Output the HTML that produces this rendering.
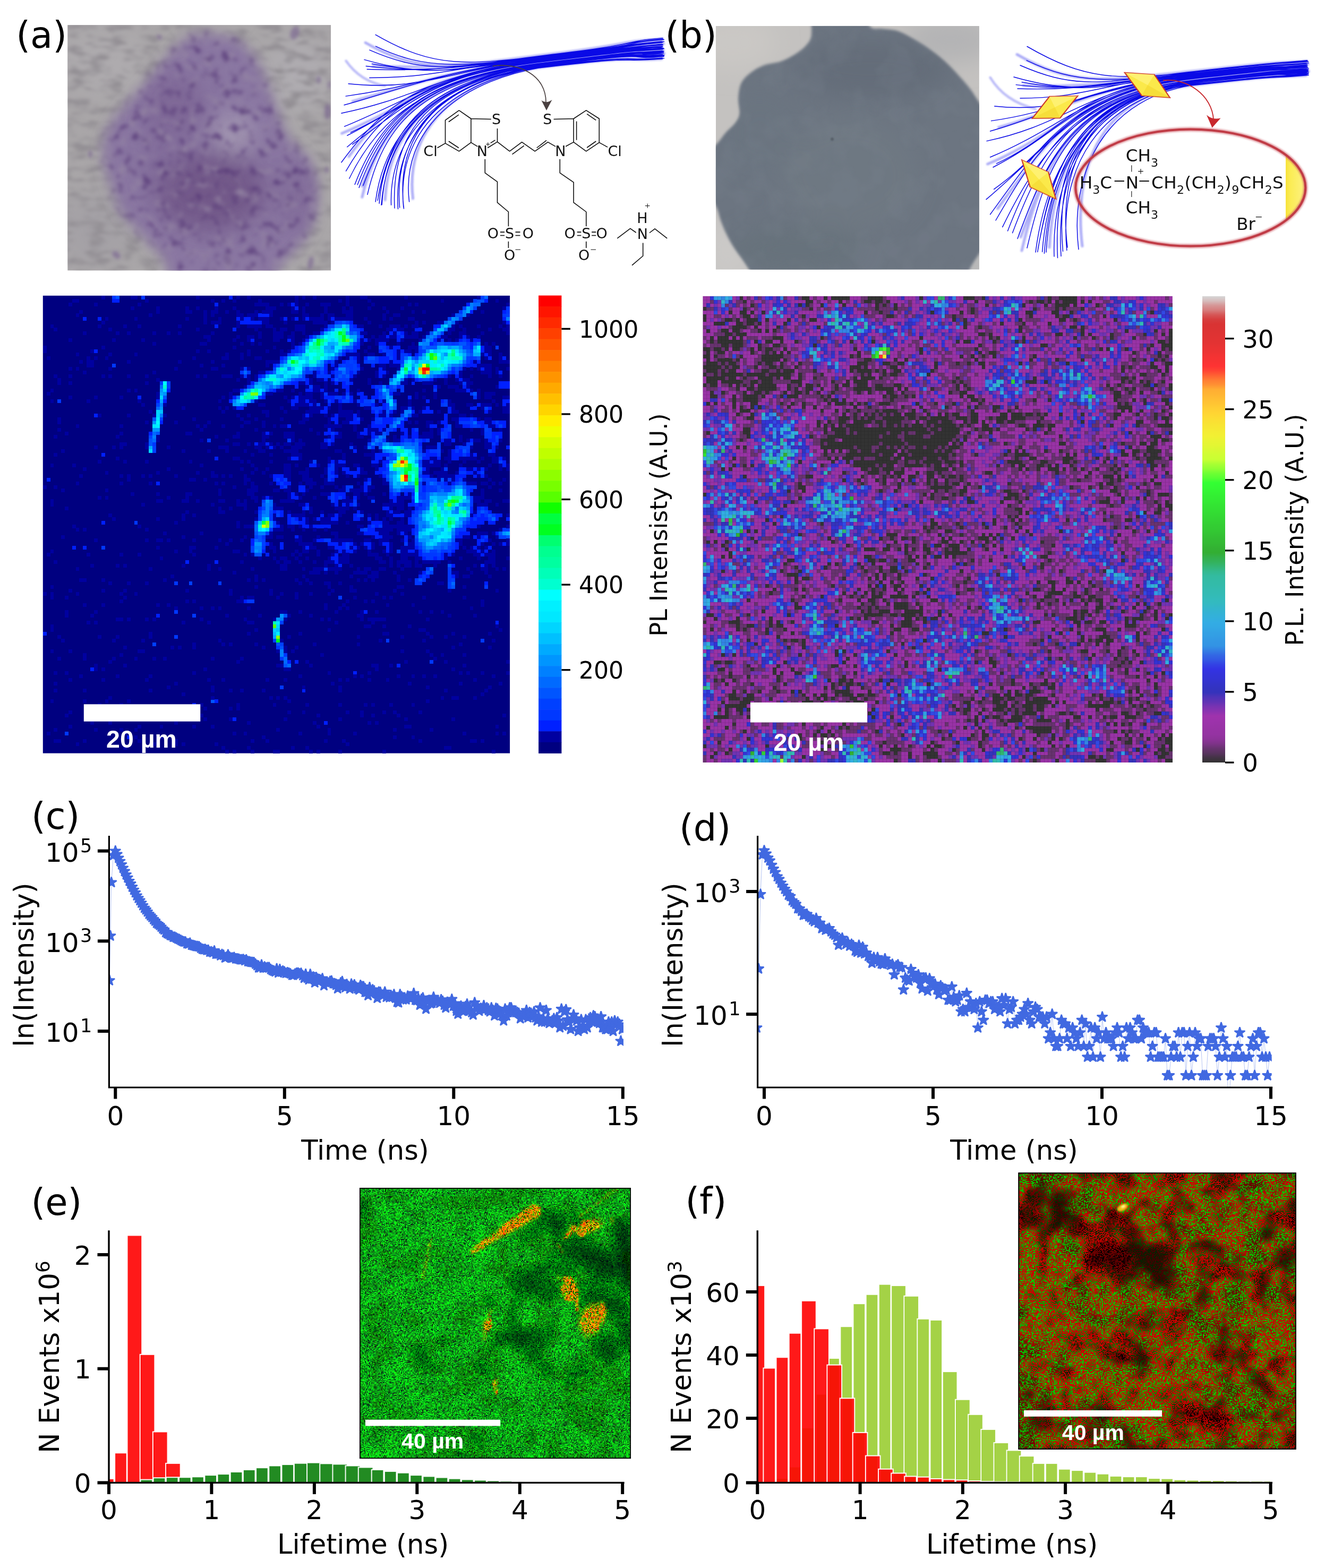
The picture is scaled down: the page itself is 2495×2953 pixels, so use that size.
<!DOCTYPE html>
<html lang="en"><head><meta charset="utf-8"><title>Figure</title>
<style>
html,body{margin:0;padding:0;background:#fff;}
body{width:2495px;height:2953px;overflow:hidden;}
svg{display:block;font-family:'DejaVu Sans','Liberation Sans',sans-serif;}
</style></head><body>
<svg width="2495" height="2953" viewBox="0 0 2495 2953" role="img" aria-label="Six-panel scientific figure">
<rect width="2495" height="2953" fill="#fff"/>
<g id="top">
<defs><filter id="b07" x="-30%" y="-30%" width="160%" height="160%"><feGaussianBlur stdDeviation="0.7"/></filter><filter id="b1" x="-30%" y="-30%" width="160%" height="160%"><feGaussianBlur stdDeviation="1.2"/></filter><filter id="b3" x="-30%" y="-30%" width="160%" height="160%"><feGaussianBlur stdDeviation="3"/></filter><filter id="b5" x="-30%" y="-30%" width="160%" height="160%"><feGaussianBlur stdDeviation="2.6"/></filter><filter id="b9" x="-30%" y="-30%" width="160%" height="160%"><feGaussianBlur stdDeviation="8"/></filter><filter id="b12" x="-30%" y="-30%" width="160%" height="160%"><feGaussianBlur stdDeviation="11"/></filter><filter id="b20" x="-30%" y="-30%" width="160%" height="160%"><feGaussianBlur stdDeviation="22"/></filter><filter id="fb" x="-10%" y="-10%" width="120%" height="120%"><feGaussianBlur stdDeviation="1.8"/></filter><filter id="spk" x="0" y="0" width="100%" height="100%" color-interpolation-filters="sRGB"><feTurbulence type="fractalNoise" baseFrequency="0.06" numOctaves="2" seed="7"/><feColorMatrix type="matrix" values="0 0 0 0 0.33  0 0 0 0 0.21  0 0 0 0 0.46  -3.6 0 0 0 1.68"/><feGaussianBlur stdDeviation="3.2"/></filter><filter id="spl" x="0" y="0" width="100%" height="100%" color-interpolation-filters="sRGB"><feTurbulence type="fractalNoise" baseFrequency="0.045" numOctaves="2" seed="23"/><feColorMatrix type="matrix" values="0 0 0 0 0.58  0 0 0 0 0.52  0 0 0 0 0.64  0 3.5 0 0 -1.9"/><feGaussianBlur stdDeviation="3"/></filter><filter id="bgn" x="0" y="0" width="100%" height="100%" color-interpolation-filters="sRGB"><feTurbulence type="fractalNoise" baseFrequency="0.03 0.07" numOctaves="2" seed="3"/><feColorMatrix type="matrix" values="0 0 0 0 0.575  0 0 0 0 0.56  0 0 0 0 0.58  3 0 0 0 -1.3"/><feGaussianBlur stdDeviation="2.5"/></filter><filter id="mot" x="0" y="0" width="100%" height="100%" color-interpolation-filters="sRGB"><feTurbulence type="fractalNoise" baseFrequency="0.018" numOctaves="3" seed="12"/><feColorMatrix type="matrix" values="0 0 0 0 0.52  0 0 0 0 0.56  0 0 0 0 0.60  4 0 0 0 -1.7"/></filter><linearGradient id="yg" x1="0" y1="0" x2="1" y2="0"><stop offset="0" stop-color="#f7e23a"/><stop offset="0.15" stop-color="#fbec55"/><stop offset="1" stop-color="#fff7a8"/></linearGradient></defs>
<text x="30.3" y="90.3" font-size="68.75">(a)</text>
<text x="1252.5" y="89.5" font-size="68.75">(b)</text>
<clipPath id="pac"><rect x="127.2" y="47.1" width="495.8" height="462.5"/></clipPath><g clip-path="url(#pac)"><rect x="127.2" y="47.1" width="495.8" height="462.5" fill="#a9a6a8"/><g filter="url(#b20)"><ellipse cx="200" cy="120" rx="90" ry="60" fill="#aeabae"/><ellipse cx="560" cy="140" rx="60" ry="70" fill="#afacb0"/><ellipse cx="180" cy="430" rx="70" ry="70" fill="#a4a1a6"/></g><rect x="127.2" y="47.1" width="495.8" height="462.5" filter="url(#bgn)"/><path d="M365.7 66C385 61.7 418.7 64.1 438 71.8C457.3 79.5 470.3 97.3 481.4 112.3C492.5 127.2 497.8 145.5 504.5 161.4C511.2 177.3 515.1 191.3 521.9 207.7C528.6 224.1 535.3 244.8 545 259.7C554.6 274.7 571 283.3 579.7 297.3C588.3 311.3 594.6 326.2 597 343.6C599.4 360.9 597.5 384.5 594.1 401.4C590.8 418.2 583.5 432.7 576.8 444.7C570 456.8 562.3 464 553.7 473.7C545 483.3 534.4 490.5 524.7 502.6C515.1 514.6 526.7 538.7 495.8 545.9C465 553.2 371 555.6 339.7 545.9C308.4 536.3 317.6 502.6 307.9 488.1C298.3 473.7 290.6 468.8 281.9 459.2C273.2 449.6 264.6 439.9 255.9 430.3C247.2 420.6 237.1 413.4 229.9 401.4C222.6 389.3 217.8 372.5 212.5 358C207.2 343.6 200.9 329.1 198.1 314.6C195.2 300.2 192.8 285.7 195.2 271.3C197.6 256.8 203.4 242.4 212.5 227.9C221.7 213.5 237.6 199 250.1 184.6C262.6 170.1 275.6 155.6 287.7 141.2C299.7 126.7 309.4 110.3 322.4 97.8C335.4 85.3 346.5 70.4 365.7 66Z" fill="#8a77a2" filter="url(#b12)"/><mask id="pam"><path d="M365.7 66C385 61.7 418.7 64.1 438 71.8C457.3 79.5 470.3 97.3 481.4 112.3C492.5 127.2 497.8 145.5 504.5 161.4C511.2 177.3 515.1 191.3 521.9 207.7C528.6 224.1 535.3 244.8 545 259.7C554.6 274.7 571 283.3 579.7 297.3C588.3 311.3 594.6 326.2 597 343.6C599.4 360.9 597.5 384.5 594.1 401.4C590.8 418.2 583.5 432.7 576.8 444.7C570 456.8 562.3 464 553.7 473.7C545 483.3 534.4 490.5 524.7 502.6C515.1 514.6 526.7 538.7 495.8 545.9C465 553.2 371 555.6 339.7 545.9C308.4 536.3 317.6 502.6 307.9 488.1C298.3 473.7 290.6 468.8 281.9 459.2C273.2 449.6 264.6 439.9 255.9 430.3C247.2 420.6 237.1 413.4 229.9 401.4C222.6 389.3 217.8 372.5 212.5 358C207.2 343.6 200.9 329.1 198.1 314.6C195.2 300.2 192.8 285.7 195.2 271.3C197.6 256.8 203.4 242.4 212.5 227.9C221.7 213.5 237.6 199 250.1 184.6C262.6 170.1 275.6 155.6 287.7 141.2C299.7 126.7 309.4 110.3 322.4 97.8C335.4 85.3 346.5 70.4 365.7 66Z" fill="#fff" filter="url(#b12)"/></mask><g mask="url(#pam)"><g filter="url(#b20)"><ellipse cx="395" cy="360" rx="105" ry="75" fill="#6e5485" opacity="0.85"/><ellipse cx="330" cy="200" rx="60" ry="60" fill="#7a6293" opacity="0.7"/><ellipse cx="560" cy="370" rx="35" ry="70" fill="#7b6494" opacity="0.55"/><ellipse cx="440" cy="250" rx="36" ry="38" fill="#a89eb6" opacity="0.9"/><ellipse cx="300" cy="300" rx="40" ry="70" fill="#7d6696" opacity="0.5"/></g><rect x="127.2" y="47.1" width="495.8" height="462.5" filter="url(#spl)" opacity="0.8"/><rect x="127.2" y="47.1" width="495.8" height="462.5" filter="url(#spk)" opacity="0.75"/></g><g filter="url(#b3)" fill="#77618f" opacity="0.6"><ellipse cx="555" cy="62" rx="8" ry="13" transform="rotate(20 555 62)"/><ellipse cx="617" cy="210" rx="6" ry="15" transform="rotate(0 617 210)"/><ellipse cx="219" cy="480" rx="9" ry="6" transform="rotate(40 219 480)"/><ellipse cx="428" cy="488" rx="7" ry="11" transform="rotate(-20 428 488)"/><ellipse cx="585" cy="495" rx="5" ry="13" transform="rotate(10 585 495)"/><ellipse cx="440" cy="75" rx="5" ry="4" transform="rotate(0 440 75)"/><ellipse cx="300" cy="70" rx="6" ry="4" transform="rotate(30 300 70)"/><ellipse cx="365" cy="75" rx="5" ry="7" transform="rotate(0 365 75)"/><ellipse cx="170" cy="290" rx="4" ry="7" transform="rotate(0 170 290)"/><ellipse cx="600" cy="150" rx="4" ry="7" transform="rotate(0 600 150)"/><ellipse cx="620" cy="160" rx="3" ry="8" transform="rotate(0 620 160)"/><ellipse cx="615" cy="320" rx="4" ry="6" transform="rotate(0 615 320)"/></g></g>
<clipPath id="pbc"><rect x="1347.9" y="48.9" width="496.0" height="458.6"/></clipPath><g clip-path="url(#pbc)"><rect x="1347.9" y="48.9" width="496.0" height="458.6" fill="#c4c2c0"/><g filter="url(#b20)"><ellipse cx="1790" cy="75" rx="90" ry="45" fill="#b4b4b5"/><ellipse cx="1380" cy="80" rx="80" ry="50" fill="#cac8c5"/><ellipse cx="1370" cy="470" rx="50" ry="60" fill="#cbc9c7"/><ellipse cx="1840" cy="500" rx="25" ry="30" fill="#b0b1b3"/></g><path d="M1527.1 35.7C1527.3 41.1 1529.3 59.5 1527.9 67.9C1526.4 76.2 1523.1 80.1 1518.2 85.7C1513.3 91.4 1506.6 96.7 1498.6 101.8C1490.5 106.8 1480.1 112.5 1470 116.1C1459.9 119.6 1447.4 119.6 1437.9 123.2C1428.3 126.8 1419.9 131.8 1412.9 137.5C1405.8 143.2 1399.4 149.1 1395.7 157.1C1392 165.2 1391.1 176.2 1390.7 185.7C1390.3 195.2 1394.2 206.5 1393.2 214.3C1392.3 222 1389.3 226.2 1385 232.1C1380.7 238.1 1372.5 244 1367.1 250C1361.8 256 1357.7 262.5 1352.9 267.9C1348 273.2 1340.4 279.8 1337.9 282.1L1337.9 371.4C1339.9 375 1347.1 385.4 1350.4 392.9C1353.6 400.3 1354.5 408 1357.5 416.1C1360.5 424.1 1364 432.7 1368.2 441.1C1372.4 449.4 1377.1 457.7 1382.5 466.1C1387.9 474.4 1394.1 481.8 1400.4 491.1C1406.6 500.3 1416.7 516.4 1420 521.4L1818.2 521.4C1819.7 518.6 1824.5 509.2 1827.1 504.3C1829.8 499.4 1829.5 499.4 1834.3 492.1C1839 484.9 1852.1 466 1855.7 460.7L1855.7 210.7C1853.3 207.1 1846.2 196.4 1841.4 189.3C1836.7 182.1 1833.1 175.6 1827.1 167.9C1821.2 160.1 1814 151.8 1805.7 142.9C1797.4 133.9 1787.3 123.2 1777.1 114.3C1767 105.4 1755.1 96.4 1745 89.3C1734.9 82.1 1725.4 76.5 1716.4 71.4C1707.5 66.4 1700.4 61.7 1691.4 58.9C1682.5 56.1 1671.2 55.7 1662.9 54.6C1654.5 53.6 1647.1 56 1641.4 52.9C1635.8 49.7 1631 38.6 1628.9 35.7Z" fill="#6c7581" filter="url(#b5)"/><mask id="pbm"><path d="M1527.1 35.7C1527.3 41.1 1529.3 59.5 1527.9 67.9C1526.4 76.2 1523.1 80.1 1518.2 85.7C1513.3 91.4 1506.6 96.7 1498.6 101.8C1490.5 106.8 1480.1 112.5 1470 116.1C1459.9 119.6 1447.4 119.6 1437.9 123.2C1428.3 126.8 1419.9 131.8 1412.9 137.5C1405.8 143.2 1399.4 149.1 1395.7 157.1C1392 165.2 1391.1 176.2 1390.7 185.7C1390.3 195.2 1394.2 206.5 1393.2 214.3C1392.3 222 1389.3 226.2 1385 232.1C1380.7 238.1 1372.5 244 1367.1 250C1361.8 256 1357.7 262.5 1352.9 267.9C1348 273.2 1340.4 279.8 1337.9 282.1L1337.9 371.4C1339.9 375 1347.1 385.4 1350.4 392.9C1353.6 400.3 1354.5 408 1357.5 416.1C1360.5 424.1 1364 432.7 1368.2 441.1C1372.4 449.4 1377.1 457.7 1382.5 466.1C1387.9 474.4 1394.1 481.8 1400.4 491.1C1406.6 500.3 1416.7 516.4 1420 521.4L1818.2 521.4C1819.7 518.6 1824.5 509.2 1827.1 504.3C1829.8 499.4 1829.5 499.4 1834.3 492.1C1839 484.9 1852.1 466 1855.7 460.7L1855.7 210.7C1853.3 207.1 1846.2 196.4 1841.4 189.3C1836.7 182.1 1833.1 175.6 1827.1 167.9C1821.2 160.1 1814 151.8 1805.7 142.9C1797.4 133.9 1787.3 123.2 1777.1 114.3C1767 105.4 1755.1 96.4 1745 89.3C1734.9 82.1 1725.4 76.5 1716.4 71.4C1707.5 66.4 1700.4 61.7 1691.4 58.9C1682.5 56.1 1671.2 55.7 1662.9 54.6C1654.5 53.6 1647.1 56 1641.4 52.9C1635.8 49.7 1631 38.6 1628.9 35.7Z" fill="#fff" filter="url(#b5)"/></mask><g mask="url(#pbm)"><g filter="url(#b20)"><ellipse cx="1640" cy="130" rx="150" ry="55" fill="#626c78" opacity="0.8"/><ellipse cx="1600" cy="330" rx="130" ry="110" fill="#717a84" opacity="0.6"/><ellipse cx="1500" cy="470" rx="130" ry="45" fill="#66727a" opacity="0.8"/><ellipse cx="1430" cy="250" rx="70" ry="80" fill="#6a7481" opacity="0.6"/></g><rect x="1347.9" y="48.9" width="496.0" height="458.6" filter="url(#mot)" opacity="0.13"/></g><circle cx="1567" cy="262" r="3" fill="#4f5660" opacity="0.7" filter="url(#b1)"/></g>
<g fill="none" stroke-linecap="round"><path d="M688.1 80.4C793.8 141.5 850.7 124.6 1026.1 103.5S1157.1 79.3 1247.1 73.4M702.2 124.5C826.9 128.9 868.9 125.5 1037.4 105.3S1156.9 83.8 1246.9 78.5M643.6 251.2C785.8 192 825 136.4 1030.8 111.7S1155.6 96.4 1245.6 88M681.9 371.3C718.5 212.9 824 144.4 1026.8 120S1160.7 106.5 1250.7 100.7M725.1 376.6C732.5 236 830.7 145.5 1026.6 122S1158 108.5 1248 103.4M777.6 373.9C762.9 253.9 846.4 147.4 1028.7 125.5S1155.9 116 1245.9 110.9M664.1 190.8C795.9 153.8 847 131.9 1038.8 108.9S1159.5 90 1249.5 82.5M656.9 294.8C750.7 165.7 828.7 138.8 1045.3 112.8S1159.1 99 1249.1 94.2M682 350.4C735.2 204.3 821.8 143.3 1047.4 116.2S1155.3 104.1 1245.3 97.1" stroke="#6a6af0" stroke-opacity="0.55" stroke-width="5" filter="url(#fb)"/><path d="M651.5 114.6Q678.7 153.5 725.2 161.6" stroke="#7a7af2" stroke-opacity="0.5" stroke-width="4.5" filter="url(#fb)"/><path d="M707.1 65.4C818.3 129.6 878.4 122.8 1035.3 103.9S1158.6 81.5 1248.6 73.6M695.8 94.2C812.2 145.1 862.5 123.7 1046.1 101.6S1157.9 79.6 1247.9 71.7M686 112.4C814.8 149.3 849.6 128.2 1031.1 106.4S1156.1 86 1246.1 78.5M691.2 130.5C809.3 134.6 865.2 127.3 1040 106.3S1158 87.8 1248 79.3M695.8 146.4C816.2 146.4 857.2 127.2 1026.7 106.9S1160.6 84.2 1250.6 78.4M656.1 157.7C796.8 172.5 844.4 131.5 1034.8 108.7S1156.3 91.5 1246.3 83.6M651.1 181.1C786.9 162.7 846.6 130 1033.8 107.6S1156.3 91.5 1246.3 83.2M648.1 197.8C777.5 161.5 830.1 133.6 1042.2 108.2S1158.2 90.8 1248.2 84.9M642.9 213.3C795.4 181.7 831.7 134.3 1030.4 110.4S1158 95.7 1248 87.4M648.6 238.2C788.7 179.9 838.1 134.5 1029.2 111.6S1157.4 97 1247.4 88.6M653.8 255.2C786.6 187.6 822 137 1022.4 113S1156.4 92.3 1246.4 87.2M653.8 276.8C772.3 177.4 838.4 137.2 1035.8 113.5S1158.9 97.2 1248.9 90.4M642.9 305.8C737.2 176 815.7 139.8 1039 113S1155.4 94.4 1245.4 89.3M651.5 322.1C724.9 195.1 812.3 141.3 1034.4 114.7S1157.9 100 1247.9 92.9M657.7 336.2C722.2 203.8 827.6 142 1037.7 116.8S1159.2 104 1249.2 96.2M668.1 347.5C725.8 197.2 824.5 142.2 1031.4 117.4S1156.7 102 1246.7 95.6M676 353.4C732.8 197.5 822.3 144.4 1044.4 117.7S1155 105.9 1245 99.2M691.9 366.3C726.1 218.2 812.8 146.7 1030.9 120.5S1157 110.7 1247 103.5M707.1 379.9C726.6 229.7 837.7 143.3 1038.9 119.2S1160.4 112.7 1250.4 104.6M719.1 385.6C727.3 229.3 841.9 143.3 1039 119.6S1159.7 108.6 1249.7 100.1M736.6 386.1C731.6 244.8 842.5 143.7 1048.9 118.9S1160 114.2 1250 106.6M749.5 393.5C739.3 247.5 839.3 147.1 1031.8 124S1160.6 116.2 1250.6 109.9M760.4 392.9C742.9 250.1 831.1 149.6 1022 126.7S1157 118.5 1247 110.6M770.6 379.9C754.3 247.1 862.2 145.2 1046.6 123.1S1157.2 115.9 1247.2 109.2M707.4 87.2C803.9 133.5 870.8 125.5 1043 104.8S1155.1 87 1245.1 78.2M712.3 369.7C739.8 217.6 830.2 146.9 1018.4 124.4S1157.4 107.5 1247.4 102.6M689.2 124.5C806.7 139.5 868.5 124.4 1054.8 102.1S1160.3 82 1250.3 74.6M711.2 377.5C736.5 223.6 821.2 143.5 1055.5 115.4S1159.2 108.8 1249.2 100.2M718 386.1C728.2 252.6 814.2 145.5 1033.4 119.2S1156.8 108.3 1246.8 100.3M700.4 120.3C841 144.9 866.9 127.5 1048.6 105.7S1156.9 88.5 1246.9 80M673.2 348C728.8 200.3 819.9 144.2 1019.7 120.2S1160 105.4 1250 96.9M752.6 390.9C741.1 266 812.8 152.2 1018.5 127.5S1157.5 117.7 1247.5 110.8M714.1 383.1C726.3 221.6 853.8 141.7 1044.2 118.8S1155.6 106.9 1245.6 100.9M663.7 271.9C769.7 197 815 138.7 1031 112.8S1160.4 99.2 1250.4 91.5M683.8 349.4C739.9 198.9 817.2 144.6 1047.9 116.9S1159.1 103.2 1249.1 98.3M743 392C735 228.3 831.1 146.4 1046.5 120.5S1160.2 114.1 1250.2 106.3M660.3 249.4C783.5 192.8 809.5 137.6 1013.6 113.1S1158.1 92.4 1248.1 83.7M759.8 390.2C746.2 248.3 846 144.9 1058.9 119.4S1160.6 111.4 1250.6 103.8" stroke="#0a0ae6" stroke-width="1.45"/></g>
<path d="M864.4 207.8L886.9 223.5L886.9 268.4L864.4 284.8L838.5 269.8L838.5 226.3L864.4 207.8M844.8 229.5L863.8 216.2M844.8 266L863.8 278.5M886.9 223.5L924.8 224.4M936.5 242L936.5 267.1M936.5 267.1L918.2 278.5M932.4 263.8L923.7 269.3M886.9 268.4L899.2 275.8M838.5 269.8L823.5 278.5M936.5 267.1L959.6 284.8L982.7 267.6L1007.2 284.8L1031.7 267.6L1046.1 275.8M964.5 290.7L986.8 274.4M1010.7 278.5L1029 264.4M913.3 299.7L913.3 325.6L936.5 342.4L936.5 381.4L957.4 399L957.4 426.3M1054.3 299.7L1054.3 325.6L1080.1 343.3L1080.1 381.4L1103.8 399L1103.8 426.3M1080.1 223.5L1103.8 207.8L1128.3 223.5L1128.3 268.4L1103.8 284.8L1080.1 267.6L1080.1 223.5M1085.6 228.4L1085.6 263.8M1105.2 214.6L1122.3 226.3M1122.3 266L1105.2 278M1042.6 224.4L1080.1 223.5M1080.1 267.6L1065.2 275.8M1128.3 268.4L1144.1 277.1M957.4 454.8L957.4 467.1M1103.8 454.8L1103.8 467.1M941.9 437.1L950.1 437.1M941.9 443.4L950.1 443.4M970.5 437.1L979.5 437.1M970.5 443.4L979.5 443.4M1086.7 437.1L1094.3 437.1M1086.7 443.4L1094.3 443.4M1114.1 437.1L1122.3 437.1M1114.1 443.4L1122.3 443.4M1197.7 438L1186.8 430.3L1162.3 448.8M1223 438.5L1233.1 430.9L1256.2 448.8M1210.7 457.6L1210.7 482L1190.1 499.7" fill="none" stroke="#0a0a0a" stroke-width="1.55" stroke-linejoin="round"/><path d="M915.2 271.7L922.3 271.7M918.8 268.2L918.8 275.2M1214.8 387.6L1223.5 387.6M1219.2 383.5L1219.2 391.7M970.5 470.1L980 470.1M1112.5 470.1L1122 470.1" fill="none" stroke="#0a0a0a" stroke-width="1.0"/><text x="934.6" y="234.4" font-size="27" text-anchor="middle" fill="#111">S</text><text x="1030.9" y="234.4" font-size="27" text-anchor="middle" fill="#111">S</text><text x="907.9" y="294.3" font-size="27" text-anchor="middle" fill="#111">N</text><text x="1055.4" y="294.3" font-size="27" text-anchor="middle" fill="#111">N</text><text x="810.5" y="294.3" font-size="27" text-anchor="middle" fill="#111">Cl</text><text x="1157.7" y="294.3" font-size="27" text-anchor="middle" fill="#111">Cl</text><text x="928.3" y="449.4" font-size="27" text-anchor="middle" fill="#111">O</text><text x="959.6" y="449.4" font-size="27" text-anchor="middle" fill="#111">S</text><text x="994.4" y="449.4" font-size="27" text-anchor="middle" fill="#111">O</text><text x="959.6" y="489.7" font-size="27" text-anchor="middle" fill="#111">O</text><text x="1073.1" y="449.4" font-size="27" text-anchor="middle" fill="#111">O</text><text x="1103.8" y="449.4" font-size="27" text-anchor="middle" fill="#111">S</text><text x="1133.2" y="449.4" font-size="27" text-anchor="middle" fill="#111">O</text><text x="1099.7" y="489.7" font-size="27" text-anchor="middle" fill="#111">O</text><text x="1209.9" y="450.2" font-size="27" text-anchor="middle" fill="#111">N</text><text x="1209.4" y="419.5" font-size="27" text-anchor="middle" fill="#111">H</text><path d="M927.5 124.5C975 117 1030 140 1028 196" fill="none" stroke="#4a4040" stroke-width="1.7"/><path d="M1029 208L1019.5 189Q1028.5 196 1039.5 188Z" fill="#4a4040"/>
<g fill="none" stroke-linecap="round"><path d="M1915 102.5C2017.9 161.9 2072.4 153.3 2243.1 134.6S2370.6 121.2 2460.6 115.3M1927 161C2048.9 165.3 2089.6 155.1 2254.4 137S2370.4 124.3 2460.4 119M1859.6 309C2005.3 248.3 2036.9 167.4 2247.8 144.2S2369.1 134 2459.1 125.6M1924 472C1962.7 304.5 2029.4 177.3 2243.8 153.7S2374.2 140.4 2464.2 134.6M1976 466C1983.6 320.1 2040.2 178.4 2243.6 156S2371.5 141.5 2461.5 136.4M2038 463.6C2022.7 338.7 2056 181 2245.7 160.2S2369.4 147.1 2459.4 142M1880.6 240C2013.9 202.5 2061.8 162.5 2255.8 141.2S2373 128.6 2463 121.1M1878.6 392.8C1978.3 255.5 2031.9 171.2 2262.3 145.9S2372.6 135.3 2462.6 130.4M1922 446.5C1977.5 294 2028.9 175.8 2264.4 149.9S2368.8 138.5 2458.8 131.5" stroke="#6a6af0" stroke-opacity="0.55" stroke-width="5" filter="url(#fb)"/><path d="M1864.6 146Q1892 191 1950 205" stroke="#7a7af2" stroke-opacity="0.5" stroke-width="4.5" filter="url(#fb)"/><path d="M1934 87.5C2042.3 150 2099.5 152.2 2252.3 135.4S2372.1 122.8 2462.1 114.9M1921 123C2034.7 172.7 2083.7 152.7 2263.1 133S2371.4 121.5 2461.4 113.6M1909 145C2035.5 181.3 2069.8 157.7 2248.1 138.1S2369.6 126.3 2459.6 118.7M1916 167C2031.6 171 2085.9 157 2257 138.2S2371.5 127.7 2461.5 119.1M1921 185C2038.8 185 2077.9 156.7 2243.7 138.5S2374.1 124.5 2464.1 118.6M1872.7 200C2014.1 214.9 2060.5 161.9 2251.8 140.8S2369.8 130.4 2459.8 122.6M1866.5 227.6C2003.9 209 2061.5 160.4 2250.8 139.5S2369.8 131 2459.8 122.7M1864.6 247C1995.4 210.2 2044.6 164.1 2259.2 140.5S2371.7 129.6 2461.7 123.7M1858 265.6C2013.3 233.4 2045 165 2247.4 142.7S2371.5 134 2461.5 125.7M1864.6 296C2008.1 236.3 2050.5 165.6 2246.2 144S2370.9 134.9 2460.9 126.4M1870 315C2006.6 245.4 2033.2 168.1 2239.4 145.4S2369.9 129.9 2459.9 124.8M1857 375.6C1987.4 266.2 2035.4 170.4 2252.8 146.5S2372.4 133.6 2462.4 126.9M1864.6 403.8C1964.9 265.7 2018.4 172.2 2256 146S2368.9 130.9 2458.9 125.8M1875 415C1952.7 280.4 2016 173.7 2251.4 147.8S2371.4 136 2461.4 128.8M1887.7 427.6C1955.4 288.9 2034.5 174.6 2254.7 150.4S2372.7 138.7 2462.7 130.9M1897.5 435C1958.1 277.2 2031.2 174.8 2248.4 150.9S2370.2 136.8 2460.2 130.4M1916 449.5C1975.2 286.9 2029.7 177.1 2261.4 151.6S2368.5 139.7 2458.5 133M1934 467C1970.2 310.3 2017.2 179.9 2247.9 154.5S2370.5 144 2460.5 136.9M1950 475C1970.5 316.9 2044.2 176.5 2255.9 153.2S2373.9 146.1 2463.9 138M1970 475C1978.5 313.4 2052.2 176.1 2256 153.7S2373.2 141.8 2463.2 133.3M1985 483C1979.8 334.1 2048.3 177 2265.9 153.1S2373.5 147 2463.5 139.5M1998 482.4C1987.3 329.2 2046.8 180.8 2248.8 158.6S2374.1 147.8 2464.1 141.5M2010 466C1992.1 320.1 2043.9 182.6 2239 161.2S2370.5 149.6 2460.5 141.7M2031 469.6C2014.2 332.6 2073.3 178.8 2263.6 157.9S2370.7 146.8 2460.7 140.2M1933.2 113.9C2027.3 159 2092.1 155 2260 136.6S2368.6 127.4 2458.6 118.7M1954.8 467.6C1984.1 305.7 2035 180.3 2235.4 158.3S2370.9 140 2460.9 135.1M1913.3 159.6C2028.6 174.3 2089 153.9 2271.8 133.7S2373.8 123.3 2463.8 115.9M1953.8 474.5C1980.4 312.5 2025.8 176.3 2272.5 149.1S2372.7 143 2462.7 134.5M1966.4 477.2C1977.1 338 2021.8 178.2 2250.4 153.1S2370.3 142 2460.3 134.1M1924.2 154.7C2062 178.7 2087.4 157.4 2265.6 137.8S2370.4 128.2 2460.4 119.7M1906.5 438.7C1965 283.3 2026.5 176.7 2236.7 153.6S2373.5 139.7 2463.5 131.3M2001.5 473.2C1989.6 343.3 2021.5 185.5 2235.5 161.9S2371 148.8 2461 141.9M1962.6 474.2C1975.2 306.7 2063.7 174.6 2261.2 152.9S2369.1 140.2 2459.1 134.1M1871.6 356.4C1985.9 275.7 2015.2 171.1 2248 145.5S2373.9 136.3 2463.9 128.6M1918.8 441.5C1977.6 284 2023.6 177.3 2264.9 150.7S2372.6 137.2 2462.6 132.3M1991.5 485.6C1983 313.4 2036.9 179.8 2263.5 154.9S2373.7 146.3 2463.7 138.5M1876.4 308.1C2003.2 249.8 2020.4 168.2 2230.6 145.1S2371.6 130.5 2461.6 121.8M2008.8 471.4C1994.9 325.4 2056.9 177.8 2275.9 153.7S2374.1 143.3 2464.1 135.8" stroke="#0a0ae6" stroke-width="1.45"/></g>
<path d="M2118 136.9L2173.6 140.5L2202.8 183.7L2149.8 180Z" fill="#fbe94a" stroke="#cc3a2e" stroke-width="2.2" stroke-linejoin="miter"/><path d="M2118 136.9L2161.1 160.3L2173.6 140.5Z" fill="#fff27a" opacity="0.8"/><path d="M2202.8 183.7L2161.1 160.3L2149.8 180Z" fill="#f3d933" opacity="0.7"/>
<path d="M1976.1 181.9L2029.2 180.8L1996.3 222.1L1944 222.8Z" fill="#fbe94a" stroke="#cc3a2e" stroke-width="2.2" stroke-linejoin="miter"/><path d="M1976.1 181.9L1986.4 201.9L2029.2 180.8Z" fill="#fff27a" opacity="0.8"/><path d="M1996.3 222.1L1986.4 201.9L1944 222.8Z" fill="#f3d933" opacity="0.7"/>
<path d="M1924.2 301.4L1974.3 324.5L1988.2 374.6L1939.6 351.9Z" fill="#fbe94a" stroke="#cc3a2e" stroke-width="2.2" stroke-linejoin="miter"/><path d="M1924.2 301.4L1956.6 338.1L1974.3 324.5Z" fill="#fff27a" opacity="0.8"/><path d="M1988.2 374.6L1956.6 338.1L1939.6 351.9Z" fill="#f3d933" opacity="0.7"/>
<clipPath id="elc"><ellipse cx="2241.8" cy="353.5" rx="217" ry="110.6"/></clipPath><g clip-path="url(#elc)"><rect x="2421" y="240" width="60" height="230" fill="url(#yg)"/></g><ellipse cx="2241.8" cy="353.5" rx="216.5" ry="110.1" fill="none" stroke="#c9505a" stroke-opacity="0.6" stroke-width="8" filter="url(#fb)"/><ellipse cx="2241.8" cy="353.5" rx="216.5" ry="110.1" fill="none" stroke="#c03a45" stroke-width="4" filter="url(#b07)"/><text x="2032.8" y="355.2" font-size="32.5" fill="#111">H<tspan font-size="22" dy="9.5">3</tspan><tspan dy="-9.5">C</tspan></text><text x="2119.8" y="355.2" font-size="32.5" fill="#111">N</text><text x="2168.1" y="355.2" font-size="32.5" fill="#111" textLength="248.6" lengthAdjust="spacing">CH<tspan font-size="22" dy="9.5">2</tspan><tspan dy="-9.5">(CH</tspan><tspan font-size="22" dy="9.5">2</tspan><tspan dy="-9.5">)</tspan><tspan font-size="22" dy="9.5">9</tspan><tspan dy="-9.5">CH</tspan><tspan font-size="22" dy="9.5">2</tspan><tspan dy="-9.5">S</tspan></text><text x="2119.8" y="304" font-size="32.5" fill="#111">CH<tspan font-size="22" dy="9.5">3</tspan></text><text x="2119.8" y="402" font-size="32.5" fill="#111">CH<tspan font-size="22" dy="9.5">3</tspan></text><text x="2328.2" y="433.1" font-size="32.5" fill="#111">Br</text><path d="M2098.6 340.9L2116.9 340.9M2145.4 340.9L2163.7 340.9" stroke="#111" stroke-width="2" fill="none"/><path d="M2130.8 311.3L2130.8 323.4M2130.8 359.9L2130.8 370.9M2143.2 322.6L2152.7 322.6M2148 317.9L2148 327.4M2364.8 408.6L2375.8 408.6" stroke="#111" stroke-width="1.1" fill="none"/><path d="M2190 151.5C2233.9 146 2283.3 178.9 2285.1 226.5" fill="none" stroke="#c8282d" stroke-width="1.8"/><path d="M2282.5 240.4L2272 216.4Q2283.5 226.4 2298.5 222.4Z" fill="#c8282d"/>
</g>
<g id="heat">
<rect x="80.8" y="556.8" width="879.3" height="861.8" fill="#000080"/>
<g transform="translate(80.8 556.8) scale(6.86953 6.73281) translate(0 0.5)" fill="none" stroke-width="1.04" shape-rendering="crispEdges"><path stroke="#ff0000" d="M104 20h2M99 50h1"/><path stroke="#ff2a00" d="M104 21h1M98 46h1M99 51h1"/><path stroke="#ffaa00" d="M103 20h1"/><path stroke="#ffc000" d="M105 21h1M99 46h1"/><path stroke="#ffee00" d="M98 47h1"/><path stroke="#eeff00" d="M104 19h1M98 50h1M98 51h1"/><path stroke="#d5ff00" d="M60 64h1"/><path stroke="#c0ff00" d="M103 21h1"/><path stroke="#aaff00" d="M97 46h1"/><path stroke="#90ff00" d="M98 45h1M96 47h2M61 64h1M64 95h1"/><path stroke="#78ff00" d="M57 27h2M99 47h1M61 63h1"/><path stroke="#58ff00" d="M83 12h1M107 17h1M111 58h1M63 92h1"/><path stroke="#10ff00" d="M82 12h1M106 16h1M105 19h1M102 52h1M112 57h1"/><path stroke="#00ff40" d="M99 20h1M99 45h1M99 48h1M102 51h1M111 57h1M113 57h1M60 63h1M111 63h1"/><path stroke="#00ff20" d="M81 10h1M82 11h1M75 12h1M75 13h1M106 17h1M68 18h1M100 47h1M100 48h1M99 49h1M64 96h1"/><path stroke="#00ff70" d="M82 10h1M76 12h1M107 16h1M112 16h1M100 50h1M110 58h1M108 61h1"/><path stroke="#00ff90" d="M82 9h1M74 13h1M75 14h1M112 15h1M69 18h1M103 19h1M96 48h1M102 48h1M102 50h1M100 51h1M102 53h1M112 56h2M112 58h1M107 59h1M115 60h1M108 62h1M111 62h1M111 64h1"/><path stroke="#00ffa0" d="M81 11h1M81 12h1M76 13h1M74 14h1M106 20h2M99 21h1M104 22h1M58 26h1M55 28h1M57 28h1M97 43h2M98 48h1M101 48h1M102 49h1M102 54h1M114 56h1M111 59h1M107 60h2M108 63h1M112 63h1"/><path stroke="#00ffb8" d="M83 11h1M77 12h1M84 12h1M82 13h2M73 14h1M73 15h1M75 15h1M76 16h1M105 16h1M111 16h1M75 17h1M112 17h2M99 19h1M109 19h1M108 20h1M56 27h1M56 28h1M101 47h1M98 49h1M100 49h1M107 58h1M114 60h1M107 61h1M109 62h1M112 62h1M63 91h1"/><path stroke="#00ffd0" d="M80 10h1M80 11h1M81 13h1M74 15h1M76 15h1M72 16h1M75 16h1M74 17h1M108 17h1M111 17h1M114 17h1M67 18h1M73 18h2M107 18h1M68 19h2M100 19h1M65 20h1M62 23h2M33 25h1M57 26h1M97 42h1M97 48h1M101 49h1M114 57h1M106 59h1M110 59h1M115 61h1M107 63h1M109 63h1M59 64h1M111 65h1"/><path stroke="#00ffff" d="M77 11h1M73 13h1M111 15h1M73 16h2M108 16h1M113 16h1M73 17h1M76 17h1M70 18h2M110 18h1M108 19h1M69 20h2M100 20h1M69 21h1M98 21h1M33 24h1M59 26h1M54 28h1M31 35h1M98 44h2M97 45h1M100 46h1M95 47h1M97 50h1M101 50h1M101 51h1M99 52h1M111 56h1M109 61h1M107 62h1M108 64h1M112 64h1M60 65h1M106 65h1"/><path stroke="#00f0ff" d="M81 9h1M79 10h1M79 11h1M74 12h1M80 12h1M77 13h1M76 14h1M72 15h1M105 17h1M100 18h1M106 18h1M111 18h1M70 19h1M106 19h2M110 19h1M109 20h1M68 21h1M97 22h1M103 22h1M61 23h1M55 27h1M59 27h1M31 36h1M96 42h1M99 43h1M100 45h2M102 47h1M102 55h1M102 57h1M110 57h1M113 58h1M108 59h1M106 60h1M111 61h1M110 62h1M113 62h1M110 63h1M110 65h1M108 67h2M64 94h1"/><path stroke="#00e8ff" d="M80 9h1M78 11h1M78 12h1M80 14h2M119 14h1M80 15h1M106 15h1M109 15h2M113 15h1M77 16h1M79 16h1M68 17h2M110 17h1M108 18h2M112 18h2M66 20h1M102 20h1M65 21h1M67 21h1M102 21h1M62 22h2M66 22h1M98 22h1M64 23h1M63 24h1M58 28h1M54 29h2M31 34h1M30 36h1M94 42h1M100 43h1M101 44h1M96 46h1M101 46h1M95 48h1M97 51h1M114 54h1M114 55h1M102 56h1M115 56h1M109 60h1M111 60h1M105 61h2M110 61h1M112 61h3M105 62h1M106 63h1M107 64h1M109 64h2M59 65h1M105 65h1M105 66h1M109 66h2M110 67h2M108 68h1M64 91h1"/><path stroke="#00d5ff" d="M82 8h1M110 8h1M83 9h1M78 10h1M79 12h1M108 15h1M119 15h1M71 16h1M78 16h1M114 16h1M71 17h1M77 17h1M72 18h1M103 18h3M67 19h1M73 19h2M102 19h1M98 20h1M110 20h1M64 21h1M66 21h1M70 21h1M67 22h1M65 23h1M97 23h1M64 24h1M33 26h1M32 28h1M95 29h1M95 30h1M31 32h1M31 33h1M93 42h1M95 42h1M29 43h1M100 44h1M97 49h1M98 52h1M113 54h1M113 55h1M107 57h1M106 58h1M114 59h1M110 60h1M61 62h1M106 62h1M61 65h1M107 65h1M104 66h1M111 66h1M107 68h1M106 69h1M64 92h1M63 93h1"/><path stroke="#00c0ff" d="M108 9h2M76 11h1M80 13h1M72 14h1M109 14h2M77 15h1M107 15h1M118 15h1M109 16h1M70 17h1M72 17h1M104 17h1M109 17h1M75 18h1M99 18h1M101 18h1M114 18h1M66 19h1M71 19h1M64 20h1M68 20h1M107 21h2M105 22h1M66 23h1M96 23h1M96 24h1M58 25h2M60 26h1M93 26h1M53 29h1M56 29h1M32 32h1M98 42h1M96 43h1M97 44h1M102 45h1M96 50h1M96 51h1M96 52h1M101 52h1M106 56h2M115 57h1M108 58h2M109 59h1M112 59h1M115 59h1M105 60h1M116 60h1M104 61h1M59 63h1M113 63h1M106 64h1M108 65h1M103 66h1M106 66h3M103 67h1M107 67h1M106 68h1M110 68h1M105 69h1M107 69h1M64 93h1M63 94h1"/><path stroke="#00aaff" d="M116 3h1M116 4h1M83 8h1M109 8h1M77 10h1M107 10h1M84 11h2M85 12h1M78 13h2M77 14h2M108 14h1M112 14h2M78 15h2M114 15h1M115 16h1M118 16h2M67 17h1M78 17h1M100 17h1M72 19h1M101 19h1M111 19h1M101 21h1M106 21h1M61 22h1M64 22h1M68 22h2M102 22h1M60 23h1M59 24h1M95 24h1M60 25h1M56 26h1M32 27h1M94 28h1M32 29h1M53 30h1M29 42h1M101 43h1M97 52h1M100 52h1M96 53h2M111 55h2M108 56h3M106 57h1M108 57h2M116 57h1M116 61h1M60 62h1M104 62h1M105 63h1M114 63h1M113 64h1M104 65h1M109 65h1M127 66h1M104 67h2M105 68h1M109 68h1M63 95h1"/><path stroke="#0095ff" d="M112 6h1M111 7h1M79 9h1M83 10h1M75 11h1M73 12h1M105 12h1M84 13h1M103 13h1M82 14h1M111 14h1M118 14h1M81 15h1M105 15h1M80 16h1M104 16h1M110 16h1M103 17h1M115 17h1M76 18h1M102 18h1M65 19h1M75 19h1M97 21h1M100 21h1M65 22h1M67 23h1M60 24h1M62 24h1M65 24h1M61 25h1M63 25h1M32 26h1M33 27h1M54 27h1M94 27h1M94 29h1M52 30h1M32 31h1M30 35h1M97 35h1M30 37h2M94 41h1M95 43h1M102 44h1M102 46h1M96 49h1M95 50h1M98 53h1M113 53h2M107 55h1M61 57h1M114 58h1M116 59h1M104 60h1M112 60h1M114 62h1M105 64h1M112 65h1M126 66h1M103 68h2M111 68h1M58 69h2M105 70h2M58 71h1M65 89h1M64 90h1"/><path stroke="#0080ff" d="M117 2h1M117 3h1M115 4h1M115 5h1M113 6h1M127 6h1M80 8h2M111 8h1M108 10h1M106 11h1M72 13h1M104 13h2M79 14h1M114 14h1M115 15h1M70 16h1M79 17h1M76 19h1M112 19h2M67 20h1M71 20h1M81 20h2M101 20h1M111 20h1M109 21h1M70 22h1M106 22h1M58 24h1M61 24h1M97 24h1M93 25h1M94 26h1M95 28h1M52 29h1M32 30h1M54 30h1M95 31h1M99 32h2M32 33h1M99 33h1M96 36h1M30 39h1M92 39h1M91 40h1M90 41h1M93 41h1M99 42h3M94 43h1M95 46h1M95 49h1M95 51h1M97 54h1M112 54h1M115 54h1M106 55h1M108 55h3M115 55h1M116 56h1M61 58h1M116 58h1M61 59h1M61 60h1M113 60h1M60 61h2M103 61h1M115 62h1M62 63h1M103 63h2M62 64h1M103 64h1M114 64h1M103 65h1M59 66h2M112 66h1M106 67h1M104 69h1M108 69h1M58 70h2M59 71h1M65 90h1M65 99h1M65 100h1"/><path stroke="#006aff" d="M121 0h1M118 2h2M110 7h1M112 7h1M110 9h1M85 10h1M105 11h1M107 11h1M106 12h1M119 13h1M83 14h2M104 14h1M69 16h1M116 16h1M99 17h1M66 18h1M115 18h1M114 19h1M73 20h1M55 21h1M63 21h1M82 21h1M110 21h1M99 22h1M59 23h1M95 23h1M98 23h1M32 25h1M62 25h1M64 25h1M55 26h1M61 26h1M93 27h1M53 28h1M96 30h1M31 31h1M97 34h2M96 35h1M118 35h1M30 38h1M93 39h1M30 40h1M92 40h1M95 41h1M99 41h2M102 41h1M89 42h1M102 42h1M93 43h1M102 43h1M103 45h1M103 48h1M103 51h1M95 52h1M106 52h1M99 53h3M96 54h1M109 54h1M62 57h1M103 57h1M62 58h1M115 58h1M105 59h1M113 59h1M60 60h1M103 62h1M123 62h1M58 64h1M104 64h1M58 65h1M112 67h1M58 68h1M109 69h2M104 70h1M107 70h2M110 70h1M105 71h1M106 76h1M112 80h1M66 101h1M66 102h1M67 103h1"/><path stroke="#0055ff" d="M20 0h1M119 1h2M113 5h2M82 7h1M78 9h1M84 10h1M106 10h1M74 11h1M86 11h1M104 12h1M108 13h2M114 13h2M71 14h1M105 14h3M71 15h1M116 15h1M81 16h1M117 16h1M89 17h2M101 17h1M119 17h1M98 19h1M74 20h1M76 20h1M113 20h1M71 21h1M81 22h1M83 22h1M96 22h1M107 22h1M68 23h1M80 23h1M57 25h1M96 25h1M92 26h1M118 27h1M33 28h1M83 28h1M93 28h1M57 29h1M90 29h1M96 31h1M94 32h1M30 34h1M95 36h1M31 38h1M93 38h1M29 40h1M102 40h1M29 41h1M91 41h1M98 41h1M101 41h1M92 42h1M115 43h1M96 44h1M103 44h1M94 45h1M94 47h1M103 49h1M94 50h1M109 51h1M107 52h1M114 52h1M95 53h1M108 53h1M112 53h1M115 53h1M108 54h1M105 55h1M105 56h1M104 57h2M60 58h1M105 58h1M62 59h1M103 60h1M120 60h1M122 61h1M102 62h1M116 62h1M58 63h1M102 63h1M115 63h1M58 66h1M125 66h1M59 67h1M102 67h1M127 67h1M59 68h1M112 68h1M103 69h1M111 69h1M109 70h1M104 71h1M108 71h1M58 72h2M111 75h1M105 77h1M103 79h1M112 81h1M66 89h1M64 97h1M65 98h1M66 103h1M46 113h1"/><path stroke="#0040ff" d="M120 0h1M118 1h1M115 3h1M118 3h1M127 5h1M111 6h1M81 7h1M83 7h1M107 9h1M86 10h1M109 10h1M85 13h1M110 13h2M113 13h1M118 13h1M92 14h1M103 14h1M115 14h2M82 15h1M93 15h1M104 15h1M117 15h1M68 16h1M94 16h1M103 16h1M66 17h1M80 17h1M95 17h1M102 17h1M116 17h1M118 17h1M65 18h1M77 18h1M84 18h1M89 18h2M64 19h1M82 19h1M85 19h1M63 20h1M72 20h1M75 20h1M83 20h1M85 20h1M76 21h1M81 21h1M83 21h1M113 21h1M71 22h1M82 22h1M101 22h1M108 22h1M69 23h1M71 23h1M104 23h2M34 24h1M66 24h1M34 25h1M95 25h1M60 27h1M59 28h1M92 28h1M82 29h2M88 29h2M31 30h1M94 30h1M110 30h1M94 31h1M100 31h1M121 31h1M91 32h1M94 33h1M98 33h1M100 33h1M32 34h1M92 34h1M96 34h1M117 35h1M111 36h1M118 36h1M125 36h1M94 37h1M111 37h1M121 37h1M109 38h1M29 39h1M91 39h1M109 39h1M124 39h1M90 40h1M99 40h1M92 41h1M96 41h2M30 42h1M115 42h2M30 43h1M103 43h1M108 43h1M95 44h1M95 45h2M74 46h1M125 46h1M103 47h1M94 49h1M103 50h1M94 51h1M105 51h1M103 52h1M105 52h1M109 52h1M113 52h1M103 53h1M107 53h1M109 53h1M95 54h1M98 54h1M101 54h1M103 54h1M110 54h2M96 55h1M116 55h1M103 56h1M60 57h1M85 58h1M104 58h1M60 59h1M104 59h1M62 60h1M102 60h1M121 60h1M59 61h1M64 61h1M101 61h2M59 62h1M101 62h1M122 62h1M88 65h1M113 65h1M61 66h1M102 66h1M58 67h1M125 67h2M60 68h1M102 68h1M60 69h1M57 70h1M103 70h1M111 70h1M57 71h1M97 71h1M106 71h2M111 71h1M108 72h1M106 77h1M112 79h1M40 80h1M111 80h1M111 81h1M65 91h1M63 96h1M30 97h1M65 97h1"/><path stroke="#0038ff" d="M19 0h1M27 0h1M127 3h1M114 4h1M127 4h1M126 5h1M114 6h1M80 7h1M78 8h2M84 8h1M84 9h3M76 10h1M97 10h1M98 11h1M86 12h1M109 12h1M115 12h1M107 13h1M112 13h1M116 13h1M70 14h1M93 14h1M124 14h1M70 15h1M84 15h1M94 15h2M103 15h1M67 16h1M95 16h1M98 16h2M84 17h1M91 17h1M98 17h1M117 17h1M79 18h1M83 18h1M85 18h1M88 18h1M91 18h1M98 18h1M116 18h1M19 19h1M81 19h1M83 19h2M115 19h1M55 20h1M84 20h1M86 20h1M112 20h1M114 20h1M54 21h1M56 21h1M62 21h1M72 21h2M80 21h1M85 21h1M111 21h1M55 22h1M60 22h1M75 22h4M80 22h1M109 22h1M70 23h1M81 23h3M103 23h1M32 24h1M67 24h1M83 24h1M115 24h1M56 25h1M65 25h1M73 25h1M91 25h2M98 25h1M62 26h1M95 26h2M98 26h1M107 26h1M77 27h1M83 27h1M92 27h1M117 27h1M80 28h2M118 28h1M4 29h1M78 29h1M86 29h1M96 29h1M110 29h1M55 30h1M75 30h1M87 30h3M109 30h1M90 31h3M86 34h1M91 34h1M117 34h1M91 35h2M114 35h3M124 35h1M117 36h1M119 36h1M121 36h1M95 37h1M102 37h1M110 37h1M122 37h1M79 38h1M94 38h1M110 38h1M121 38h2M110 39h1M121 39h2M45 40h1M67 40h1M78 40h1M93 40h1M100 40h1M103 40h1M105 40h1M124 40h1M30 41h1M89 41h1M108 41h1M116 41h2M123 41h1M84 42h1M90 42h1M103 42h1M108 42h1M114 42h1M106 43h2M113 43h1M116 43h1M122 43h1M104 44h1M108 44h1M115 44h1M103 46h1M79 47h1M78 48h2M94 48h1M110 48h1M78 49h1M93 49h1M114 49h2M120 49h1M78 50h2M64 51h1M66 51h1M78 51h1M104 51h1M106 51h2M111 51h1M114 51h1M65 52h1M89 52h1M108 52h1M115 52h1M66 53h1M83 53h2M105 53h2M110 53h2M116 53h3M83 54h1M99 54h2M105 54h3M116 54h1M79 55h1M103 55h2M79 56h1M81 56h1M101 56h1M104 56h1M117 56h1M79 57h1M85 57h1M90 57h1M117 57h1M102 58h1M117 58h1M72 59h1M103 59h1M120 59h1M59 60h1M64 60h1M119 60h1M62 61h1M86 61h2M119 61h1M121 61h1M123 61h1M62 62h1M68 62h1M118 62h1M25 63h1M63 63h1M68 63h2M101 63h1M116 63h1M63 64h1M90 64h1M92 64h1M102 64h1M115 64h1M62 65h1M87 65h1M102 65h1M114 65h2M126 65h2M113 66h1M60 67h1M121 67h1M77 68h2M120 68h1M83 69h1M99 69h1M102 69h1M112 69h1M16 70h1M60 70h1M83 70h1M112 70h1M109 71h2M104 72h4M105 73h2M108 73h1M77 76h1M105 76h1M111 76h1M111 77h1M104 78h1M111 78h1M102 79h1M104 79h1M111 79h1M36 80h1M48 80h1M102 80h2M121 81h1M81 84h1M56 85h2M36 88h1M41 89h1M36 95h1M94 96h1M120 96h1M64 98h1M66 100h1M65 101h1M106 102h1M65 109h1M6 122h1"/><path stroke="#0020ff" d="M51 0h1M19 1h2M121 1h1M47 2h1M68 2h1M116 2h1M69 3h1M117 4h1M126 4h1M59 5h3M11 6h1M15 6h1M53 6h1M55 6h2M66 6h1M69 6h1M72 6h1M79 6h1M126 6h1M54 7h6M84 7h1M127 7h1M47 8h1M85 8h1M107 8h2M52 9h1M77 9h1M87 9h1M96 9h1M102 9h2M95 10h1M98 10h1M73 11h1M87 11h1M94 11h1M97 11h1M108 11h1M115 11h1M57 12h1M67 12h1M72 12h1M88 12h1M97 12h1M107 12h1M114 12h1M116 12h1M118 12h2M71 13h1M86 13h1M92 13h2M106 13h1M117 13h1M69 14h1M85 14h2M94 14h1M96 14h2M117 14h1M120 14h1M14 15h1M68 15h2M83 15h1M85 15h1M92 15h1M96 15h1M98 15h1M120 15h1M82 16h1M96 16h1M100 16h1M102 16h1M121 16h1M65 17h1M85 17h1M88 17h1M92 17h3M96 17h1M122 17h1M126 17h1M78 18h1M82 18h1M92 18h3M96 18h2M117 18h1M119 18h1M63 19h1M77 19h1M79 19h1M86 19h1M90 19h1M116 19h3M77 20h1M80 20h1M92 20h1M120 20h1M61 21h1M75 21h1M77 21h1M79 21h1M84 21h1M92 21h2M112 21h1M125 21h1M59 22h1M84 22h1M92 22h1M100 22h1M110 22h1M113 22h1M72 23h1M77 23h1M79 23h1M102 23h1M106 23h1M114 23h1M57 24h1M68 24h2M72 24h1M80 24h1M82 24h1M84 24h1M101 24h1M125 24h3M69 25h1M82 25h2M90 25h1M94 25h1M97 25h1M107 25h1M115 25h1M125 25h3M34 26h1M54 26h1M63 26h1M72 26h2M76 26h1M80 26h1M83 26h1M91 26h1M116 26h1M86 27h2M91 27h1M95 27h1M26 28h1M52 28h1M60 28h1M69 28h1M77 28h3M82 28h1M84 28h1M87 28h2M90 28h2M100 28h1M31 29h1M33 29h1M51 29h1M68 29h2M72 29h1M79 29h1M81 29h1M84 29h1M87 29h1M92 29h1M105 29h1M109 29h1M126 29h2M68 30h1M73 30h1M78 30h1M90 30h1M93 30h1M119 30h1M126 30h1M53 31h2M77 31h1M93 31h1M105 31h1M111 31h1M117 31h2M122 31h1M76 32h2M90 32h1M92 32h1M95 32h1M101 32h1M104 32h3M111 32h1M121 32h1M14 33h1M72 33h1M80 33h1M85 33h1M91 33h1M110 33h1M79 34h2M85 34h1M93 34h3M99 34h1M110 34h1M114 34h3M118 34h1M32 35h1M80 35h1M84 35h3M90 35h1M93 35h3M98 35h1M109 35h2M119 35h2M123 35h1M125 35h2M67 36h1M90 36h4M97 36h2M106 36h2M110 36h1M115 36h2M120 36h1M124 36h1M126 36h1M78 37h1M88 37h1M92 37h1M96 37h1M98 37h2M101 37h1M109 37h1M29 38h1M61 38h1M77 38h2M80 38h1M87 38h2M90 38h1M99 38h1M101 38h2M111 38h1M123 38h3M79 39h1M90 39h1M98 39h2M101 39h2M111 39h1M123 39h1M125 39h1M77 40h1M79 40h1M98 40h1M101 40h1M104 40h1M109 40h1M112 40h1M117 40h1M122 40h2M58 41h1M61 41h1M78 41h1M103 41h1M124 41h1M62 42h1M113 42h1M123 42h1M127 42h1M85 43h1M105 43h1M112 43h1M114 43h1M123 43h1M16 44h1M91 44h4M105 44h3M112 44h3M116 44h1M118 44h1M47 45h1M68 45h2M91 45h2M104 45h2M108 45h1M112 45h2M125 45h1M79 46h1M81 46h2M90 46h2M93 46h2M106 46h1M126 46h1M73 47h2M78 47h1M93 47h1M126 47h1M82 48h2M86 48h1M92 48h2M104 48h1M114 48h2M118 48h1M120 48h1M79 49h1M83 49h4M91 49h2M116 49h2M119 49h1M63 50h3M80 50h1M85 50h1M93 50h1M104 50h2M113 50h3M118 50h1M120 50h1M1 51h1M63 51h1M65 51h1M79 51h1M89 51h1M113 51h1M31 52h1M64 52h1M66 52h2M88 52h1M110 52h1M112 52h1M65 53h1M70 53h2M88 53h1M104 53h1M70 54h2M88 54h1M104 54h1M117 54h1M68 55h1M80 55h3M95 55h1M97 55h1M99 55h1M101 55h1M61 56h1M68 56h2M78 56h1M80 56h1M82 56h1M85 56h1M95 56h2M80 57h1M96 57h1M101 57h1M72 58h1M80 58h1M82 58h1M84 58h1M100 58h2M103 58h1M59 59h1M71 59h1M93 59h2M102 59h1M117 59h1M119 59h1M121 59h1M63 60h1M65 60h1M86 60h1M95 60h1M101 60h1M117 60h1M122 60h1M65 61h1M67 61h1M76 61h1M80 61h1M85 61h1M96 61h3M118 61h1M120 61h1M124 61h2M67 62h1M69 62h1M71 62h1M75 62h1M79 62h2M85 62h2M89 62h1M100 62h1M117 62h1M119 62h3M124 62h1M127 62h1M16 63h1M67 63h1M70 63h2M90 63h3M100 63h1M117 63h4M122 63h2M64 64h1M71 64h2M74 64h5M89 64h1M91 64h1M116 64h3M89 65h2M101 65h1M88 66h4M98 66h1M101 66h1M114 66h3M124 66h1M69 67h1M91 67h2M99 67h1M113 67h2M118 67h1M120 67h1M57 68h1M75 68h2M99 68h1M119 68h1M121 68h1M57 69h1M61 69h1M65 69h1M78 69h3M82 69h1M84 69h1M88 69h2M93 69h2M113 69h1M119 69h1M126 69h1M8 70h1M11 70h1M65 70h1M72 70h1M80 70h3M85 70h1M89 70h1M94 70h1M102 70h1M113 70h1M118 70h1M122 70h1M60 71h1M81 71h1M83 71h2M94 71h1M100 71h2M103 71h1M112 71h1M119 71h1M121 71h1M61 72h1M80 72h1M103 72h1M109 72h1M111 72h1M120 72h1M79 73h2M104 73h1M107 73h1M109 73h1M39 74h1M47 74h1M80 74h1M81 75h1M112 75h1M120 75h1M104 77h1M103 78h1M105 78h1M112 78h1M121 80h1M55 85h1M88 88h1M31 89h1M124 91h1M0 94h1M67 102h1M69 102h1M97 103h1M13 104h1M85 105h1M71 110h1M47 113h1M41 114h1M52 118h1M77 119h1M23 123h1"/><path stroke="#0000a0" d="M16 0h1M24 0h2M42 0h1M53 0h1M56 0h1M69 0h1M71 0h1M74 0h1M83 0h1M87 0h2M99 0h1M119 0h1M8 1h2M28 1h1M46 1h1M49 1h1M52 1h1M59 1h1M69 1h1M81 1h1M83 1h1M89 1h1M109 1h1M124 1h1M7 2h1M14 2h1M26 2h1M58 2h4M65 2h1M67 2h1M69 2h1M72 2h1M76 2h3M83 2h1M90 2h1M100 2h1M102 2h1M127 2h1M24 3h1M31 3h1M39 3h1M42 3h1M47 3h1M52 3h1M61 3h3M68 3h1M71 3h1M77 3h1M82 3h1M84 3h1M89 3h1M93 3h1M98 3h1M126 3h1M10 4h1M31 4h1M39 4h2M44 4h1M46 4h2M50 4h1M53 4h1M58 4h1M60 4h3M68 4h2M71 4h1M77 4h1M82 4h3M94 4h1M101 4h1M104 4h1M120 4h1M9 5h1M29 5h1M44 5h1M46 5h1M53 5h2M56 5h3M62 5h1M71 5h2M76 5h1M78 5h2M83 5h2M93 5h1M96 5h2M112 5h1M116 5h1M17 6h1M25 6h1M39 6h1M44 6h1M48 6h1M54 6h1M57 6h1M59 6h3M65 6h1M68 6h1M71 6h1M73 6h4M78 6h1M80 6h5M88 6h1M93 6h1M95 6h1M100 6h2M16 7h1M44 7h1M46 7h3M53 7h1M60 7h2M66 7h1M74 7h4M79 7h1M89 7h1M102 7h1M104 7h1M108 7h2M113 7h1M126 7h1M2 8h1M15 8h1M22 8h1M26 8h1M37 8h1M53 8h1M56 8h4M61 8h2M69 8h3M77 8h1M86 8h2M92 8h1M95 8h3M99 8h1M101 8h2M112 8h1M114 8h1M119 8h1M125 8h1M127 8h1M3 9h1M18 9h1M42 9h1M58 9h1M63 9h1M65 9h2M69 9h3M76 9h1M94 9h2M97 9h2M111 9h2M115 9h1M122 9h1M126 9h2M11 10h1M20 10h1M23 10h1M30 10h1M34 10h1M37 10h1M46 10h1M59 10h1M63 10h3M68 10h1M71 10h1M74 10h2M87 10h2M93 10h1M96 10h1M99 10h1M101 10h2M105 10h1M111 10h1M114 10h2M120 10h1M127 10h1M44 11h2M53 11h1M56 11h2M59 11h1M63 11h3M67 11h2M72 11h1M90 11h1M92 11h2M95 11h2M99 11h4M104 11h1M109 11h2M114 11h1M116 11h1M119 11h1M7 12h1M19 12h1M27 12h1M45 12h1M52 12h1M56 12h1M63 12h2M68 12h1M71 12h1M87 12h1M89 12h1M91 12h4M98 12h1M103 12h1M108 12h1M111 12h1M113 12h1M117 12h1M30 13h1M43 13h2M54 13h1M57 13h1M59 13h1M68 13h1M70 13h1M87 13h1M91 13h1M97 13h1M101 13h1M121 13h1M123 13h1M0 14h1M16 14h1M52 14h1M63 14h1M68 14h1M89 14h1M95 14h1M100 14h3M121 14h2M0 15h1M13 15h1M42 15h1M45 15h1M56 15h1M61 15h1M65 15h1M67 15h1M88 15h1M97 15h1M99 15h2M102 15h1M121 15h2M9 16h1M18 16h1M25 16h1M50 16h1M54 16h1M56 16h1M65 16h2M83 16h4M89 16h2M93 16h1M97 16h1M120 16h1M122 16h1M125 16h1M1 17h1M12 17h1M14 17h1M17 17h1M41 17h1M49 17h2M54 17h1M58 17h2M81 17h1M83 17h1M86 17h1M97 17h1M121 17h1M125 17h1M10 18h1M12 18h2M23 18h1M37 18h1M46 18h1M61 18h4M80 18h1M86 18h1M95 18h1M118 18h1M125 18h3M12 19h2M43 19h1M49 19h1M61 19h1M80 19h1M92 19h2M95 19h3M119 19h4M7 20h1M9 20h1M18 20h1M36 20h1M46 20h2M54 20h1M56 20h1M79 20h1M87 20h1M93 20h1M97 20h1M115 20h1M117 20h1M119 20h1M121 20h2M124 20h1M127 20h1M11 21h1M30 21h1M59 21h2M74 21h1M78 21h1M86 21h1M91 21h1M94 21h1M114 21h1M120 21h3M124 21h1M3 22h1M7 22h1M16 22h1M18 22h1M23 22h1M28 22h1M42 22h1M44 22h1M49 22h3M54 22h1M56 22h1M58 22h1M72 22h1M74 22h1M79 22h1M85 22h1M91 22h1M93 22h1M111 22h1M114 22h1M117 22h1M122 22h1M125 22h1M4 23h1M31 23h1M53 23h1M56 23h1M58 23h1M73 23h1M75 23h2M84 23h1M89 23h1M99 23h1M101 23h1M107 23h1M110 23h1M113 23h1M115 23h2M4 24h1M7 24h1M28 24h1M56 24h1M70 24h2M73 24h1M77 24h1M79 24h1M89 24h1M92 24h1M98 24h2M104 24h3M110 24h1M114 24h1M116 24h2M55 25h1M72 25h1M74 25h2M77 25h1M108 25h1M111 25h3M116 25h1M124 25h1M2 26h1M23 26h1M25 26h1M52 26h2M64 26h2M68 26h1M74 26h2M77 26h1M86 26h1M104 26h1M113 26h3M117 26h1M119 26h1M1 27h1M31 27h1M51 27h1M61 27h2M70 27h1M72 27h2M76 27h1M78 27h3M82 27h1M84 27h1M96 27h2M102 27h1M107 27h1M119 27h1M121 27h3M7 28h1M14 28h1M21 28h1M31 28h1M49 28h1M51 28h1M66 28h1M68 28h1M70 28h4M76 28h1M102 28h1M104 28h1M107 28h1M119 28h1M121 28h2M126 28h2M2 29h1M12 29h1M26 29h1M48 29h1M58 29h1M67 29h1M70 29h2M73 29h2M77 29h1M80 29h1M85 29h1M93 29h1M100 29h1M111 29h1M123 29h1M27 30h1M33 30h1M59 30h2M69 30h4M74 30h1M81 30h1M86 30h1M91 30h1M100 30h1M111 30h2M116 30h2M120 30h3M124 30h1M127 30h1M38 31h1M48 31h1M50 31h1M52 31h1M65 31h1M68 31h2M73 31h4M78 31h1M81 31h1M88 31h2M98 31h2M101 31h1M104 31h1M112 31h1M120 31h1M126 31h2M29 32h1M49 32h1M60 32h2M66 32h1M72 32h4M81 32h4M86 32h1M93 32h1M96 32h1M98 32h1M103 32h1M108 32h1M112 32h2M122 32h1M126 32h2M15 33h1M23 33h1M30 33h1M33 33h1M53 33h1M56 33h1M61 33h1M71 33h1M73 33h1M77 33h1M79 33h1M81 33h4M86 33h1M92 33h2M95 33h1M101 33h2M114 33h2M117 33h1M4 34h1M41 34h1M54 34h1M58 34h1M65 34h1M71 34h2M78 34h1M83 34h2M87 34h1M90 34h1M112 34h2M119 34h1M121 34h2M4 35h1M28 35h1M36 35h1M45 35h1M55 35h2M60 35h1M70 35h2M78 35h1M82 35h2M100 35h1M102 35h1M105 35h2M108 35h1M113 35h1M121 35h2M9 36h1M21 36h1M42 36h1M44 36h1M49 36h1M54 36h1M60 36h1M63 36h1M65 36h2M77 36h5M85 36h1M89 36h1M105 36h1M113 36h2M122 36h2M4 37h1M43 37h1M58 37h1M73 37h1M79 37h1M85 37h1M89 37h3M93 37h1M106 37h1M108 37h1M117 37h1M120 37h1M125 37h1M6 38h1M21 38h1M39 38h2M53 38h1M60 38h1M62 38h1M66 38h3M75 38h1M81 38h1M86 38h1M89 38h1M91 38h2M98 38h1M104 38h3M108 38h1M120 38h1M3 39h1M20 39h1M31 39h1M47 39h1M52 39h2M60 39h2M66 39h3M78 39h1M80 39h2M86 39h2M96 39h1M100 39h1M103 39h4M114 39h1M31 40h1M43 40h1M50 40h1M60 40h1M68 40h1M70 40h1M89 40h1M94 40h1M96 40h2M110 40h2M114 40h1M116 40h1M118 40h2M121 40h1M125 40h1M21 41h2M28 41h1M52 41h2M56 41h1M59 41h2M62 41h1M64 41h1M66 41h2M69 41h3M76 41h2M79 41h1M84 41h1M110 41h2M115 41h1M121 41h2M14 42h1M19 42h1M21 42h1M28 42h1M34 42h1M48 42h3M58 42h2M61 42h1M63 42h1M65 42h1M68 42h3M76 42h2M85 42h1M88 42h1M105 42h3M117 42h1M121 42h2M124 42h1M5 43h1M38 43h1M45 43h1M50 43h1M55 43h1M59 43h2M66 43h4M80 43h2M90 43h1M92 43h1M104 43h1M109 43h1M111 43h1M3 44h1M57 44h1M62 44h1M68 44h3M82 44h1M88 44h3M111 44h1M117 44h1M122 44h2M20 45h1M52 45h2M67 45h1M70 45h1M78 45h1M82 45h1M90 45h1M93 45h1M106 45h2M110 45h2M114 45h5M120 45h1M123 45h2M126 45h1M15 46h1M22 46h1M28 46h1M40 46h1M54 46h1M56 46h1M62 46h1M73 46h1M78 46h1M80 46h1M92 46h1M104 46h2M107 46h2M111 46h1M115 46h1M119 46h1M123 46h2M2 47h1M8 47h1M43 47h1M57 47h1M66 47h2M69 47h1M75 47h1M80 47h3M85 47h2M90 47h2M104 47h5M110 47h1M114 47h1M122 47h1M125 47h1M127 47h1M11 48h1M34 48h1M54 48h1M58 48h1M61 48h1M66 48h2M72 48h1M77 48h1M80 48h1M87 48h1M91 48h1M105 48h1M109 48h1M116 48h2M119 48h1M121 48h1M125 48h1M127 48h1M17 49h1M31 49h1M42 49h1M46 49h1M57 49h1M60 49h1M66 49h2M70 49h3M77 49h1M80 49h1M82 49h1M87 49h2M104 49h2M107 49h4M113 49h1M118 49h1M10 50h1M21 50h1M23 50h1M27 50h1M29 50h1M36 50h1M46 50h2M49 50h1M51 50h1M55 50h1M62 50h1M66 50h2M71 50h2M76 50h1M83 50h1M86 50h1M92 50h1M106 50h1M108 50h5M119 50h1M121 50h1M23 51h1M40 51h2M44 51h1M55 51h2M67 51h1M71 51h3M77 51h1M88 51h1M93 51h1M108 51h1M110 51h1M112 51h1M115 51h1M122 51h1M126 51h1M9 52h1M21 52h1M29 52h1M47 52h1M49 52h1M55 52h1M57 52h1M62 52h1M70 52h1M72 52h3M77 52h3M86 52h1M93 52h2M104 52h1M111 52h1M116 52h3M120 52h2M123 52h1M125 52h1M0 53h1M3 53h1M52 53h1M57 53h2M67 53h1M73 53h1M76 53h1M80 53h1M82 53h1M87 53h1M89 53h2M122 53h1M5 54h1M17 54h1M48 54h1M56 54h3M63 54h2M66 54h2M72 54h1M81 54h2M84 54h4M89 54h1M120 54h1M125 54h1M24 55h1M31 55h1M39 55h2M48 55h1M56 55h2M67 55h1M69 55h1M71 55h1M76 55h3M85 55h2M88 55h1M93 55h1M100 55h1M120 55h1M15 56h1M17 56h1M34 56h1M39 56h1M57 56h2M60 56h1M62 56h1M67 56h1M70 56h1M74 56h1M83 56h1M86 56h1M89 56h2M97 56h4M118 56h3M2 57h1M31 57h2M38 57h2M42 57h1M48 57h2M53 57h1M55 57h1M58 57h1M65 57h4M82 57h3M95 57h1M97 57h2M118 57h2M121 57h2M126 57h2M2 58h1M27 58h1M46 58h1M53 58h3M63 58h1M70 58h2M79 58h1M83 58h1M86 58h1M93 58h6M119 58h3M124 58h1M6 59h1M48 59h1M51 59h1M55 59h1M63 59h3M73 59h1M80 59h4M85 59h1M95 59h1M97 59h2M100 59h1M39 60h1M48 60h2M58 60h1M67 60h1M71 60h1M73 60h1M76 60h1M81 60h2M87 60h1M94 60h1M96 60h2M99 60h2M118 60h1M18 61h1M38 61h1M41 61h1M63 61h1M68 61h4M78 61h2M81 61h1M89 61h1M91 61h1M94 61h2M99 61h2M117 61h1M127 61h1M19 62h1M31 62h1M38 62h1M58 62h1M63 62h1M70 62h1M72 62h1M74 62h1M76 62h3M87 62h1M91 62h1M93 62h1M95 62h1M98 62h1M36 63h1M53 63h1M64 63h1M72 63h1M76 63h5M83 63h1M89 63h1M93 63h2M97 63h2M8 64h1M26 64h1M53 64h1M55 64h3M65 64h1M67 64h2M70 64h1M73 64h1M86 64h2M93 64h9M119 64h1M127 64h1M9 65h1M11 65h1M28 65h1M63 65h3M68 65h1M71 65h1M74 65h1M77 65h1M91 65h5M97 65h4M116 65h1M125 65h1M33 66h1M43 66h1M62 66h1M79 66h2M86 66h2M92 66h3M97 66h1M99 66h1M119 66h3M123 66h1M5 67h1M38 67h1M55 67h1M61 67h2M64 67h2M70 67h1M75 67h1M80 67h1M90 67h1M93 67h3M100 67h1M115 67h2M119 67h1M124 67h1M14 68h1M28 68h1M31 68h2M34 68h1M41 68h1M48 68h1M51 68h1M54 68h1M69 68h2M74 68h1M79 68h6M88 68h2M92 68h3M98 68h1M101 68h1M113 68h2M122 68h1M127 68h1M50 69h1M62 69h1M70 69h4M81 69h1M85 69h1M87 69h1M90 69h1M92 69h1M95 69h1M100 69h2M114 69h1M120 69h1M123 69h1M125 69h1M127 69h1M31 70h1M40 70h2M47 70h1M62 70h2M71 70h1M73 70h2M78 70h2M84 70h1M86 70h1M88 70h1M90 70h1M95 70h1M98 70h4M115 70h1M117 70h1M119 70h1M121 70h1M2 71h1M36 71h1M40 71h1M52 71h2M63 71h1M69 71h1M71 71h2M75 71h1M80 71h1M82 71h1M85 71h1M89 71h1M93 71h1M95 71h1M98 71h2M102 71h1M116 71h3M120 71h1M123 71h1M1 72h1M12 72h1M21 72h1M26 72h1M41 72h1M55 72h1M57 72h1M68 72h1M70 72h1M75 72h1M79 72h1M82 72h2M89 72h3M94 72h1M98 72h5M110 72h1M112 72h1M118 72h2M121 72h3M32 73h1M59 73h1M63 73h1M65 73h2M69 73h1M72 73h1M78 73h1M81 73h3M91 73h2M95 73h1M98 73h2M102 73h2M110 73h1M114 73h1M119 73h1M122 73h2M127 73h1M3 74h1M54 74h1M64 74h1M66 74h2M70 74h1M74 74h1M77 74h3M81 74h3M92 74h2M95 74h1M97 74h4M102 74h1M104 74h5M111 74h1M121 74h3M13 75h1M20 75h1M22 75h1M38 75h1M45 75h1M65 75h2M77 75h1M80 75h1M84 75h1M95 75h1M97 75h1M99 75h2M102 75h2M107 75h1M118 75h1M121 75h1M123 75h1M9 76h1M29 76h1M45 76h1M48 76h1M57 76h1M65 76h2M71 76h1M74 76h3M78 76h4M86 76h1M88 76h2M92 76h2M98 76h1M116 76h1M120 76h2M124 76h1M126 76h1M52 77h1M73 77h3M77 77h1M80 77h1M85 77h4M90 77h2M96 77h1M103 77h1M112 77h2M117 77h1M121 77h1M35 78h1M58 78h1M71 78h1M84 78h1M89 78h3M97 78h1M113 78h1M115 78h2M122 78h1M10 79h2M16 79h1M33 79h1M56 79h1M58 79h1M60 79h1M69 79h1M72 79h1M86 79h1M88 79h1M90 79h1M97 79h1M100 79h1M18 80h1M23 80h1M28 80h1M70 80h1M73 80h1M77 80h2M81 80h1M108 80h2M2 81h1M58 81h1M78 81h1M84 81h1M97 81h2M115 81h1M7 82h1M16 82h1M22 82h1M39 82h1M51 82h1M62 82h1M79 82h1M84 82h2M96 82h1M111 82h1M124 82h1M0 83h1M2 83h1M9 83h1M21 83h1M25 83h1M51 83h1M62 83h1M65 83h1M69 83h1M73 83h1M78 83h1M91 83h1M98 83h1M2 84h1M6 84h1M22 84h1M54 84h1M56 84h2M64 84h1M69 84h1M85 84h1M93 84h1M95 84h1M104 84h1M115 84h1M21 85h1M39 85h1M41 85h1M53 85h2M83 85h1M88 85h1M90 85h1M120 85h1M11 86h1M16 86h1M31 86h1M34 86h1M77 86h1M82 86h1M94 86h1M101 86h1M120 86h1M36 87h1M43 87h1M46 87h1M48 87h1M56 87h1M77 87h1M81 87h1M83 87h1M117 87h1M6 88h1M14 88h1M65 88h2M70 88h1M80 88h1M87 88h1M91 88h1M103 88h1M106 88h1M109 88h1M6 89h1M13 89h1M50 89h1M59 89h1M67 89h1M73 89h1M86 89h2M111 89h1M118 89h1M20 90h2M23 90h1M28 90h1M30 90h1M43 90h1M55 90h1M63 90h1M66 90h1M76 90h1M78 90h1M87 90h1M89 90h5M105 90h1M12 91h1M14 91h1M38 91h1M45 91h1M56 91h2M80 91h1M90 91h1M2 92h1M88 92h2M93 92h1M100 92h1M124 92h1M2 93h1M58 93h1M78 93h1M103 93h2M125 93h1M29 94h1M56 94h1M70 94h1M93 94h2M105 94h1M112 94h1M122 94h1M4 95h1M15 95h1M20 95h1M29 95h1M67 95h1M86 95h1M98 95h1M106 95h1M110 95h1M115 95h1M5 96h1M19 96h1M27 96h1M48 96h1M65 96h1M92 96h1M104 96h1M123 96h1M41 97h1M49 97h1M51 97h1M58 97h1M74 97h1M86 97h1M114 97h1M22 98h1M35 98h1M37 98h1M41 98h1M60 98h1M66 98h1M69 98h1M112 98h1M122 98h1M2 99h1M7 99h1M26 99h2M64 99h1M66 99h1M68 99h1M98 99h1M105 99h1M11 100h1M21 100h1M76 100h1M106 100h1M109 100h1M115 100h1M4 101h1M11 101h1M19 101h1M25 101h1M30 101h1M33 101h1M46 101h1M54 101h1M107 101h1M18 102h1M53 102h1M72 102h1M99 102h1M110 102h1M127 102h1M14 103h1M22 103h1M64 103h2M73 103h1M90 103h2M95 103h1M115 103h1M14 104h1M16 104h1M44 104h1M66 104h2M91 104h1M112 104h1M3 105h1M6 105h1M41 105h1M78 105h1M89 105h1M114 105h1M116 105h1M120 105h1M127 105h1M10 106h1M20 106h1M29 106h1M70 106h1M85 106h1M87 106h1M97 106h1M101 106h1M104 106h1M107 106h1M123 106h1M7 107h1M16 107h1M28 107h1M45 107h1M49 107h1M61 107h1M66 107h1M81 107h1M83 107h1M89 107h1M94 107h1M118 107h1M3 108h1M36 108h1M79 108h1M100 108h1M114 108h1M125 108h1M34 109h1M46 109h1M71 109h1M81 109h1M105 109h1M122 109h1M3 110h1M11 110h1M29 110h1M46 110h1M51 110h1M54 110h1M60 110h1M81 110h1M110 110h1M121 110h1M38 111h1M120 111h1M18 112h1M46 112h1M62 112h1M64 112h1M66 112h1M109 112h1M112 112h2M118 112h1M2 113h1M11 113h1M17 113h1M23 113h1M67 113h1M105 113h1M15 114h1M21 114h1M43 114h1M53 114h1M63 114h1M72 114h1M81 114h1M88 114h1M90 114h1M95 114h1M101 114h1M28 115h1M34 115h1M44 115h1M51 115h1M53 115h1M7 116h1M13 116h1M67 116h1M71 116h1M83 116h1M87 116h1M93 116h1M96 116h1M103 116h1M6 117h1M21 117h1M23 117h1M34 117h1M39 117h1M43 117h1M75 117h1M87 117h1M90 117h1M97 117h1M126 117h1M18 118h1M44 118h1M51 118h1M66 118h1M81 118h1M99 118h1M112 118h1M13 119h1M18 119h1M36 119h1M56 119h1M74 119h1M89 119h1M91 119h1M7 120h1M26 120h1M32 120h1M41 120h1M46 120h1M75 120h1M99 120h2M124 120h1M3 121h1M14 121h1M21 121h1M25 121h1M64 121h1M78 121h1M96 121h1M106 121h1M1 122h1M22 122h1M52 122h1M55 122h1M70 122h1M78 122h1M85 122h1M115 122h1M124 122h1M126 122h1M25 123h1M31 123h2M60 123h1M96 123h1M101 123h1M3 124h2M11 124h1M26 124h1M31 124h1M36 124h1M57 124h1M61 124h1M77 124h1M82 124h1M103 124h1M117 124h2M120 124h1M9 125h1M30 125h1M36 125h1M38 125h1M47 125h1M83 125h1M22 126h1M49 126h1M56 126h1M68 126h1M72 126h1M110 126h2M50 127h1M52 127h1M57 127h1M63 127h2M73 127h1M75 127h1M81 127h1M93 127h1M123 127h1"/></g>
<rect x="157.8" y="1326.3" width="219.5" height="32.4" fill="#fff"/><text x="266.5" y="1408.4" font-size="46.5" text-anchor="middle" font-weight="bold" font-family="'Liberation Sans','DejaVu Sans',sans-serif" fill="#fff">20 µm</text>
<rect x="1014.1" y="556.5" width="43.3" height="21.12" fill="#ff0000"/>
<rect x="1014.1" y="577.02" width="43.3" height="21.12" fill="#ff1500"/>
<rect x="1014.1" y="597.54" width="43.3" height="21.12" fill="#ff2a00"/>
<rect x="1014.1" y="618.06" width="43.3" height="21.12" fill="#ff4000"/>
<rect x="1014.1" y="638.58" width="43.3" height="21.12" fill="#ff5500"/>
<rect x="1014.1" y="659.1" width="43.3" height="21.12" fill="#ff6a00"/>
<rect x="1014.1" y="679.61" width="43.3" height="21.12" fill="#ff8000"/>
<rect x="1014.1" y="700.13" width="43.3" height="21.12" fill="#ff9500"/>
<rect x="1014.1" y="720.65" width="43.3" height="21.12" fill="#ffaa00"/>
<rect x="1014.1" y="741.17" width="43.3" height="21.12" fill="#ffc000"/>
<rect x="1014.1" y="761.69" width="43.3" height="21.12" fill="#ffd500"/>
<rect x="1014.1" y="782.21" width="43.3" height="21.12" fill="#ffee00"/>
<rect x="1014.1" y="802.73" width="43.3" height="21.12" fill="#eeff00"/>
<rect x="1014.1" y="823.25" width="43.3" height="21.12" fill="#d5ff00"/>
<rect x="1014.1" y="843.77" width="43.3" height="21.12" fill="#c0ff00"/>
<rect x="1014.1" y="864.29" width="43.3" height="21.12" fill="#aaff00"/>
<rect x="1014.1" y="884.8" width="43.3" height="21.12" fill="#90ff00"/>
<rect x="1014.1" y="905.32" width="43.3" height="21.12" fill="#78ff00"/>
<rect x="1014.1" y="925.84" width="43.3" height="21.12" fill="#58ff00"/>
<rect x="1014.1" y="946.36" width="43.3" height="21.12" fill="#10ff00"/>
<rect x="1014.1" y="966.88" width="43.3" height="21.12" fill="#00ff40"/>
<rect x="1014.1" y="987.4" width="43.3" height="21.12" fill="#00ff20"/>
<rect x="1014.1" y="1007.92" width="43.3" height="21.12" fill="#00ff70"/>
<rect x="1014.1" y="1028.44" width="43.3" height="21.12" fill="#00ff90"/>
<rect x="1014.1" y="1048.96" width="43.3" height="21.12" fill="#00ffa0"/>
<rect x="1014.1" y="1069.48" width="43.3" height="21.12" fill="#00ffb8"/>
<rect x="1014.1" y="1090" width="43.3" height="21.12" fill="#00ffd0"/>
<rect x="1014.1" y="1110.51" width="43.3" height="21.12" fill="#00ffff"/>
<rect x="1014.1" y="1131.03" width="43.3" height="21.12" fill="#00f0ff"/>
<rect x="1014.1" y="1151.55" width="43.3" height="21.12" fill="#00e8ff"/>
<rect x="1014.1" y="1172.07" width="43.3" height="21.12" fill="#00d5ff"/>
<rect x="1014.1" y="1192.59" width="43.3" height="21.12" fill="#00c0ff"/>
<rect x="1014.1" y="1213.11" width="43.3" height="21.12" fill="#00aaff"/>
<rect x="1014.1" y="1233.63" width="43.3" height="21.12" fill="#0095ff"/>
<rect x="1014.1" y="1254.15" width="43.3" height="21.12" fill="#0080ff"/>
<rect x="1014.1" y="1274.67" width="43.3" height="21.12" fill="#006aff"/>
<rect x="1014.1" y="1295.19" width="43.3" height="21.12" fill="#0055ff"/>
<rect x="1014.1" y="1315.7" width="43.3" height="21.12" fill="#0040ff"/>
<rect x="1014.1" y="1336.22" width="43.3" height="21.12" fill="#0038ff"/>
<rect x="1014.1" y="1356.74" width="43.3" height="21.12" fill="#0020ff"/>
<rect x="1014.1" y="1377.26" width="43.3" height="21.12" fill="#0000a0"/>
<rect x="1014.1" y="1397.78" width="43.3" height="21.12" fill="#000080"/>
<line x1="1057.4" y1="619.3" x2="1073.9" y2="619.3" stroke="#000" stroke-width="3.3"/>
<text x="1089.9" y="635.6" font-size="44.2">1000</text>
<line x1="1057.4" y1="779.9" x2="1073.9" y2="779.9" stroke="#000" stroke-width="3.3"/>
<text x="1089.9" y="796.2" font-size="44.2">800</text>
<line x1="1057.4" y1="940.5" x2="1073.9" y2="940.5" stroke="#000" stroke-width="3.3"/>
<text x="1089.9" y="956.8" font-size="44.2">600</text>
<line x1="1057.4" y1="1101.1" x2="1073.9" y2="1101.1" stroke="#000" stroke-width="3.3"/>
<text x="1089.9" y="1117.4" font-size="44.2">400</text>
<line x1="1057.4" y1="1261.7" x2="1073.9" y2="1261.7" stroke="#000" stroke-width="3.3"/>
<text x="1089.9" y="1278" font-size="44.2">200</text>
<text x="1255.5" y="988.5" font-size="44.3" text-anchor="middle" transform="rotate(-90 1255.5 988.5)">PL Intensisty (A.U.)</text>
<rect x="1323.5" y="557.8" width="884.3" height="878.2" fill="#9933a6"/>
<g transform="translate(1323.5 557.8) scale(6.90859 6.86094) translate(0 0.5)" fill="none" stroke-width="1.04" shape-rendering="crispEdges"><path stroke="#333333" d="M10 0h1M27 0h2M33 0h1M35 0h5M45 0h4M59 0h1M71 0h3M76 0h1M94 0h1M97 0h5M11 1h1M28 1h2M37 1h1M44 1h2M47 1h2M50 1h1M74 1h1M89 1h1M91 1h2M94 1h1M96 1h1M98 1h4M103 1h1M105 1h1M13 2h1M26 2h1M28 2h1M32 2h1M38 2h1M47 2h1M49 2h1M52 2h1M77 2h1M87 2h1M93 2h1M96 2h4M101 2h1M107 2h1M0 3h1M11 3h1M29 3h1M47 3h1M52 3h1M73 3h1M90 3h1M96 3h1M98 3h1M103 3h1M7 4h1M10 4h2M13 4h1M16 4h1M44 4h1M48 4h1M62 4h1M70 4h1M73 4h1M88 4h2M95 4h2M100 4h1M122 4h1M0 5h1M11 5h2M27 5h1M50 5h2M68 5h1M89 5h1M96 5h1M98 5h2M109 5h1M0 6h1M6 6h2M9 6h1M12 6h3M17 6h1M23 6h1M29 6h2M68 6h1M71 6h1M86 6h1M97 6h2M101 6h1M112 6h1M3 7h3M9 7h2M12 7h2M15 7h1M22 7h1M71 7h1M81 7h1M87 7h1M94 7h1M8 8h4M14 8h1M20 8h1M31 8h1M71 8h1M75 8h1M86 8h1M100 8h2M103 8h1M1 9h1M5 9h2M8 9h2M15 9h1M17 9h1M19 9h1M86 9h1M103 9h1M115 9h1M123 9h1M127 9h1M6 10h2M9 10h3M75 10h2M78 10h1M96 10h2M103 10h1M105 10h1M111 10h1M120 10h1M125 10h1M127 10h1M2 11h1M4 11h3M8 11h1M10 11h1M19 11h3M32 11h1M59 11h1M78 11h1M80 11h1M87 11h1M101 11h1M106 11h1M111 11h1M117 11h1M127 11h1M2 12h1M4 12h7M14 12h1M17 12h2M21 12h1M25 12h1M40 12h1M46 12h1M69 12h1M71 12h2M79 12h1M85 12h1M87 12h1M124 12h2M127 12h1M5 13h2M8 13h3M15 13h1M19 13h2M30 13h1M75 13h1M92 13h2M122 13h1M125 13h3M0 14h2M3 14h2M6 14h1M8 14h2M13 14h1M15 14h1M17 14h2M22 14h1M41 14h1M59 14h1M74 14h1M102 14h1M108 14h1M110 14h1M115 14h1M121 14h1M125 14h1M127 14h1M1 15h1M4 15h2M13 15h1M17 15h1M19 15h1M21 15h1M23 15h1M42 15h1M59 15h1M75 15h1M78 15h2M117 15h1M124 15h1M0 16h2M3 16h1M10 16h1M16 16h6M40 16h1M42 16h1M70 16h1M73 16h1M76 16h1M79 16h1M90 16h1M124 16h1M126 16h1M1 17h1M4 17h4M9 17h1M16 17h5M22 17h1M44 17h2M52 17h1M55 17h1M74 17h1M89 17h1M96 17h1M103 17h1M117 17h1M120 17h1M123 17h1M125 17h1M1 18h3M5 18h1M7 18h2M15 18h1M17 18h2M21 18h1M26 18h1M42 18h3M49 18h2M53 18h2M63 18h1M69 18h1M72 18h1M75 18h2M86 18h1M99 18h1M122 18h1M126 18h2M0 19h5M6 19h1M8 19h2M14 19h1M18 19h2M21 19h1M25 19h1M40 19h3M44 19h1M51 19h2M63 19h1M76 19h1M114 19h1M116 19h1M122 19h2M126 19h1M1 20h3M5 20h1M7 20h2M16 20h2M20 20h1M22 20h3M30 20h1M40 20h1M42 20h4M47 20h1M49 20h1M52 20h2M62 20h1M114 20h1M124 20h1M126 20h1M0 21h1M3 21h1M5 21h6M12 21h5M18 21h6M26 21h1M32 21h1M43 21h1M45 21h1M49 21h1M51 21h2M61 21h1M119 21h2M125 21h1M1 22h5M7 22h2M11 22h1M15 22h4M20 22h1M22 22h2M26 22h1M30 22h1M41 22h1M43 22h4M48 22h1M69 22h1M90 22h1M114 22h2M117 22h1M1 23h3M5 23h6M13 23h2M16 23h3M24 23h3M35 23h1M39 23h1M41 23h4M68 23h1M70 23h1M88 23h3M93 23h1M114 23h1M116 23h1M119 23h1M121 23h1M125 23h1M0 24h1M2 24h2M7 24h1M9 24h1M11 24h1M13 24h1M15 24h5M23 24h1M26 24h1M28 24h2M31 24h1M36 24h1M38 24h2M42 24h3M47 24h2M52 24h2M69 24h1M71 24h1M110 24h1M113 24h1M120 24h2M123 24h1M127 24h1M9 25h1M12 25h2M15 25h5M23 25h1M25 25h1M28 25h2M32 25h1M36 25h1M41 25h5M47 25h5M53 25h1M55 25h1M62 25h1M69 25h1M72 25h1M111 25h1M115 25h1M117 25h1M122 25h1M127 25h1M2 26h1M5 26h1M11 26h1M14 26h2M17 26h1M22 26h1M25 26h2M28 26h1M31 26h1M35 26h1M42 26h1M45 26h1M50 26h2M54 26h1M67 26h1M70 26h2M112 26h2M116 26h1M119 26h1M124 26h1M2 27h2M8 27h1M11 27h4M16 27h1M21 27h1M23 27h3M32 27h1M34 27h1M49 27h1M51 27h2M55 27h1M57 27h1M70 27h1M72 27h2M112 27h2M8 28h1M11 28h4M33 28h1M35 28h2M38 28h1M51 28h1M73 28h2M76 28h1M90 28h1M94 28h1M112 28h1M117 28h1M120 28h1M125 28h2M1 29h1M3 29h1M8 29h1M13 29h2M21 29h1M24 29h1M27 29h1M34 29h1M36 29h3M40 29h1M42 29h1M44 29h1M48 29h3M58 29h1M63 29h1M68 29h1M75 29h1M113 29h1M115 29h1M120 29h1M126 29h1M8 30h1M10 30h1M13 30h1M15 30h1M23 30h1M27 30h1M30 30h1M41 30h1M45 30h1M54 30h1M59 30h1M66 30h1M72 30h1M74 30h1M79 30h2M85 30h1M113 30h4M127 30h1M10 31h3M32 31h1M36 31h1M39 31h1M42 31h1M47 31h1M49 31h4M57 31h1M60 31h1M73 31h1M79 31h1M83 31h1M114 31h1M116 31h1M119 31h1M125 31h1M9 32h1M13 32h1M38 32h1M41 32h1M44 32h1M46 32h1M48 32h1M50 32h1M52 32h2M55 32h3M61 32h1M64 32h1M66 32h1M68 32h2M73 32h2M81 32h2M84 32h3M88 32h2M91 32h1M93 32h1M97 32h1M103 32h1M112 32h2M118 32h1M123 32h1M127 32h1M12 33h2M37 33h3M41 33h1M43 33h1M45 33h2M49 33h6M56 33h2M59 33h2M62 33h5M69 33h3M73 33h2M78 33h1M80 33h3M84 33h4M92 33h1M112 33h1M123 33h1M125 33h2M31 34h1M34 34h1M37 34h2M41 34h5M47 34h2M50 34h4M58 34h1M61 34h3M65 34h3M71 34h1M73 34h2M76 34h1M80 34h2M83 34h2M91 34h1M103 34h1M118 34h2M126 34h1M31 35h1M33 35h1M35 35h1M37 35h1M39 35h5M48 35h1M50 35h2M53 35h1M55 35h1M57 35h3M61 35h1M63 35h6M70 35h1M72 35h1M76 35h2M86 35h2M90 35h3M94 35h2M111 35h1M118 35h1M124 35h4M11 36h2M33 36h1M35 36h4M40 36h21M62 36h2M65 36h5M74 36h1M76 36h3M80 36h1M88 36h1M90 36h1M94 36h1M1 37h1M11 37h2M33 37h1M36 37h3M40 37h1M42 37h8M51 37h3M55 37h1M58 37h4M63 37h7M72 37h1M78 37h1M93 37h1M116 37h1M121 37h1M127 37h1M12 38h1M29 38h1M34 38h14M49 38h4M55 38h5M62 38h7M71 38h1M75 38h1M97 38h1M122 38h3M10 39h1M32 39h4M38 39h16M55 39h13M69 39h1M71 39h1M78 39h1M123 39h1M125 39h2M32 40h1M34 40h14M49 40h6M56 40h11M68 40h1M70 40h1M82 40h1M97 40h2M114 40h1M119 40h2M122 40h2M9 41h1M11 41h1M32 41h9M42 41h4M48 41h2M51 41h1M53 41h1M55 41h1M58 41h2M61 41h3M65 41h1M67 41h3M86 41h1M109 41h1M116 41h1M121 41h2M33 42h1M35 42h1M37 42h1M40 42h2M43 42h3M47 42h6M54 42h1M56 42h7M64 42h1M66 42h2M83 42h1M85 42h1M87 42h1M93 42h1M97 42h1M114 42h1M117 42h2M121 42h4M33 43h1M39 43h9M49 43h3M53 43h3M57 43h10M68 43h1M74 43h1M82 43h1M85 43h4M99 43h1M101 43h1M114 43h2M117 43h1M120 43h1M122 43h2M8 44h1M34 44h1M36 44h1M38 44h3M43 44h1M47 44h4M52 44h2M55 44h5M61 44h3M65 44h2M85 44h1M89 44h2M98 44h3M107 44h1M110 44h1M112 44h1M118 44h1M121 44h4M127 44h1M26 45h1M35 45h1M39 45h1M41 45h12M55 45h1M58 45h1M60 45h5M66 45h3M70 45h1M83 45h4M92 45h2M98 45h2M101 45h1M109 45h1M121 45h2M8 46h1M11 46h1M13 46h1M32 46h1M41 46h6M48 46h1M50 46h2M55 46h5M61 46h1M63 46h2M67 46h1M70 46h1M80 46h1M84 46h1M86 46h2M91 46h2M94 46h1M96 46h1M100 46h1M112 46h1M115 46h1M122 46h2M125 46h1M5 47h1M7 47h1M43 47h2M46 47h2M49 47h3M54 47h1M63 47h4M68 47h1M86 47h1M88 47h1M91 47h1M94 47h3M98 47h1M101 47h1M103 47h1M107 47h1M111 47h1M113 47h1M122 47h1M38 48h1M45 48h3M50 48h1M52 48h3M58 48h1M61 48h2M64 48h1M77 48h2M96 48h1M105 48h1M112 48h1M126 48h1M11 49h1M28 49h2M43 49h1M49 49h1M51 49h1M53 49h1M56 49h2M61 49h2M65 49h1M67 49h2M70 49h1M104 49h1M109 49h3M113 49h1M115 49h1M123 49h1M38 50h1M42 50h1M47 50h1M49 50h1M54 50h1M56 50h1M61 50h1M63 50h1M66 50h1M70 50h1M102 50h1M111 50h1M113 50h1M122 50h1M26 51h1M43 51h1M49 51h1M53 51h1M57 51h1M61 51h1M63 51h1M66 51h1M68 51h2M72 51h1M83 51h1M108 51h1M110 51h2M120 51h1M123 51h2M26 52h2M53 52h1M62 52h6M71 52h1M75 52h1M100 52h1M105 52h1M108 52h1M112 52h1M118 52h1M23 53h1M27 53h1M48 53h1M52 53h1M63 53h1M66 53h1M70 53h2M82 53h2M87 53h1M111 53h2M121 53h1M0 54h1M60 54h1M62 54h1M68 54h1M70 54h1M83 54h3M113 54h1M121 54h1M124 54h3M26 55h1M62 55h1M65 55h2M72 55h1M82 55h2M85 55h1M88 55h1M110 55h1M114 55h1M118 55h1M120 55h1M14 56h1M24 56h1M59 56h1M72 56h2M81 56h1M86 56h1M108 56h3M114 56h1M123 56h1M126 56h1M22 57h1M55 57h1M83 57h1M111 57h1M124 57h1M126 57h2M52 58h1M85 58h2M124 58h1M127 58h1M86 59h1M88 59h1M109 59h1M120 59h1M123 59h2M21 60h1M83 60h1M85 60h1M111 60h1M118 60h1M17 61h1M62 61h1M79 61h1M84 61h1M86 61h1M99 61h1M109 61h1M115 61h2M19 62h1M32 62h1M62 62h2M69 62h1M76 62h1M79 62h1M85 62h1M60 63h1M62 63h1M64 63h1M70 63h1M77 63h1M82 63h1M86 63h1M112 63h1M115 63h1M2 64h1M12 64h1M14 64h1M61 64h1M66 64h2M85 64h1M88 64h1M97 64h1M117 64h1M121 64h1M26 65h1M50 65h3M64 65h1M70 65h1M76 65h1M78 65h1M80 65h1M89 65h1M113 65h1M13 66h1M34 66h1M48 66h1M51 66h1M54 66h2M57 66h1M65 66h1M67 66h1M75 66h3M79 66h1M81 66h1M84 66h1M1 67h1M3 67h1M6 67h1M14 67h1M35 67h1M52 67h1M57 67h1M65 67h2M70 67h1M73 67h1M77 67h1M92 67h1M112 67h1M5 68h1M39 68h1M50 68h1M55 68h1M60 68h1M63 68h2M67 68h3M76 68h1M79 68h1M95 68h1M6 69h1M12 69h1M44 69h3M49 69h2M53 69h1M55 69h1M57 69h1M60 69h2M66 69h1M68 69h2M72 69h1M77 69h1M81 69h1M7 70h1M55 70h1M61 70h1M66 70h6M94 70h1M114 70h1M5 71h1M7 71h1M44 71h2M56 71h1M58 71h1M60 71h1M63 71h2M66 71h1M68 71h1M82 71h1M92 71h2M23 72h2M45 72h2M48 72h2M52 72h1M56 72h2M73 72h1M78 72h1M94 72h1M114 72h1M22 73h1M34 73h1M36 73h1M42 73h1M46 73h1M58 73h1M61 73h1M69 73h1M71 73h1M92 73h1M25 74h1M33 74h1M43 74h1M48 74h1M51 74h2M54 74h1M60 74h1M87 74h1M92 74h1M5 75h1M21 75h1M26 75h1M44 75h1M48 75h1M51 75h2M55 75h1M70 75h1M97 75h1M109 75h1M23 76h3M47 76h1M49 76h1M53 76h1M60 76h1M80 76h1M25 77h1M27 77h2M38 77h1M45 77h1M47 77h1M49 77h1M53 77h1M58 77h1M62 77h1M72 77h1M99 77h1M25 78h1M48 78h1M51 78h1M54 78h1M71 78h1M91 78h1M94 78h2M99 78h2M102 78h1M105 78h1M17 79h1M35 79h1M45 79h1M47 79h1M49 79h1M52 79h2M59 79h1M69 79h1M95 79h1M106 79h1M118 79h1M19 80h1M25 80h1M27 80h1M42 80h1M46 80h1M49 80h1M52 80h1M54 80h1M61 80h1M72 80h2M90 80h2M95 80h1M98 80h1M104 80h1M108 80h1M18 81h1M38 81h1M41 81h1M44 81h1M46 81h1M48 81h1M53 81h1M58 81h1M60 81h1M69 81h1M88 81h1M94 81h4M101 81h1M104 81h1M27 82h1M32 82h1M40 82h1M43 82h1M46 82h3M51 82h5M57 82h1M61 82h1M90 82h1M93 82h2M101 82h2M105 82h2M118 82h1M12 83h1M24 83h1M37 83h1M42 83h1M45 83h2M49 83h1M62 83h2M86 83h1M92 83h1M96 83h1M100 83h1M103 83h1M105 83h1M107 83h2M112 83h1M126 83h1M25 84h1M43 84h1M46 84h1M50 84h1M52 84h4M58 84h1M91 84h1M94 84h1M98 84h1M104 84h1M108 84h1M118 84h1M120 84h1M124 84h1M25 85h2M42 85h1M45 85h1M47 85h1M52 85h4M59 85h1M72 85h1M75 85h1M91 85h1M107 85h2M111 85h1M117 85h1M121 85h1M16 86h1M36 86h1M43 86h1M45 86h1M48 86h3M55 86h5M64 86h1M101 86h1M103 86h2M107 86h1M114 86h1M120 86h1M123 86h1M1 87h2M12 87h1M23 87h1M44 87h5M51 87h2M54 87h4M59 87h1M64 87h1M67 87h1M93 87h1M95 87h1M101 87h1M103 87h1M105 87h1M119 87h1M123 87h1M127 87h1M3 88h1M9 88h1M18 88h1M40 88h1M42 88h1M44 88h1M55 88h2M58 88h1M60 88h1M62 88h2M99 88h3M103 88h1M115 88h1M117 88h3M123 88h1M126 88h1M0 89h1M7 89h3M18 89h1M20 89h1M24 89h1M46 89h2M54 89h3M60 89h1M90 89h2M101 89h2M104 89h2M108 89h2M115 89h1M117 89h1M9 90h1M12 90h2M18 90h1M20 90h2M36 90h1M51 90h1M54 90h3M102 90h1M115 90h3M2 91h1M9 91h1M11 91h1M17 91h1M22 91h1M52 91h2M57 91h2M82 91h1M95 91h1M100 91h1M107 91h3M113 91h1M125 91h1M17 92h1M24 92h1M51 92h1M76 92h2M97 92h1M102 92h1M109 92h1M118 92h1M120 92h1M20 93h1M82 93h1M94 93h1M103 93h1M108 93h3M118 93h1M12 94h1M22 94h1M24 94h2M27 94h1M60 94h1M92 94h1M103 94h1M105 94h1M107 94h2M110 94h2M118 94h1M14 95h1M27 95h1M54 95h1M90 95h1M96 95h1M102 95h1M107 95h1M110 95h1M23 96h1M27 96h1M57 96h1M98 96h1M114 96h1M36 97h1M38 97h1M50 97h1M74 97h1M94 97h1M103 97h2M110 97h1M113 97h1M117 97h1M5 98h1M8 98h1M26 98h1M36 98h1M41 98h1M52 98h1M83 98h1M106 98h1M113 98h1M118 98h1M39 99h1M78 99h1M94 99h1M97 99h1M105 99h1M112 99h1M115 99h1M3 100h2M6 100h2M22 100h1M38 100h1M55 100h1M74 100h1M78 100h2M114 100h1M116 100h1M119 100h1M12 101h1M20 101h1M35 101h2M41 101h1M55 101h1M79 101h1M113 101h1M4 102h2M13 102h1M19 102h1M24 102h1M64 102h1M111 102h1M115 102h1M118 102h1M7 103h1M19 103h1M21 103h1M25 103h2M41 103h1M81 103h1M92 103h1M115 103h1M121 103h1M125 103h1M7 104h1M12 104h1M20 104h1M38 104h1M104 104h1M118 104h1M123 104h1M3 105h1M5 105h1M8 105h1M20 105h1M34 105h1M37 105h2M40 105h1M48 105h1M51 105h1M84 105h1M93 105h1M121 105h1M6 106h1M13 106h1M22 106h1M35 106h1M37 106h1M39 106h2M42 106h1M50 106h1M61 106h1M78 106h1M84 106h1M89 106h1M92 106h2M95 106h1M123 106h1M19 107h1M33 107h1M35 107h1M39 107h1M43 107h1M81 107h1M87 107h1M90 107h1M94 107h2M118 107h1M123 107h1M8 108h1M11 108h1M15 108h1M20 108h1M24 108h1M26 108h1M36 108h4M45 108h1M74 108h1M83 108h1M85 108h1M89 108h3M116 108h1M118 108h1M7 109h2M12 109h2M27 109h1M30 109h1M32 109h2M36 109h1M38 109h3M42 109h2M45 109h2M53 109h1M70 109h1M79 109h2M82 109h2M85 109h2M88 109h2M95 109h1M106 109h1M108 109h1M119 109h1M123 109h1M7 110h3M11 110h3M18 110h1M28 110h1M31 110h1M33 110h1M35 110h1M40 110h2M44 110h1M73 110h1M76 110h1M79 110h3M83 110h2M88 110h1M90 110h4M108 110h1M111 110h1M116 110h1M118 110h1M5 111h1M10 111h3M27 111h3M32 111h1M39 111h1M41 111h3M47 111h1M71 111h2M75 111h1M79 111h2M82 111h1M85 111h1M88 111h7M96 111h1M98 111h1M105 111h1M109 111h3M113 111h1M116 111h1M121 111h1M6 112h6M14 112h2M26 112h1M29 112h1M31 112h2M34 112h1M36 112h1M38 112h1M40 112h1M42 112h1M68 112h1M72 112h1M80 112h3M84 112h1M87 112h3M91 112h2M95 112h1M105 112h6M117 112h1M119 112h1M122 112h1M4 113h1M6 113h1M9 113h2M12 113h1M27 113h1M29 113h1M31 113h1M38 113h1M46 113h1M69 113h1M71 113h2M76 113h1M79 113h3M83 113h1M85 113h1M88 113h2M91 113h2M107 113h1M120 113h1M6 114h1M10 114h1M16 114h1M21 114h1M24 114h1M29 114h2M34 114h2M37 114h2M40 114h1M42 114h1M45 114h1M71 114h1M75 114h1M82 114h1M85 114h1M87 114h4M97 114h2M100 114h1M114 114h2M118 114h1M123 114h2M3 115h4M12 115h1M15 115h1M37 115h1M41 115h2M46 115h1M51 115h1M74 115h1M77 115h1M79 115h2M84 115h3M92 115h1M101 115h2M105 115h1M109 115h1M111 115h2M115 115h3M17 116h1M21 116h1M30 116h1M33 116h1M39 116h1M72 116h1M74 116h1M76 116h1M81 116h1M83 116h4M91 116h4M99 116h1M8 117h1M27 117h1M38 117h1M53 117h1M74 117h1M82 117h1M99 117h1M110 117h1M112 117h1M114 117h1M116 117h1M120 117h1M1 118h1M6 118h1M32 118h1M37 118h1M39 118h1M71 118h1M75 118h1M85 118h1M88 118h7M99 118h1M11 119h1M31 119h1M34 119h1M47 119h1M64 119h1M76 119h1M90 119h5M112 119h1M114 119h1M116 119h1M26 120h1M30 120h1M32 120h2M35 120h1M54 120h1M67 120h1M73 120h1M76 120h2M91 120h1M95 120h1M115 120h1M119 120h1M125 120h1M127 120h1M12 121h1M26 121h1M33 121h1M65 121h1M72 121h1M76 121h1M86 121h1M90 121h1M95 121h1M97 121h1M113 121h1M116 121h1M121 121h1M124 121h1M126 121h2M4 122h1M32 122h2M35 122h1M49 122h1M62 122h1M69 122h1M75 122h1M94 122h1M111 122h1M115 122h2M126 122h2M0 123h1M17 123h1M34 123h1M48 123h1M52 123h1M56 123h1M61 123h1M63 123h2M75 123h1M95 123h1M99 123h1M120 123h1M125 123h1M127 123h1M7 124h1M32 124h2M51 124h3M62 124h1M68 124h1M76 124h1M88 124h1M92 124h1M110 124h2M118 124h1M124 124h2M127 124h1M3 125h1M6 125h1M49 125h2M52 125h1M56 125h1M60 125h4M90 125h1M123 125h1M125 125h2M2 126h1M27 126h1M56 126h1M61 126h3M87 126h1M105 126h2M108 126h1M124 126h2M52 127h1M64 127h1M90 127h1M96 127h1M107 127h3M126 127h2"/><path stroke="#67336f" d="M12 0h1M15 0h1M22 0h1M26 0h1M30 0h1M43 0h2M49 0h1M74 0h2M91 0h1M93 0h1M95 0h2M103 0h1M106 0h1M108 0h1M126 0h1M2 1h1M9 1h2M13 1h1M16 1h1M31 1h1M34 1h1M39 1h1M43 1h1M46 1h1M49 1h1M56 1h1M77 1h2M88 1h1M90 1h1M93 1h1M97 1h1M109 1h2M123 1h1M6 2h1M9 2h1M11 2h1M14 2h1M29 2h1M41 2h1M45 2h1M48 2h1M50 2h1M54 2h1M56 2h1M70 2h1M72 2h2M79 2h1M90 2h1M95 2h1M108 2h1M127 2h1M1 3h2M7 3h1M12 3h1M14 3h1M27 3h2M31 3h1M33 3h2M37 3h1M42 3h5M48 3h4M53 3h3M69 3h1M72 3h1M74 3h1M91 3h1M93 3h3M97 3h1M99 3h4M105 3h2M109 3h1M122 3h1M46 4h2M49 4h2M53 4h1M56 4h1M72 4h1M74 4h1M79 4h1M81 4h1M101 4h1M107 4h2M111 4h1M117 4h1M121 4h1M3 5h2M8 5h1M10 5h1M14 5h1M26 5h1M44 5h3M49 5h1M52 5h1M55 5h1M57 5h1M66 5h2M69 5h2M74 5h1M88 5h1M97 5h1M106 5h2M5 6h1M8 6h1M11 6h1M27 6h1M47 6h1M49 6h1M70 6h1M88 6h4M100 6h1M102 6h1M107 6h1M11 7h1M14 7h1M17 7h1M26 7h1M28 7h1M33 7h1M52 7h1M65 7h1M69 7h1M72 7h1M75 7h1M79 7h1M85 7h2M90 7h1M97 7h1M101 7h1M110 7h1M113 7h1M127 7h1M0 8h1M7 8h1M12 8h1M17 8h1M22 8h1M25 8h1M74 8h1M76 8h2M87 8h2M91 8h1M94 8h1M98 8h1M104 8h1M108 8h1M118 8h1M4 9h1M10 9h1M13 9h2M20 9h1M22 9h2M25 9h1M28 9h1M56 9h1M74 9h1M77 9h2M83 9h1M88 9h2M101 9h2M112 9h1M125 9h1M3 10h3M8 10h1M19 10h1M49 10h1M56 10h1M62 10h1M70 10h1M77 10h1M87 10h1M93 10h2M99 10h1M112 10h2M118 10h2M123 10h1M0 11h1M12 11h3M16 11h3M33 11h1M46 11h1M67 11h1M70 11h1M72 11h1M74 11h1M76 11h1M79 11h1M90 11h1M96 11h1M103 11h2M107 11h1M109 11h1M112 11h1M119 11h2M123 11h1M126 11h1M1 12h1M3 12h1M11 12h1M26 12h1M31 12h1M36 12h1M57 12h2M76 12h1M80 12h1M86 12h1M89 12h1M96 12h1M102 12h1M110 12h1M114 12h1M126 12h1M0 13h1M2 13h3M7 13h1M11 13h1M16 13h2M21 13h2M36 13h1M41 13h1M56 13h1M58 13h1M60 13h2M68 13h1M76 13h1M79 13h1M95 13h1M104 13h1M107 13h1M119 13h1M121 13h1M2 14h1M5 14h1M10 14h1M12 14h1M16 14h1M19 14h2M24 14h2M54 14h1M58 14h1M62 14h2M65 14h1M69 14h5M76 14h2M79 14h1M89 14h3M94 14h1M104 14h2M107 14h1M114 14h1M119 14h1M126 14h1M0 15h1M3 15h1M7 15h1M14 15h1M16 15h1M18 15h1M44 15h2M53 15h1M64 15h1M66 15h2M71 15h2M77 15h1M80 15h1M93 15h1M95 15h1M98 15h1M102 15h1M118 15h1M121 15h1M126 15h2M4 16h2M7 16h1M9 16h1M15 16h1M22 16h2M25 16h1M29 16h1M41 16h1M53 16h1M56 16h1M65 16h1M72 16h1M75 16h1M77 16h1M81 16h1M89 16h1M102 16h1M104 16h2M116 16h1M118 16h1M122 16h2M125 16h1M3 17h1M8 17h1M11 17h1M14 17h2M23 17h1M28 17h1M42 17h2M46 17h1M58 17h1M60 17h1M63 17h1M65 17h3M71 17h2M76 17h1M92 17h2M97 17h2M116 17h1M118 17h2M124 17h1M126 17h1M0 18h1M4 18h1M6 18h1M9 18h1M11 18h1M14 18h1M16 18h1M19 18h1M22 18h1M24 18h1M27 18h3M45 18h2M51 18h2M65 18h1M67 18h2M70 18h2M73 18h1M78 18h2M89 18h2M93 18h1M95 18h1M114 18h2M117 18h2M125 18h1M5 19h1M7 19h1M12 19h2M16 19h2M20 19h1M22 19h2M26 19h1M28 19h1M43 19h1M46 19h1M48 19h1M50 19h1M54 19h1M57 19h1M67 19h4M72 19h1M82 19h1M89 19h1M93 19h1M95 19h2M112 19h1M115 19h1M117 19h1M119 19h3M0 20h1M4 20h1M6 20h1M11 20h1M14 20h2M18 20h2M21 20h1M26 20h4M34 20h1M41 20h1M46 20h1M48 20h1M51 20h1M63 20h1M71 20h2M81 20h1M92 20h1M108 20h1M112 20h1M116 20h1M118 20h1M121 20h1M123 20h1M1 21h2M4 21h1M11 21h1M17 21h1M24 21h1M27 21h1M30 21h2M41 21h2M44 21h1M48 21h1M50 21h1M53 21h2M64 21h2M68 21h1M70 21h2M74 21h1M111 21h3M115 21h1M117 21h1M121 21h3M126 21h1M6 22h1M10 22h1M12 22h2M19 22h1M27 22h1M31 22h3M35 22h1M37 22h2M40 22h1M49 22h2M52 22h1M65 22h2M68 22h1M70 22h1M72 22h1M81 22h1M108 22h1M112 22h2M116 22h1M120 22h3M125 22h1M127 22h1M11 23h2M15 23h1M19 23h5M30 23h2M33 23h1M36 23h2M46 23h4M51 23h1M58 23h1M60 23h1M66 23h2M69 23h1M71 23h2M110 23h1M115 23h1M117 23h1M120 23h1M122 23h1M124 23h1M1 24h1M5 24h2M10 24h1M12 24h1M24 24h2M30 24h1M33 24h1M35 24h1M41 24h1M46 24h1M49 24h3M54 24h1M56 24h1M60 24h1M65 24h2M68 24h1M72 24h1M94 24h1M96 24h1M108 24h1M112 24h1M114 24h1M117 24h3M124 24h2M1 25h3M7 25h2M14 25h1M20 25h1M24 25h1M27 25h1M35 25h1M37 25h1M39 25h2M46 25h1M63 25h2M67 25h2M71 25h1M73 25h1M109 25h2M112 25h1M114 25h1M116 25h1M119 25h3M124 25h1M126 25h1M6 26h1M9 26h2M13 26h1M16 26h1M18 26h1M21 26h1M24 26h1M27 26h1M30 26h1M34 26h1M36 26h4M41 26h1M43 26h1M46 26h1M48 26h1M52 26h1M55 26h3M59 26h1M61 26h1M68 26h2M91 26h1M93 26h1M111 26h1M115 26h1M117 26h1M122 26h2M5 27h1M10 27h1M15 27h1M20 27h1M27 27h5M33 27h1M39 27h1M50 27h1M53 27h2M56 27h1M75 27h1M91 27h1M94 27h1M114 27h3M121 27h1M125 27h3M7 28h1M9 28h2M15 28h1M18 28h1M20 28h1M22 28h2M25 28h3M31 28h2M34 28h1M41 28h1M45 28h2M49 28h2M52 28h4M60 28h1M67 28h1M71 28h1M75 28h1M88 28h2M113 28h3M119 28h1M122 28h2M5 29h1M10 29h1M18 29h1M20 29h1M22 29h1M25 29h1M28 29h2M31 29h1M39 29h1M43 29h1M47 29h1M51 29h2M61 29h2M66 29h2M70 29h1M72 29h1M76 29h1M78 29h1M85 29h1M88 29h1M90 29h1M100 29h2M108 29h1M114 29h1M116 29h1M127 29h1M2 30h1M6 30h1M11 30h1M17 30h1M21 30h1M33 30h2M38 30h1M44 30h1M46 30h2M49 30h1M52 30h1M55 30h2M62 30h2M67 30h1M69 30h1M75 30h3M83 30h1M102 30h1M104 30h1M112 30h1M123 30h1M125 30h1M2 31h1M5 31h2M8 31h1M14 31h1M19 31h1M22 31h1M24 31h1M27 31h1M38 31h1M40 31h2M43 31h4M48 31h1M53 31h2M56 31h1M61 31h1M64 31h3M69 31h2M72 31h1M77 31h1M80 31h1M84 31h1M86 31h1M90 31h2M108 31h2M112 31h1M122 31h1M126 31h1M10 32h1M20 32h2M32 32h1M35 32h2M40 32h1M42 32h1M45 32h1M47 32h1M49 32h1M51 32h1M58 32h2M67 32h1M72 32h1M87 32h1M90 32h1M92 32h1M110 32h2M117 32h1M120 32h1M122 32h1M124 32h2M8 33h1M11 33h1M22 33h1M34 33h1M36 33h1M40 33h1M42 33h1M44 33h1M47 33h2M55 33h1M58 33h1M61 33h1M67 33h2M72 33h1M77 33h1M79 33h1M88 33h4M102 33h1M111 33h1M115 33h2M119 33h1M121 33h2M127 33h1M13 34h1M15 34h1M32 34h1M35 34h2M39 34h1M46 34h1M49 34h1M54 34h3M60 34h1M64 34h1M68 34h1M72 34h1M78 34h1M82 34h1M85 34h3M92 34h3M96 34h2M100 34h1M107 34h1M110 34h1M114 34h1M122 34h2M9 35h1M11 35h3M28 35h1M34 35h1M38 35h1M44 35h1M46 35h2M49 35h1M52 35h1M54 35h1M56 35h1M60 35h1M62 35h1M69 35h1M71 35h1M73 35h1M81 35h2M85 35h1M88 35h1M93 35h1M100 35h1M106 35h2M109 35h1M119 35h3M123 35h1M25 36h1M28 36h1M30 36h3M39 36h1M61 36h1M64 36h1M70 36h1M73 36h1M75 36h1M79 36h1M83 36h2M89 36h1M92 36h1M98 36h1M121 36h2M125 36h3M0 37h1M10 37h1M29 37h1M34 37h2M39 37h1M41 37h1M50 37h1M54 37h1M56 37h2M62 37h1M71 37h1M75 37h2M81 37h2M87 37h1M90 37h1M94 37h2M104 37h1M107 37h1M114 37h1M118 37h1M123 37h1M125 37h1M0 38h1M10 38h2M30 38h1M32 38h2M48 38h1M53 38h2M60 38h2M69 38h2M72 38h1M76 38h2M81 38h4M89 38h1M91 38h1M101 38h1M106 38h1M112 38h1M117 38h1M119 38h2M126 38h1M9 39h1M11 39h1M30 39h2M36 39h1M54 39h1M68 39h1M74 39h1M86 39h2M92 39h1M95 39h1M97 39h1M99 39h1M106 39h1M108 39h2M111 39h1M117 39h1M119 39h1M121 39h2M127 39h1M30 40h2M33 40h1M48 40h1M55 40h1M69 40h1M73 40h1M76 40h1M78 40h3M83 40h1M86 40h2M90 40h1M100 40h1M107 40h1M113 40h1M115 40h3M125 40h1M41 41h1M46 41h2M50 41h1M52 41h1M54 41h1M56 41h2M60 41h1M64 41h1M66 41h1M70 41h1M85 41h1M89 41h3M99 41h2M118 41h1M123 41h1M127 41h1M11 42h1M13 42h1M15 42h1M30 42h1M39 42h1M42 42h1M46 42h1M55 42h1M63 42h1M65 42h1M68 42h1M70 42h2M91 42h1M94 42h1M98 42h2M101 42h1M103 42h1M105 42h1M119 42h2M126 42h1M13 43h2M32 43h1M34 43h5M48 43h1M56 43h1M67 43h1M69 43h2M73 43h1M81 43h1M83 43h2M89 43h1M91 43h2M95 43h1M97 43h1M104 43h1M110 43h1M118 43h1M121 43h1M124 43h1M126 43h2M10 44h2M31 44h3M41 44h2M44 44h3M51 44h1M60 44h1M64 44h1M67 44h2M70 44h1M80 44h2M84 44h1M86 44h1M93 44h1M95 44h3M101 44h1M106 44h1M109 44h1M117 44h1M119 44h2M125 44h1M3 45h1M7 45h1M10 45h2M30 45h1M53 45h2M56 45h2M59 45h1M65 45h1M69 45h1M72 45h2M79 45h1M82 45h1M87 45h2M90 45h2M94 45h2M100 45h1M102 45h1M104 45h2M112 45h1M114 45h1M119 45h1M123 45h4M4 46h1M10 46h1M33 46h1M40 46h1M47 46h1M49 46h1M53 46h2M60 46h1M62 46h1M66 46h1M68 46h1M71 46h1M73 46h1M78 46h1M82 46h2M89 46h2M93 46h1M101 46h1M104 46h1M108 46h4M114 46h1M120 46h1M126 46h1M11 47h2M29 47h1M45 47h1M48 47h1M52 47h2M56 47h1M61 47h2M69 47h2M73 47h1M80 47h3M84 47h2M89 47h2M100 47h1M104 47h1M106 47h1M110 47h1M112 47h1M120 47h1M125 47h1M1 48h1M28 48h1M34 48h1M39 48h1M44 48h1M48 48h2M60 48h1M63 48h1M65 48h3M69 48h3M73 48h1M76 48h1M80 48h1M84 48h2M87 48h1M91 48h1M93 48h1M95 48h1M97 48h2M100 48h3M108 48h4M113 48h1M115 48h1M120 48h1M122 48h2M26 49h2M37 49h1M44 49h1M46 49h1M48 49h1M50 49h1M52 49h1M58 49h1M64 49h1M66 49h1M69 49h1M71 49h2M74 49h1M78 49h1M83 49h1M85 49h1M88 49h1M91 49h1M95 49h1M99 49h1M101 49h1M105 49h1M107 49h1M126 49h2M12 50h1M15 50h2M21 50h1M26 50h1M28 50h1M31 50h1M41 50h1M44 50h1M48 50h1M52 50h1M59 50h1M62 50h1M67 50h3M71 50h1M84 50h1M91 50h1M97 50h2M100 50h2M103 50h3M109 50h2M112 50h1M114 50h1M120 50h1M25 51h1M28 51h2M42 51h1M44 51h1M48 51h1M51 51h2M55 51h2M58 51h1M60 51h1M62 51h1M64 51h2M67 51h1M71 51h1M74 51h1M84 51h3M88 51h1M92 51h1M97 51h2M107 51h1M112 51h2M116 51h2M119 51h1M121 51h1M2 52h1M25 52h1M49 52h2M61 52h1M68 52h1M73 52h2M83 52h1M86 52h1M88 52h2M101 52h2M106 52h1M109 52h2M113 52h2M121 52h1M123 52h2M13 53h1M25 53h1M47 53h1M49 53h1M53 53h1M57 53h5M64 53h2M67 53h3M81 53h1M84 53h2M88 53h1M90 53h1M95 53h1M103 53h1M113 53h1M115 53h1M119 53h2M122 53h1M16 54h1M23 54h1M25 54h2M38 54h1M59 54h1M63 54h3M67 54h1M69 54h1M71 54h1M73 54h1M75 54h1M80 54h1M86 54h1M88 54h1M100 54h3M106 54h1M108 54h1M112 54h1M115 54h1M122 54h1M127 54h1M13 55h1M18 55h1M23 55h1M46 55h1M59 55h1M61 55h1M63 55h2M67 55h2M84 55h1M86 55h2M107 55h3M116 55h1M122 55h1M124 55h1M127 55h1M17 56h1M25 56h1M63 56h2M67 56h1M85 56h1M100 56h1M107 56h1M112 56h1M120 56h3M124 56h1M127 56h1M45 57h1M67 57h1M69 57h1M84 57h2M87 57h1M105 57h1M110 57h1M112 57h2M121 57h2M20 58h1M46 58h1M73 58h1M75 58h1M82 58h3M89 58h1M108 58h2M121 58h1M123 58h1M125 58h1M72 59h1M76 59h1M82 59h4M90 59h1M107 59h1M111 59h1M116 59h1M127 59h1M19 60h1M60 60h1M80 60h1M84 60h1M96 60h1M99 60h1M109 60h1M112 60h2M116 60h1M121 60h1M124 60h1M126 60h2M13 61h1M29 61h1M67 61h1M70 61h1M81 61h1M83 61h1M88 61h1M101 61h1M110 61h4M118 61h1M122 61h1M127 61h1M0 62h3M31 62h1M55 62h1M57 62h1M60 62h1M65 62h2M68 62h1M70 62h1M72 62h3M84 62h1M86 62h3M98 62h2M112 62h2M120 62h1M122 62h4M32 63h1M61 63h1M63 63h1M65 63h3M69 63h1M71 63h1M74 63h1M76 63h1M81 63h1M84 63h1M104 63h1M111 63h1M113 63h1M116 63h1M120 63h1M123 63h1M20 64h1M23 64h1M33 64h1M45 64h1M50 64h1M52 64h2M55 64h2M58 64h1M60 64h1M62 64h2M68 64h1M72 64h2M82 64h1M118 64h1M123 64h1M19 65h1M27 65h1M31 65h1M46 65h1M55 65h1M59 65h1M61 65h1M66 65h1M68 65h2M71 65h1M73 65h2M82 65h2M87 65h1M94 65h1M103 65h1M117 65h1M0 66h1M16 66h3M32 66h1M36 66h1M43 66h2M49 66h2M52 66h1M56 66h1M58 66h1M62 66h1M72 66h1M74 66h1M92 66h5M99 66h1M110 66h1M112 66h1M115 66h1M126 66h1M0 67h1M7 67h1M23 67h1M30 67h1M36 67h1M49 67h1M58 67h1M60 67h2M64 67h1M68 67h1M71 67h1M75 67h1M78 67h1M80 67h1M93 67h3M114 67h2M2 68h1M6 68h1M16 68h1M40 68h1M43 68h1M51 68h3M56 68h3M61 68h1M66 68h1M71 68h1M73 68h2M77 68h1M81 68h1M87 68h1M92 68h3M115 68h2M125 68h1M3 69h1M27 69h1M38 69h1M41 69h1M47 69h1M52 69h1M58 69h1M63 69h1M65 69h1M67 69h1M76 69h1M93 69h2M113 69h1M115 69h1M117 69h1M20 70h2M32 70h1M40 70h2M47 70h3M56 70h2M60 70h1M62 70h1M65 70h1M72 70h2M84 70h1M93 70h1M95 70h1M99 70h1M118 70h1M15 71h1M19 71h1M22 71h1M34 71h1M37 71h1M46 71h1M50 71h2M55 71h1M69 71h5M76 71h1M78 71h1M91 71h1M99 71h1M115 71h1M117 71h1M11 72h1M47 72h1M51 72h1M54 72h2M60 72h1M63 72h1M68 72h1M70 72h1M72 72h1M75 72h1M93 72h1M95 72h1M97 72h2M100 72h1M117 72h1M8 73h2M23 73h1M37 73h1M44 73h1M50 73h3M54 73h3M60 73h1M63 73h1M72 73h2M75 73h1M81 73h1M86 73h1M90 73h1M93 73h2M96 73h1M99 73h1M101 73h1M111 73h1M14 74h1M19 74h1M22 74h1M24 74h1M34 74h1M37 74h1M42 74h1M45 74h3M55 74h1M57 74h1M61 74h1M67 74h1M82 74h1M91 74h1M95 74h1M98 74h1M106 74h1M110 74h1M116 74h1M9 75h1M22 75h1M25 75h1M31 75h1M35 75h4M41 75h1M43 75h1M45 75h2M49 75h2M53 75h1M57 75h1M73 75h1M79 75h2M88 75h1M92 75h1M95 75h1M98 75h1M104 75h1M106 75h1M108 75h1M22 76h1M28 76h1M32 76h1M35 76h2M38 76h1M43 76h2M46 76h1M50 76h2M54 76h2M61 76h1M69 76h2M72 76h1M74 76h1M94 76h1M97 76h1M102 76h2M108 76h1M119 76h1M14 77h1M23 77h1M29 77h1M33 77h1M35 77h1M37 77h1M43 77h1M51 77h2M66 77h1M68 77h1M71 77h1M81 77h1M93 77h2M100 77h1M103 77h1M106 77h1M127 77h1M26 78h1M33 78h2M45 78h2M53 78h1M58 78h1M60 78h1M68 78h3M72 78h2M82 78h1M89 78h1M96 78h1M107 78h2M111 78h1M3 79h1M15 79h1M18 79h1M20 79h1M22 79h4M27 79h1M29 79h1M34 79h1M37 79h2M51 79h1M55 79h1M68 79h1M71 79h1M87 79h1M91 79h3M99 79h1M101 79h1M103 79h1M105 79h1M107 79h2M126 79h1M24 80h1M28 80h1M30 80h2M38 80h1M45 80h1M47 80h2M69 80h1M71 80h1M75 80h1M83 80h1M86 80h1M88 80h1M92 80h1M94 80h1M101 80h1M105 80h1M110 80h1M119 80h1M15 81h1M17 81h1M19 81h2M25 81h1M28 81h1M47 81h1M49 81h1M54 81h1M57 81h1M59 81h1M70 81h2M73 81h1M77 81h1M81 81h1M93 81h1M100 81h1M103 81h1M105 81h1M107 81h4M117 81h1M119 81h1M127 81h1M15 82h1M17 82h1M24 82h1M26 82h1M29 82h1M37 82h1M39 82h1M41 82h2M44 82h1M85 82h1M89 82h1M95 82h1M98 82h3M103 82h1M107 82h2M111 82h1M116 82h2M25 83h2M36 83h1M47 83h1M50 83h1M52 83h1M54 83h2M58 83h1M69 83h1M72 83h2M88 83h1M90 83h2M93 83h3M98 83h1M104 83h1M106 83h1M111 83h1M119 83h1M14 84h1M35 84h1M37 84h1M39 84h2M44 84h2M47 84h1M56 84h1M59 84h1M61 84h1M64 84h2M68 84h1M70 84h1M72 84h1M86 84h1M88 84h1M93 84h1M95 84h2M100 84h3M107 84h1M110 84h1M114 84h1M123 84h1M2 85h1M8 85h1M16 85h1M33 85h1M35 85h1M38 85h4M43 85h2M46 85h1M48 85h3M56 85h2M65 85h1M69 85h1M74 85h1M87 85h1M90 85h1M92 85h1M94 85h1M96 85h1M99 85h1M103 85h2M109 85h1M112 85h1M122 85h1M124 85h1M5 86h1M9 86h1M14 86h1M23 86h1M25 86h1M39 86h1M44 86h1M46 86h2M52 86h2M61 86h1M66 86h1M73 86h2M76 86h1M93 86h1M95 86h2M102 86h1M106 86h1M108 86h1M115 86h1M118 86h1M121 86h1M125 86h1M6 87h2M11 87h1M14 87h1M33 87h2M41 87h3M49 87h2M53 87h1M58 87h1M96 87h4M102 87h1M104 87h1M107 87h1M109 87h1M111 87h1M120 87h1M122 87h1M126 87h1M0 88h1M12 88h1M37 88h1M41 88h1M45 88h1M47 88h2M50 88h2M59 88h1M68 88h1M93 88h2M97 88h2M102 88h1M106 88h1M116 88h1M120 88h2M5 89h2M10 89h1M15 89h1M17 89h1M23 89h1M51 89h1M53 89h1M57 89h1M61 89h1M65 89h1M68 89h1M88 89h1M95 89h1M98 89h1M106 89h1M113 89h1M2 90h1M5 90h1M7 90h2M10 90h2M15 90h1M17 90h1M19 90h1M26 90h1M33 90h1M46 90h1M48 90h1M53 90h1M57 90h2M64 90h1M90 90h1M96 90h1M104 90h2M107 90h2M110 90h1M118 90h1M120 90h1M124 90h2M0 91h1M4 91h1M10 91h1M12 91h1M14 91h2M19 91h3M45 91h1M48 91h1M51 91h1M56 91h1M60 91h2M68 91h1M78 91h1M83 91h1M88 91h1M98 91h2M102 91h1M104 91h1M106 91h1M115 91h3M119 91h1M121 91h1M0 92h1M7 92h1M11 92h2M15 92h2M20 92h2M26 92h1M48 92h1M53 92h1M56 92h2M59 92h1M92 92h1M110 92h3M121 92h1M12 93h1M28 93h1M51 93h1M53 93h2M76 93h1M92 93h1M98 93h1M105 93h1M107 93h1M111 93h2M10 94h1M21 94h1M23 94h1M26 94h1M51 94h1M53 94h1M55 94h1M57 94h1M78 94h1M89 94h3M95 94h2M99 94h1M102 94h1M106 94h1M113 94h1M120 94h1M123 94h1M20 95h1M22 95h1M24 95h1M26 95h1M33 95h1M39 95h1M41 95h1M52 95h1M59 95h1M75 95h3M88 95h2M91 95h1M94 95h2M104 95h2M109 95h1M118 95h1M120 95h2M10 96h1M13 96h1M31 96h1M37 96h1M51 96h1M56 96h1M67 96h1M80 96h1M83 96h1M92 96h2M96 96h2M100 96h1M104 96h1M109 96h2M115 96h1M120 96h1M20 97h1M23 97h1M28 97h1M55 97h1M66 97h1M75 97h1M77 97h1M81 97h2M89 97h1M91 97h1M93 97h1M97 97h1M102 97h1M108 97h2M114 97h2M11 98h1M20 98h1M23 98h1M29 98h1M38 98h1M55 98h2M58 98h1M60 98h1M74 98h1M77 98h1M79 98h1M84 98h1M89 98h1M94 98h1M99 98h1M103 98h2M109 98h1M111 98h1M114 98h2M117 98h1M120 98h1M122 98h1M13 99h1M28 99h1M54 99h1M74 99h3M79 99h1M84 99h1M90 99h1M96 99h1M99 99h1M103 99h1M108 99h1M113 99h2M117 99h1M124 99h1M5 100h1M8 100h1M11 100h1M14 100h1M27 100h1M65 100h1M80 100h1M86 100h1M98 100h1M100 100h2M105 100h1M111 100h3M115 100h1M3 101h1M6 101h1M11 101h1M15 101h1M23 101h1M30 101h1M34 101h1M39 101h1M53 101h1M57 101h1M64 101h1M83 101h1M85 101h1M94 101h1M101 101h1M103 101h1M105 101h1M110 101h3M114 101h3M126 101h1M7 102h1M11 102h2M14 102h3M26 102h2M34 102h1M37 102h1M51 102h1M54 102h1M72 102h1M78 102h1M81 102h1M83 102h1M93 102h1M113 102h1M120 102h1M4 103h2M11 103h2M32 103h3M36 103h2M39 103h1M49 103h1M51 103h1M54 103h2M60 103h1M78 103h2M94 103h1M113 103h2M120 103h1M123 103h1M1 104h1M3 104h1M5 104h2M8 104h3M14 104h1M16 104h2M21 104h1M33 104h2M37 104h1M41 104h1M48 104h1M53 104h1M56 104h1M80 104h1M83 104h1M85 104h2M91 104h2M94 104h1M97 104h1M101 104h1M111 104h1M115 104h3M120 104h1M125 104h1M4 105h1M9 105h1M12 105h1M21 105h1M23 105h2M39 105h1M45 105h1M47 105h1M59 105h1M75 105h1M80 105h1M82 105h2M96 105h1M114 105h1M125 105h1M3 106h2M9 106h1M11 106h2M18 106h3M28 106h2M36 106h1M38 106h1M41 106h1M44 106h1M46 106h1M70 106h1M80 106h4M85 106h2M90 106h2M94 106h1M104 106h1M115 106h1M117 106h2M121 106h1M3 107h1M8 107h4M14 107h3M20 107h1M28 107h1M36 107h1M44 107h2M52 107h1M75 107h1M89 107h1M91 107h1M97 107h1M116 107h2M124 107h1M127 107h1M10 108h1M13 108h2M18 108h2M21 108h2M28 108h1M33 108h1M35 108h1M40 108h1M48 108h1M72 108h1M77 108h3M81 108h1M86 108h1M92 108h1M95 108h1M97 108h1M101 108h1M115 108h1M120 108h2M124 108h1M6 109h1M9 109h2M17 109h3M24 109h1M26 109h1M37 109h1M44 109h1M47 109h1M68 109h2M73 109h1M78 109h1M87 109h1M90 109h1M94 109h1M99 109h1M107 109h1M116 109h1M121 109h2M124 109h1M5 110h1M10 110h1M14 110h2M23 110h5M30 110h1M34 110h1M36 110h1M38 110h2M43 110h1M45 110h2M49 110h1M53 110h1M66 110h1M68 110h5M77 110h1M82 110h1M85 110h3M89 110h1M96 110h1M104 110h3M109 110h2M113 110h1M115 110h1M117 110h1M123 110h1M7 111h3M14 111h2M20 111h1M22 111h1M24 111h2M30 111h2M37 111h2M40 111h1M49 111h1M53 111h1M70 111h1M74 111h1M76 111h3M81 111h1M84 111h1M86 111h1M107 111h1M112 111h1M119 111h2M125 111h1M4 112h1M16 112h1M18 112h1M25 112h1M28 112h1M33 112h1M37 112h1M39 112h1M41 112h1M46 112h1M61 112h1M67 112h1M70 112h1M75 112h2M79 112h1M85 112h2M90 112h1M93 112h1M99 112h3M104 112h1M112 112h3M116 112h1M118 112h1M121 112h1M123 112h2M7 113h1M13 113h1M15 113h1M19 113h1M21 113h1M24 113h1M32 113h1M34 113h1M39 113h3M44 113h1M68 113h1M70 113h1M74 113h1M77 113h1M82 113h1M84 113h1M86 113h2M90 113h1M99 113h1M109 113h3M114 113h3M118 113h2M121 113h3M125 113h1M4 114h1M7 114h1M9 114h1M12 114h2M18 114h2M27 114h2M36 114h1M41 114h1M43 114h1M51 114h1M70 114h1M72 114h1M78 114h1M80 114h2M84 114h1M86 114h1M92 114h1M96 114h1M99 114h1M101 114h1M107 114h2M111 114h2M116 114h1M119 114h1M121 114h2M7 115h4M19 115h1M24 115h1M33 115h2M36 115h1M38 115h1M40 115h1M72 115h1M78 115h1M81 115h1M87 115h1M89 115h2M94 115h3M107 115h1M110 115h1M118 115h2M125 115h2M2 116h1M4 116h1M8 116h1M13 116h1M16 116h1M18 116h2M22 116h1M29 116h1M32 116h1M51 116h1M55 116h1M62 116h1M69 116h1M71 116h1M73 116h1M80 116h1M82 116h1M88 116h1M90 116h1M96 116h1M101 116h2M108 116h2M111 116h1M114 116h2M117 116h1M120 116h1M122 116h1M125 116h1M13 117h1M16 117h2M20 117h2M25 117h1M30 117h2M33 117h1M40 117h1M42 117h5M49 117h1M52 117h1M66 117h1M80 117h2M85 117h1M87 117h1M90 117h6M97 117h2M100 117h1M103 117h1M115 117h1M119 117h1M124 117h1M8 118h1M13 118h2M20 118h2M23 118h1M27 118h1M31 118h1M35 118h1M38 118h1M40 118h3M45 118h2M48 118h1M52 118h1M59 118h1M61 118h2M69 118h1M77 118h1M86 118h1M95 118h2M98 118h1M102 118h1M109 118h1M116 118h1M122 118h3M127 118h1M10 119h1M13 119h1M28 119h1M30 119h1M36 119h2M39 119h3M43 119h2M46 119h1M50 119h1M53 119h1M62 119h2M65 119h2M68 119h1M74 119h1M84 119h1M89 119h1M96 119h1M98 119h1M109 119h3M115 119h1M117 119h2M126 119h1M5 120h1M9 120h1M14 120h1M28 120h1M34 120h1M37 120h1M45 120h1M47 120h2M51 120h1M53 120h1M57 120h1M63 120h1M65 120h1M74 120h1M79 120h1M84 120h1M87 120h1M92 120h2M98 120h2M110 120h1M117 120h1M123 120h1M3 121h3M8 121h2M23 121h1M27 121h1M30 121h1M32 121h1M34 121h1M36 121h2M44 121h2M50 121h3M66 121h2M73 121h2M77 121h1M87 121h1M92 121h1M94 121h1M98 121h1M110 121h1M114 121h2M118 121h2M125 121h1M21 122h1M28 122h2M36 122h1M38 122h1M47 122h2M50 122h5M63 122h1M68 122h1M76 122h2M81 122h1M85 122h1M91 122h1M114 122h1M118 122h1M120 122h1M123 122h3M4 123h1M12 123h1M27 123h2M37 123h1M50 123h1M54 123h1M57 123h1M65 123h1M76 123h1M78 123h1M81 123h1M83 123h1M90 123h1M97 123h1M111 123h2M115 123h2M123 123h2M2 124h1M4 124h2M25 124h1M36 124h1M48 124h1M54 124h3M60 124h1M63 124h1M69 124h1M73 124h1M91 124h1M94 124h3M98 124h1M115 124h1M121 124h1M126 124h1M7 125h1M33 125h2M48 125h1M51 125h1M53 125h1M66 125h2M69 125h1M94 125h2M98 125h1M106 125h1M110 125h1M116 125h1M120 125h1M124 125h1M127 125h1M0 126h1M21 126h1M35 126h1M50 126h4M58 126h1M60 126h1M64 126h1M90 126h1M92 126h4M97 126h1M99 126h1M107 126h1M110 126h2M126 126h2M0 127h1M3 127h1M25 127h1M29 127h1M53 127h1M58 127h1M60 127h2M66 127h3M86 127h1M89 127h1M91 127h1M104 127h3M110 127h1M124 127h1"/><path stroke="#7133b3" d="M9 0h1M16 0h1M19 0h1M53 0h1M58 0h1M60 0h1M66 0h1M79 0h1M83 0h1M85 0h2M105 0h1M109 0h1M114 0h1M118 0h1M120 0h1M4 1h1M17 1h1M19 1h1M23 1h1M55 1h1M58 1h1M64 1h1M67 1h2M80 1h1M114 1h2M120 1h1M3 2h1M7 2h1M17 2h1M44 2h1M51 2h1M60 2h2M69 2h1M74 2h1M81 2h1M91 2h1M105 2h1M112 2h2M118 2h1M121 2h1M126 2h1M4 3h1M10 3h1M15 3h1M17 3h1M20 3h1M24 3h3M60 3h1M66 3h1M76 3h3M86 3h1M89 3h1M115 3h1M118 3h1M15 4h1M17 4h1M21 4h1M23 4h2M31 4h1M34 4h1M38 4h1M58 4h1M60 4h1M75 4h1M97 4h1M99 4h1M103 4h1M105 4h1M109 4h1M115 4h1M127 4h1M6 5h1M20 5h1M28 5h1M41 5h1M54 5h1M62 5h1M64 5h1M93 5h1M2 6h1M4 6h1M19 6h1M32 6h1M45 6h1M48 6h1M55 6h1M59 6h1M63 6h1M66 6h1M72 6h1M76 6h1M92 6h1M104 6h1M113 6h1M127 6h1M43 7h1M45 7h1M47 7h1M58 7h1M62 7h1M66 7h1M76 7h1M98 7h1M106 7h2M109 7h1M112 7h1M121 7h1M123 7h2M1 8h1M4 8h1M26 8h2M29 8h1M43 8h1M59 8h1M78 8h1M82 8h1M96 8h2M110 8h1M114 8h1M122 8h2M21 9h1M26 9h1M30 9h1M55 9h1M59 9h2M62 9h1M64 9h1M68 9h1M80 9h1M90 9h2M105 9h1M107 9h1M110 9h2M114 9h1M117 9h3M122 9h1M23 10h1M25 10h1M28 10h1M35 10h1M37 10h2M42 10h1M48 10h1M51 10h1M60 10h1M63 10h1M66 10h2M69 10h1M84 10h1M92 10h1M100 10h1M108 10h2M114 10h1M23 11h1M25 11h2M31 11h1M35 11h1M50 11h1M52 11h1M64 11h1M68 11h1M82 11h1M86 11h1M91 11h1M94 11h1M98 11h1M100 11h1M102 11h1M110 11h1M113 11h1M116 11h1M27 12h1M41 12h1M47 12h1M51 12h1M61 12h1M68 12h1M77 12h2M82 12h2M91 12h1M97 12h1M107 12h1M115 12h2M122 12h1M12 13h1M24 13h1M27 13h2M32 13h1M35 13h1M40 13h1M45 13h1M83 13h2M89 13h1M94 13h1M98 13h1M110 13h1M114 13h1M11 14h1M30 14h1M35 14h1M40 14h1M43 14h1M61 14h1M82 14h1M99 14h1M123 14h1M10 15h1M26 15h1M34 15h1M38 15h1M58 15h1M63 15h1M69 15h2M87 15h1M96 15h2M105 15h1M24 16h1M34 16h1M37 16h1M54 16h1M58 16h1M80 16h1M82 16h1M93 16h1M106 16h1M112 16h1M120 16h1M27 17h1M39 17h1M49 17h1M59 17h1M62 17h1M81 17h1M85 17h2M107 17h2M110 17h1M113 17h1M127 17h1M32 18h1M35 18h1M39 18h1M55 18h1M60 18h1M74 18h1M84 18h1M87 18h1M96 18h1M102 18h2M121 18h1M11 19h1M31 19h2M37 19h1M56 19h1M61 19h1M71 19h1M80 19h1M97 19h1M107 19h1M31 20h1M37 20h1M56 20h2M66 20h1M70 20h1M73 20h1M84 20h1M89 20h1M98 20h1M36 21h1M77 21h1M82 21h1M89 21h1M91 21h1M114 21h1M71 22h1M89 22h1M95 22h1M97 22h1M110 22h1M29 23h1M54 23h1M59 23h1M82 23h1M87 23h1M91 23h1M100 23h1M102 23h1M105 23h1M108 23h1M59 24h1M61 24h3M82 24h1M95 24h1M102 24h1M4 25h1M30 25h1M65 25h1M74 25h1M76 25h1M83 25h2M93 25h1M96 25h2M107 25h1M125 25h1M3 26h2M33 26h1M74 26h1M76 26h1M79 26h1M82 26h1M87 26h1M102 26h1M127 26h1M4 27h1M37 27h1M61 27h1M80 27h1M92 27h1M95 27h1M98 27h2M101 27h1M119 27h2M122 27h1M37 28h1M59 28h1M65 28h1M79 28h1M93 28h1M95 28h1M98 28h1M106 28h1M108 28h1M124 28h1M17 29h1M59 29h1M87 29h1M97 29h1M117 29h2M3 30h1M18 30h1M73 30h1M78 30h1M93 30h2M100 30h1M107 30h2M110 30h2M118 30h3M124 30h1M17 31h1M20 31h1M23 31h1M59 31h1M71 31h1M99 31h1M103 31h2M118 31h1M123 31h1M0 32h1M2 32h1M15 32h1M24 32h1M29 32h1M62 32h1M102 32h1M121 32h1M0 33h2M4 33h2M26 33h1M31 33h1M95 33h1M118 33h1M124 33h1M2 34h1M21 34h1M23 34h1M108 34h1M111 34h1M115 34h1M3 35h2M15 35h1M80 35h1M102 35h1M114 35h1M0 36h2M13 36h1M15 36h1M27 36h1M105 36h1M108 36h1M113 36h1M118 36h2M15 37h1M31 37h1M73 37h1M89 37h1M99 37h1M102 37h1M105 37h2M111 37h1M7 38h1M14 38h2M88 38h1M90 38h1M104 38h2M110 38h1M116 38h1M4 39h1M8 39h1M17 39h1M70 39h1M93 39h2M100 39h1M105 39h1M113 39h1M8 40h1M12 40h1M15 40h1M19 40h1M25 40h1M29 40h1M72 40h1M77 40h1M84 40h1M101 40h1M106 40h1M111 40h1M21 41h1M77 41h2M107 41h1M6 42h1M14 42h1M16 42h1M77 42h1M81 42h1M88 42h1M107 42h1M110 42h1M7 43h1M26 43h1M28 43h1M75 43h2M79 43h2M112 43h2M14 44h1M23 44h1M25 44h1M30 44h1M78 44h1M87 44h1M5 45h1M16 45h1M29 45h1M38 45h1M40 45h1M76 45h1M80 45h1M103 45h1M107 45h1M113 45h1M116 45h1M2 46h2M7 46h1M24 46h1M27 46h1M34 46h1M72 46h1M77 46h1M79 46h1M97 46h1M102 46h1M105 46h1M1 47h1M3 47h2M13 47h1M16 47h1M19 47h1M24 47h2M27 47h2M32 47h1M35 47h1M38 47h3M74 47h1M114 47h1M116 47h2M119 47h1M7 48h1M13 48h1M16 48h1M25 48h1M27 48h1M29 48h1M31 48h1M40 48h1M81 48h1M89 48h1M117 48h1M119 48h1M1 49h1M4 49h1M15 49h1M17 49h1M21 49h1M25 49h1M33 49h1M35 49h1M38 49h1M40 49h1M59 49h1M73 49h1M92 49h2M97 49h2M116 49h1M3 50h2M13 50h1M23 50h1M27 50h1M29 50h1M37 50h1M40 50h1M76 50h1M78 50h2M83 50h1M86 50h1M1 51h1M4 51h1M22 51h1M30 51h1M35 51h1M37 51h1M39 51h1M54 51h1M76 51h1M80 51h1M115 51h1M118 51h1M6 52h1M12 52h2M24 52h1M30 52h2M36 52h1M39 52h1M56 52h2M79 52h1M81 52h2M98 52h2M115 52h1M127 52h1M2 53h1M5 53h2M15 53h1M45 53h1M50 53h1M75 53h1M89 53h1M91 53h2M96 53h1M98 53h1M127 53h1M3 54h1M19 54h1M24 54h1M40 54h1M43 54h1M47 54h1M50 54h1M52 54h1M58 54h1M74 54h1M76 54h1M79 54h1M81 54h1M96 54h1M105 54h1M107 54h1M119 54h1M8 55h1M24 55h1M27 55h1M42 55h2M51 55h1M53 55h1M58 55h1M75 55h1M81 55h1M90 55h1M98 55h1M100 55h1M115 55h1M117 55h1M0 56h1M3 56h1M5 56h1M15 56h1M18 56h1M21 56h1M26 56h2M32 56h1M44 56h2M52 56h1M54 56h3M71 56h1M78 56h2M88 56h3M95 56h1M99 56h1M101 56h1M113 56h1M4 57h1M9 57h2M12 57h1M14 57h1M42 57h2M46 57h1M51 57h1M57 57h1M60 57h2M64 57h1M72 57h1M80 57h1M90 57h1M99 57h1M115 57h2M118 57h1M12 58h1M17 58h1M22 58h2M29 58h1M44 58h2M47 58h1M54 58h3M59 58h1M61 58h1M63 58h1M68 58h2M74 58h1M99 58h1M101 58h1M25 59h4M30 59h1M50 59h1M59 59h1M62 59h1M68 59h1M77 59h1M93 59h1M98 59h1M102 59h1M126 59h1M3 60h1M11 60h1M15 60h2M24 60h1M26 60h1M44 60h1M48 60h1M55 60h2M59 60h1M63 60h1M68 60h1M71 60h1M73 60h1M79 60h1M95 60h1M98 60h1M100 60h1M102 60h1M110 60h1M123 60h1M2 61h1M8 61h1M21 61h1M24 61h1M27 61h1M46 61h1M50 61h1M61 61h1M65 61h1M68 61h1M73 61h1M76 61h1M82 61h1M89 61h2M94 61h1M117 61h1M119 61h1M124 61h1M4 62h1M17 62h1M28 62h1M33 62h2M39 62h1M42 62h2M48 62h1M59 62h1M75 62h1M78 62h1M82 62h1M90 62h1M94 62h1M97 62h1M100 62h1M102 62h1M105 62h1M111 62h1M114 62h1M116 62h1M121 62h1M1 63h2M16 63h1M23 63h1M30 63h2M33 63h1M37 63h1M54 63h1M68 63h1M72 63h1M78 63h1M85 63h1M93 63h1M102 63h2M114 63h1M126 63h1M0 64h1M3 64h1M13 64h1M24 64h1M26 64h1M31 64h1M40 64h2M49 64h1M70 64h1M91 64h1M103 64h1M110 64h1M112 64h1M120 64h1M126 64h1M13 65h1M28 65h1M40 65h1M43 65h1M65 65h1M86 65h1M88 65h1M92 65h1M96 65h1M98 65h3M109 65h1M119 65h1M1 66h1M19 66h1M28 66h1M31 66h1M33 66h1M46 66h1M59 66h1M80 66h1M82 66h1M88 66h2M100 66h1M119 66h2M5 67h1M9 67h1M13 67h1M26 67h2M29 67h1M31 67h1M55 67h1M83 67h1M85 67h1M89 67h1M97 67h1M103 67h1M105 67h1M111 67h1M123 67h2M127 67h1M0 68h1M3 68h1M12 68h3M18 68h1M23 68h1M26 68h1M30 68h1M37 68h1M46 68h1M49 68h1M72 68h1M85 68h1M91 68h1M100 68h1M108 68h2M113 68h1M121 68h1M1 69h1M5 69h1M14 69h1M73 69h1M84 69h1M87 69h1M89 69h1M98 69h1M119 69h2M10 70h2M22 70h1M37 70h3M42 70h1M53 70h2M81 70h1M86 70h1M96 70h1M111 70h2M119 70h1M123 70h1M126 70h1M17 71h1M27 71h1M31 71h1M38 71h1M48 71h1M75 71h1M83 71h1M97 71h1M101 71h1M118 71h1M126 71h1M3 72h1M9 72h1M13 72h1M18 72h1M21 72h1M50 72h1M53 72h1M91 72h1M111 72h2M124 72h2M127 72h1M1 73h1M5 73h1M10 73h1M14 73h1M26 73h1M45 73h1M57 73h1M68 73h1M102 73h1M112 73h1M122 73h1M125 73h1M127 73h1M6 74h1M20 74h1M26 74h1M30 74h1M41 74h1M58 74h1M65 74h1M69 74h1M84 74h2M101 74h1M126 74h1M3 75h2M6 75h1M10 75h1M15 75h1M20 75h1M24 75h1M54 75h1M75 75h1M94 75h1M116 75h1M122 75h2M3 76h1M27 76h1M65 76h1M77 76h1M79 76h1M90 76h1M95 76h1M98 76h1M109 76h1M116 76h1M124 76h2M1 77h1M9 77h3M15 77h2M18 77h1M41 77h1M64 77h1M78 77h1M80 77h1M88 77h1M120 77h1M124 77h2M1 78h2M6 78h1M12 78h1M14 78h1M16 78h1M21 78h1M28 78h1M30 78h1M38 78h1M41 78h1M43 78h1M47 78h1M59 78h1M61 78h1M66 78h1M106 78h1M110 78h1M113 78h1M1 79h1M4 79h1M11 79h1M16 79h1M30 79h1M36 79h1M57 79h1M63 79h2M67 79h1M73 79h1M79 79h3M85 79h1M88 79h1M109 79h2M112 79h1M2 80h2M5 80h1M9 80h1M23 80h1M33 80h2M41 80h1M66 80h1M74 80h1M87 80h1M89 80h1M103 80h1M116 80h1M123 80h1M42 81h1M63 81h1M66 81h2M79 81h2M113 81h2M118 81h1M8 82h2M12 82h1M16 82h1M28 82h1M31 82h1M35 82h1M59 82h2M74 82h1M86 82h1M115 82h1M119 82h2M127 82h1M10 83h1M23 83h1M29 83h1M51 83h1M57 83h1M68 83h1M75 83h1M80 83h1M85 83h1M89 83h1M99 83h1M101 83h1M118 83h1M121 83h1M5 84h2M9 84h1M18 84h1M24 84h1M31 84h1M67 84h1M71 84h1M75 84h1M84 84h1M111 84h1M116 84h1M125 84h3M3 85h1M6 85h1M12 85h1M14 85h2M36 85h1M67 85h1M76 85h1M88 85h1M120 85h1M4 86h1M10 86h1M13 86h1M24 86h1M28 86h1M31 86h1M37 86h1M41 86h1M63 86h1M87 86h1M112 86h2M0 87h1M3 87h1M19 87h1M36 87h1M62 87h1M71 87h1M78 87h1M87 87h1M94 87h1M117 87h2M4 88h1M7 88h1M14 88h1M28 88h1M31 88h2M35 88h1M53 88h1M90 88h1M92 88h1M104 88h1M111 88h2M114 88h1M125 88h1M37 89h1M41 89h1M43 89h3M49 89h1M52 89h1M64 89h1M69 89h1M71 89h2M74 89h1M76 89h1M79 89h1M84 89h1M89 89h1M97 89h1M103 89h1M112 89h1M116 89h1M118 89h1M124 89h2M3 90h1M16 90h1M28 90h1M40 90h1M45 90h1M65 90h1M68 90h1M79 90h1M83 90h2M99 90h1M5 91h1M18 91h1M27 91h2M33 91h1M35 91h1M38 91h1M49 91h1M63 91h2M66 91h2M69 91h1M72 91h1M74 91h2M92 91h1M111 91h1M3 92h1M37 92h1M40 92h1M46 92h1M49 92h1M61 92h1M64 92h1M70 92h1M72 92h1M80 92h1M87 92h2M93 92h2M103 92h1M113 92h1M115 92h1M1 93h1M3 93h1M5 93h1M8 93h1M16 93h1M34 93h1M59 93h1M65 93h1M69 93h1M81 93h1M90 93h1M93 93h1M102 93h1M3 94h1M14 94h1M29 94h1M32 94h1M47 94h1M62 94h1M65 94h1M68 94h1M71 94h1M77 94h1M80 94h1M117 94h1M8 95h1M11 95h1M18 95h1M30 95h1M36 95h1M57 95h1M69 95h2M84 95h1M98 95h1M114 95h1M124 95h1M14 96h1M20 96h1M24 96h1M29 96h1M33 96h1M35 96h1M39 96h3M47 96h1M49 96h1M68 96h2M74 96h1M79 96h1M82 96h1M99 96h1M106 96h1M116 96h1M2 97h1M15 97h2M19 97h1M22 97h1M24 97h1M26 97h1M29 97h1M35 97h1M39 97h1M43 97h1M51 97h2M63 97h1M68 97h1M84 97h1M86 97h1M98 97h3M120 97h1M4 98h1M7 98h1M15 98h1M21 98h1M24 98h2M31 98h2M42 98h1M45 98h1M59 98h1M70 98h1M78 98h1M81 98h2M86 98h1M88 98h1M91 98h2M110 98h1M2 99h1M7 99h1M19 99h1M23 99h1M26 99h2M32 99h2M36 99h1M42 99h1M47 99h1M60 99h1M80 99h1M82 99h1M85 99h1M95 99h1M102 99h1M107 99h1M109 99h2M116 99h1M120 99h1M122 99h1M12 100h2M24 100h1M28 100h1M42 100h1M51 100h1M53 100h1M57 100h1M64 100h1M69 100h1M71 100h1M73 100h1M82 100h1M89 100h1M99 100h1M103 100h1M107 100h1M109 100h1M121 100h2M125 100h1M4 101h1M8 101h1M10 101h1M21 101h1M31 101h1M33 101h1M51 101h1M54 101h1M62 101h1M73 101h1M76 101h1M81 101h2M86 101h2M90 101h1M95 101h1M97 101h1M99 101h1M118 101h1M123 101h1M125 101h1M127 101h1M1 102h1M3 102h1M17 102h1M36 102h1M44 102h1M49 102h1M73 102h1M80 102h1M84 102h1M94 102h1M102 102h1M104 102h1M117 102h1M121 102h1M126 102h2M0 103h1M13 103h3M28 103h1M38 103h1M43 103h1M46 103h1M57 103h1M73 103h1M82 103h1M84 103h1M26 104h1M31 104h2M50 104h3M57 104h1M63 104h1M68 104h2M71 104h1M74 104h2M81 104h1M90 104h1M96 104h1M99 104h1M110 104h1M126 104h1M2 105h1M19 105h1M25 105h2M31 105h1M36 105h1M54 105h1M58 105h1M65 105h1M71 105h2M76 105h1M78 105h1M81 105h1M88 105h1M100 105h1M104 105h1M108 105h1M113 105h1M124 105h1M15 106h1M23 106h1M25 106h1M27 106h1M31 106h1M33 106h1M54 106h1M77 106h1M100 106h1M103 106h1M107 106h1M110 106h1M4 107h1M13 107h1M27 107h1M31 107h1M53 107h2M64 107h1M67 107h1M93 107h1M103 107h1M108 107h1M112 107h1M121 107h1M47 108h1M64 108h2M68 108h2M75 108h1M82 108h1M96 108h1M105 108h3M11 109h1M16 109h1M75 109h1M101 109h1M111 109h1M120 109h1M1 110h1M17 110h1M21 110h1M52 110h1M54 110h1M64 110h2M100 110h1M112 110h1M114 110h1M121 110h1M124 110h1M1 111h1M35 111h1M48 111h1M50 111h1M56 111h1M60 111h1M65 111h2M102 111h2M5 112h1M22 112h1M24 112h1M45 112h1M52 112h1M56 112h1M59 112h2M71 112h1M73 112h1M96 112h1M18 113h1M20 113h1M22 113h1M33 113h1M35 113h2M60 113h2M63 113h1M65 113h1M100 113h1M11 114h1M22 114h1M33 114h1M65 114h1M83 114h1M127 114h1M18 115h1M25 115h1M59 115h1M124 115h1M1 116h1M43 116h2M47 116h2M52 116h1M58 116h1M60 116h1M77 116h1M97 116h1M103 116h1M105 116h1M123 116h1M126 116h1M3 117h1M23 117h2M56 117h1M61 117h2M72 117h1M75 117h1M78 117h1M109 117h1M22 118h1M29 118h1M36 118h1M51 118h1M64 118h1M83 118h1M108 118h1M110 118h1M119 118h1M2 119h1M5 119h1M8 119h1M14 119h1M17 119h1M20 119h2M23 119h2M32 119h1M78 119h1M100 119h1M3 120h1M12 120h2M18 120h1M21 120h2M50 120h1M56 120h1M64 120h1M82 120h1M94 120h1M96 120h1M102 120h1M104 120h1M108 120h1M0 121h1M10 121h1M19 121h1M38 121h4M62 121h1M80 121h1M93 121h1M108 121h1M8 122h1M11 122h1M14 122h1M16 122h1M23 122h1M37 122h1M39 122h1M57 122h1M71 122h2M97 122h1M109 122h1M1 123h3M6 123h1M10 123h1M13 123h2M18 123h2M32 123h1M42 123h1M46 123h1M59 123h1M68 123h1M73 123h1M87 123h1M89 123h1M103 123h1M108 123h1M110 123h1M114 123h1M35 124h1M47 124h1M67 124h1M78 124h1M82 124h1M84 124h1M87 124h1M93 124h1M4 125h1M8 125h2M25 125h2M29 125h1M32 125h1M85 125h1M87 125h1M100 125h3M112 125h1M3 126h1M9 126h2M24 126h1M28 126h1M32 126h1M48 126h1M67 126h1M73 126h2M79 126h1M88 126h1M109 126h1M112 126h1M119 126h1M123 126h1M5 127h3M23 127h1M28 127h1M30 127h1M32 127h2M46 127h1M65 127h1M69 127h1M84 127h1M95 127h1M102 127h1M118 127h1M121 127h1"/><path stroke="#3533bb" d="M14 0h1M20 0h1M25 0h1M54 0h1M77 0h1M81 0h1M84 0h1M92 0h1M111 0h2M7 1h1M41 1h1M71 1h1M79 1h1M82 1h1M112 1h2M116 1h1M1 2h1M8 2h1M19 2h1M23 2h1M25 2h1M27 2h1M62 2h1M86 2h1M110 2h2M124 2h2M3 3h1M22 3h1M38 3h1M40 3h1M56 3h1M59 3h1M61 3h1M63 3h1M79 3h2M112 3h1M119 3h1M125 3h1M19 4h1M25 4h1M39 4h1M51 4h1M55 4h1M61 4h1M78 4h1M80 4h1M84 4h2M90 4h1M116 4h1M124 4h1M126 4h1M15 5h1M24 5h1M31 5h2M39 5h1M58 5h2M85 5h1M100 5h1M103 5h1M112 5h3M127 5h1M15 6h1M25 6h1M38 6h1M40 6h1M69 6h1M73 6h1M83 6h1M85 6h1M105 6h1M116 6h1M118 6h1M6 7h1M19 7h1M23 7h1M27 7h1M37 7h1M46 7h1M48 7h1M53 7h1M55 7h2M64 7h1M67 7h1M102 7h1M120 7h1M21 8h1M34 8h2M38 8h1M50 8h1M56 8h1M61 8h1M95 8h1M113 8h1M115 8h3M124 8h1M33 9h2M40 9h1M47 9h1M52 9h1M85 9h1M95 9h2M99 9h2M121 9h1M24 10h1M27 10h1M41 10h1M44 10h1M65 10h1M89 10h1M91 10h1M102 10h1M122 10h1M29 11h2M34 11h1M42 11h1M49 11h1M69 11h1M12 12h1M15 12h1M29 12h2M35 12h1M38 12h1M43 12h1M54 12h1M62 12h1M84 12h1M90 12h1M99 12h1M111 12h2M33 13h1M37 13h1M48 13h1M50 13h1M82 13h1M101 13h1M120 13h1M32 14h1M45 14h1M51 14h1M81 14h1M87 14h1M92 14h1M97 14h1M106 14h1M116 14h1M27 15h1M33 15h1M35 15h1M37 15h1M61 15h1M74 15h1M111 15h1M113 15h1M123 15h1M28 16h1M50 16h1M103 16h1M107 16h1M25 17h1M37 17h2M47 17h1M94 17h1M106 17h1M112 17h1M30 18h1M48 18h1M57 18h3M64 18h1M94 18h1M97 18h2M107 18h1M109 18h1M30 19h1M34 19h2M59 19h1M101 19h1M12 20h1M38 20h1M55 20h1M59 20h2M78 20h1M93 20h1M96 20h1M99 20h1M101 20h1M38 21h1M58 21h1M79 21h1M81 21h1M84 21h1M88 21h1M92 21h2M95 21h1M101 21h1M105 21h1M57 22h1M60 22h1M77 22h1M82 22h1M88 22h1M93 22h2M106 22h1M109 22h1M94 23h1M99 23h1M101 23h1M81 24h1M86 24h1M88 24h1M101 24h1M59 25h1M77 25h1M89 25h2M92 25h1M99 25h1M108 25h1M75 26h1M78 26h1M125 26h1M19 27h1M22 27h1M36 27h1M84 27h1M86 27h1M2 28h2M62 28h1M81 28h1M101 28h1M45 29h1M69 29h1M83 29h2M98 29h1M102 29h1M104 29h1M121 29h2M14 30h1M16 30h1M81 30h1M3 31h1M18 31h1M25 31h1M94 31h1M101 31h1M1 32h1M6 32h1M14 32h1M105 32h1M19 33h1M23 33h1M33 33h1M97 33h1M99 33h1M109 33h1M0 34h1M3 34h2M8 34h1M14 34h1M106 34h1M5 35h1M16 35h1M79 35h1M110 35h1M117 35h1M16 36h1M91 36h1M99 36h1M101 36h2M106 36h2M114 36h1M6 37h1M8 37h1M20 37h1M112 37h1M122 37h1M126 37h1M2 38h1M18 38h1M25 38h1M28 38h1M78 38h1M86 38h1M100 38h1M1 39h3M6 39h1M14 39h1M18 39h1M23 39h1M27 39h1M79 39h1M0 40h1M2 40h1M5 40h1M75 40h1M112 40h1M15 41h1M24 41h1M26 41h1M28 41h1M76 41h1M93 41h1M104 41h1M106 41h1M108 41h1M115 41h1M4 42h1M7 42h1M20 42h1M27 42h1M73 42h1M82 42h1M104 42h1M113 42h1M106 43h1M104 44h1M13 45h1M37 45h1M106 45h1M111 45h1M15 46h2M25 46h1M118 46h2M121 46h1M15 47h1M20 47h1M30 47h1M72 47h1M0 48h1M2 48h1M4 48h2M32 48h1M41 48h1M7 49h1M10 49h1M23 49h1M79 49h1M96 49h1M117 49h1M125 49h1M10 50h1M17 50h2M24 50h1M32 50h1M57 50h1M77 50h1M6 51h1M21 51h1M31 51h1M40 51h1M79 51h1M91 51h1M1 52h1M3 52h1M18 52h1M21 52h1M23 52h1M45 52h1M77 52h2M87 52h1M90 52h3M10 53h1M22 53h1M40 53h1M43 53h1M78 53h2M7 54h1M10 54h1M22 54h1M44 54h1M48 54h1M77 54h1M89 54h1M94 54h1M120 54h1M6 55h1M9 55h1M11 55h1M15 55h1M17 55h1M19 55h1M28 55h2M47 55h2M71 55h1M73 55h1M92 55h1M94 55h1M104 55h1M22 56h2M36 56h1M42 56h1M49 56h1M57 56h1M68 56h1M70 56h1M74 56h1M118 56h1M5 57h1M19 57h2M29 57h1M40 57h1M49 57h1M54 57h1M63 57h1M66 57h1M76 57h1M92 57h1M117 57h1M1 58h2M4 58h1M8 58h1M15 58h1M21 58h1M25 58h1M27 58h1M34 58h1M43 58h1M53 58h1M57 58h1M60 58h1M70 58h2M92 58h2M98 58h1M104 58h2M117 58h1M1 59h2M14 59h1M19 59h1M29 59h1M32 59h1M40 59h1M48 59h2M57 59h2M60 59h1M64 59h3M94 59h1M103 59h1M115 59h1M2 60h1M17 60h1M25 60h1M28 60h2M34 60h1M40 60h3M45 60h1M49 60h1M66 60h1M69 60h1M75 60h1M92 60h1M104 60h1M122 60h1M0 61h1M3 61h1M30 61h1M33 61h1M37 61h1M45 61h1M55 61h1M58 61h1M104 61h1M120 61h1M123 61h1M3 62h1M5 62h2M16 62h1M35 62h2M51 62h1M54 62h1M77 62h1M119 62h1M127 62h1M12 63h1M17 63h1M22 63h1M24 63h1M27 63h1M41 63h2M47 63h1M49 63h1M90 63h1M96 63h1M108 63h2M118 63h1M127 63h1M5 64h1M16 64h1M21 64h2M35 64h2M42 64h1M46 64h1M57 64h1M92 64h1M98 64h1M100 64h1M111 64h1M10 65h1M16 65h1M24 65h1M32 65h1M35 65h1M41 65h2M81 65h1M111 65h1M125 65h1M8 66h3M12 66h1M15 66h1M23 66h1M38 66h1M98 66h1M104 66h1M109 66h1M121 66h1M20 67h1M38 67h1M41 67h1M44 67h1M46 67h2M81 67h1M87 67h1M126 67h1M1 68h1M17 68h1M29 68h1M31 68h1M75 68h1M98 68h2M101 68h1M106 68h1M110 68h2M120 68h1M9 69h1M11 69h1M20 69h1M35 69h1M37 69h1M42 69h1M85 69h1M90 69h1M100 69h1M103 69h1M107 69h1M118 69h1M122 69h1M23 70h2M33 70h1M64 70h1M103 70h1M109 70h1M121 70h1M124 70h1M10 71h1M13 71h1M18 71h1M26 71h1M62 71h1M84 71h1M102 71h1M105 71h1M107 71h1M109 71h1M111 71h1M114 71h1M123 71h1M8 72h1M12 72h1M16 72h2M19 72h1M29 72h1M31 72h1M38 72h1M85 72h1M108 72h1M110 72h1M115 72h1M11 73h1M30 73h1M38 73h1M41 73h1M53 73h1M70 73h1M82 73h2M110 73h1M114 73h1M119 73h1M123 73h1M10 74h1M12 74h1M18 74h1M27 74h1M32 74h1M40 74h1M83 74h1M90 74h1M112 74h1M117 74h1M124 74h1M2 75h1M8 75h1M12 75h1M16 75h1M56 75h1M66 75h1M89 75h1M103 75h1M107 75h1M112 75h1M120 75h2M124 75h1M0 76h1M4 76h1M8 76h1M13 76h1M19 76h1M26 76h1M39 76h1M42 76h1M75 76h2M78 76h1M84 76h1M115 76h1M117 76h1M121 76h1M123 76h1M127 76h1M4 77h2M13 77h1M83 77h2M101 77h1M121 77h1M123 77h1M3 78h1M63 78h1M76 78h1M80 78h1M84 78h1M109 78h1M116 78h1M120 78h1M126 78h1M9 79h1M21 79h1M40 79h1M60 79h1M62 79h1M75 79h2M90 79h1M0 80h1M21 80h1M39 80h1M59 80h1M64 80h2M77 80h1M79 80h2M84 80h2M114 80h1M120 80h1M125 80h1M6 81h1M10 81h1M12 81h1M84 81h1M1 82h1M67 82h1M76 82h1M113 82h1M121 82h2M126 82h1M4 83h1M65 83h1M87 83h1M114 83h2M120 83h1M125 83h1M8 84h1M22 84h1M28 84h1M33 84h2M82 84h1M121 84h1M4 85h1M7 85h1M9 85h1M17 85h1M22 85h1M32 85h1M83 85h1M86 85h1M113 85h1M115 85h1M1 86h1M65 86h1M71 86h1M78 86h1M82 86h1M86 86h1M119 86h1M10 87h1M35 87h1M76 87h1M85 87h1M89 87h1M110 87h1M112 87h1M16 88h1M27 88h1M34 88h1M39 88h1M61 88h1M65 88h1M70 88h1M73 88h1M75 88h2M87 88h1M113 88h1M21 89h1M33 89h4M62 89h2M75 89h1M82 89h1M87 89h1M111 89h1M14 90h1M32 90h1M41 90h1M62 90h1M70 90h2M73 90h1M85 90h2M88 90h1M123 90h1M62 91h1M76 91h1M80 91h2M87 91h1M90 91h1M126 91h1M27 92h1M34 92h1M68 92h1M74 92h1M78 92h1M86 92h1M89 92h1M96 92h1M124 92h1M2 93h1M14 93h1M30 93h1M35 93h1M37 93h1M50 93h1M63 93h2M67 93h1M73 93h1M77 93h1M84 93h1M113 93h1M123 93h1M125 93h1M0 94h1M2 94h1M20 94h1M37 94h1M43 94h1M49 94h1M61 94h1M64 94h1M69 94h1M81 94h1M115 94h1M12 95h1M16 95h1M42 95h2M48 95h3M67 95h1M71 95h1M74 95h1M85 95h1M92 95h1M97 95h1M100 95h2M119 95h1M123 95h1M125 95h1M4 96h1M15 96h1M22 96h1M28 96h1M45 96h1M54 96h1M58 96h1M70 96h1M72 96h1M78 96h1M121 96h2M10 97h1M12 97h1M18 97h1M21 97h1M44 97h4M62 97h1M72 97h1M83 97h1M92 97h1M121 97h1M126 97h1M6 98h1M10 98h1M28 98h1M30 98h1M64 98h2M73 98h1M87 98h1M90 98h1M121 98h1M125 98h1M0 99h1M16 99h1M18 99h1M24 99h1M30 99h1M43 99h1M51 99h1M88 99h2M93 99h1M100 99h1M104 99h1M16 100h1M23 100h1M25 100h1M47 100h1M60 100h1M62 100h1M70 100h1M72 100h1M75 100h1M92 100h1M94 100h1M120 100h1M0 101h1M2 101h1M7 101h1M47 101h1M59 101h2M68 101h1M100 101h1M108 101h1M2 102h1M43 102h1M66 102h1M86 102h2M123 102h1M29 103h1M31 103h1M45 103h1M50 103h1M61 103h1M71 103h2M75 103h2M86 103h1M88 103h1M91 103h1M101 103h1M127 103h1M0 104h1M25 104h1M27 104h1M43 104h1M62 104h1M76 104h1M84 104h1M102 104h1M49 105h2M52 105h2M55 105h1M60 105h2M66 105h1M73 105h2M105 105h1M111 105h1M30 106h1M43 106h1M47 106h1M53 106h1M55 106h1M62 106h1M67 106h1M69 106h1M73 106h1M97 106h1M108 106h1M114 106h1M38 107h1M51 107h1M63 107h1M76 107h1M5 108h1M50 108h1M52 108h1M88 108h1M110 108h1M2 109h1M25 109h1M60 109h1M62 109h2M77 109h1M110 109h1M113 109h1M127 109h1M2 110h1M103 110h1M62 111h1M67 111h1M114 111h1M1 112h1M20 112h1M53 112h3M63 112h1M66 112h1M127 112h1M11 113h1M51 113h1M53 113h1M59 113h1M66 113h1M17 114h1M23 114h1M47 114h1M50 114h1M53 114h1M56 114h1M67 114h2M103 114h1M126 114h1M1 115h1M21 115h1M23 115h1M26 115h1M55 115h1M57 115h1M76 115h1M91 115h1M122 115h2M42 116h1M46 116h1M61 116h1M124 116h1M19 117h1M54 117h1M60 117h1M107 117h1M19 118h1M57 118h1M73 118h1M78 118h1M101 118h1M107 118h1M15 119h1M42 119h1M48 119h1M55 119h1M79 119h2M87 119h1M122 119h1M4 120h1M17 120h1M58 120h1M81 120h1M83 120h1M101 120h1M103 120h1M1 121h1M22 121h1M25 121h1M54 121h2M58 121h1M84 121h1M101 121h1M107 121h1M0 122h1M7 122h1M17 122h1M22 122h1M27 122h1M58 122h1M82 122h1M87 122h1M105 122h2M108 122h1M119 122h1M23 123h2M36 123h1M69 123h1M85 123h1M105 123h1M10 124h1M13 124h1M17 124h1M21 124h1M23 124h1M26 124h1M29 124h1M72 124h1M86 124h1M90 124h1M99 124h1M101 124h1M117 124h1M0 125h1M20 125h1M71 125h1M78 125h2M83 125h1M99 125h1M105 125h1M113 125h1M115 125h1M119 125h1M8 126h1M29 126h1M37 126h1M68 126h1M72 126h1M77 126h2M98 126h1M100 126h3M113 126h1M11 127h1M13 127h1M26 127h1M34 127h2M37 127h1M56 127h2M72 127h1M75 127h1M103 127h1M116 127h2M120 127h1"/><path stroke="#3333d4" d="M2 0h1M18 0h1M67 0h1M119 0h1M3 1h1M20 1h1M22 1h1M85 1h1M117 1h1M15 2h1M20 2h2M67 2h1M82 2h2M104 2h1M115 2h1M117 2h1M119 2h1M5 3h1M36 3h1M39 3h1M64 3h1M116 3h1M124 3h1M5 4h1M22 4h1M37 4h1M40 4h1M63 4h1M66 4h1M102 4h1M123 4h1M37 5h1M79 5h1M82 5h1M104 5h1M111 5h1M125 5h2M34 6h1M39 6h1M56 6h1M61 6h1M78 6h1M81 6h1M114 6h1M120 6h2M124 6h1M57 7h1M105 7h1M122 7h1M30 8h1M33 8h1M45 8h1M49 8h1M54 8h1M65 8h1M120 8h2M32 9h1M45 9h1M50 9h2M54 9h1M63 9h1M67 9h1M82 9h1M106 9h1M120 9h1M34 10h1M43 10h1M50 10h1M57 10h1M59 10h1M121 10h1M24 11h1M39 11h1M43 11h1M51 11h1M92 11h1M45 12h1M52 12h1M65 12h1M73 12h1M81 12h1M88 12h1M109 12h1M29 13h1M31 13h1M44 13h1M52 13h1M65 13h1M85 13h1M113 13h1M33 14h1M66 14h1M84 14h1M113 14h1M28 15h1M85 15h1M100 15h1M32 16h1M35 16h1M57 16h1M99 16h1M111 16h1M113 16h1M33 17h1M48 17h1M82 17h3M91 17h1M122 17h1M31 18h1M88 18h1M101 18h1M112 18h1M60 19h1M79 19h1M81 19h1M102 19h2M105 19h1M109 19h2M61 20h1M80 20h1M82 20h2M95 20h1M102 20h1M104 20h1M56 21h1M80 21h1M86 21h1M97 21h1M36 22h1M80 22h1M85 22h1M99 22h1M103 22h1M57 23h1M61 23h1M64 23h1M79 23h1M83 23h1M85 23h1M92 23h1M96 23h2M57 24h2M122 24h1M80 25h1M82 25h1M98 25h1M63 26h1M83 26h2M94 26h1M106 26h1M59 27h1M65 27h1M79 27h1M81 27h1M96 27h1M102 27h1M84 28h1M97 28h1M99 28h1M127 28h1M0 29h1M57 29h1M109 29h1M20 30h1M21 31h1M26 31h1M4 32h2M17 32h1M26 32h1M101 32h1M3 33h1M6 33h1M101 33h1M103 33h1M107 33h1M16 34h3M20 34h1M25 34h1M102 34h1M105 34h1M0 35h1M17 35h1M19 35h1M21 35h1M103 35h1M105 35h1M18 36h1M24 36h1M4 37h1M14 37h1M16 37h1M115 37h1M5 38h1M13 38h1M17 38h1M20 38h2M26 38h1M102 38h1M115 38h1M0 39h1M7 39h1M20 39h1M24 39h2M20 40h1M23 40h1M27 40h1M6 41h1M25 41h1M27 41h1M112 41h1M106 42h1M5 43h2M8 43h1M19 43h1M27 43h1M107 43h2M24 44h1M21 45h1M81 45h1M0 46h1M9 46h1M35 46h2M2 47h1M14 47h1M6 48h1M15 48h1M17 48h1M21 48h1M24 48h1M6 49h1M39 49h1M75 49h1M9 50h1M11 50h1M22 50h1M39 50h1M96 50h1M0 51h1M8 51h1M20 51h1M32 51h1M96 51h1M20 52h1M35 52h1M41 52h1M116 52h1M9 53h1M11 53h2M18 53h1M21 53h1M31 53h1M35 53h1M42 53h1M44 53h1M93 53h1M102 53h1M1 54h1M12 54h1M17 54h2M20 54h2M30 54h1M32 54h1M42 54h1M78 54h1M97 54h1M1 55h1M5 55h1M16 55h1M32 55h1M38 55h1M93 55h1M7 56h1M9 56h1M19 56h2M53 56h1M98 56h1M106 56h1M2 57h1M52 57h1M56 57h1M58 57h1M65 57h1M98 57h1M0 58h1M11 58h1M13 58h1M49 58h1M58 58h1M67 58h1M79 58h1M90 58h2M94 58h1M96 58h1M100 58h1M118 58h1M0 59h1M15 59h1M20 59h3M33 59h1M43 59h1M61 59h1M69 59h1M79 59h1M91 59h1M118 59h1M22 60h1M27 60h1M31 60h1M47 60h1M58 60h1M64 60h1M67 60h1M90 60h1M119 60h1M10 61h2M18 61h1M23 61h1M34 61h1M36 61h1M42 61h2M51 61h1M53 61h1M74 61h1M91 61h1M95 61h2M102 61h1M13 62h1M26 62h1M37 62h1M40 62h1M47 62h1M49 62h1M53 62h1M71 62h1M91 62h1M117 62h1M7 63h1M11 63h1M20 63h2M35 63h2M43 63h2M91 63h1M107 63h1M25 64h1M29 64h2M47 64h2M90 64h1M107 64h1M109 64h1M124 64h1M4 65h1M6 65h1M25 65h1M38 65h1M48 65h1M123 65h2M7 66h1M20 66h2M37 66h1M45 66h1M86 66h2M105 66h1M22 67h1M107 67h1M110 67h1M7 68h1M9 68h1M62 68h1M88 68h1M104 68h1M107 68h1M22 69h2M26 69h1M91 69h1M104 69h1M106 69h1M110 69h1M124 69h1M19 70h1M27 70h1M31 70h1M34 70h2M79 70h1M98 70h1M120 70h1M0 71h1M12 71h1M21 71h1M25 71h1M29 71h1M41 71h1M47 71h1M86 71h1M104 71h1M106 71h1M120 71h3M127 71h1M0 72h1M4 72h1M25 72h1M44 72h1M86 72h1M122 72h1M19 73h1M87 73h1M105 73h2M113 73h1M118 73h1M2 74h1M5 74h1M62 74h1M68 74h1M73 74h1M107 74h1M118 74h1M121 74h1M27 75h1M39 75h2M84 75h1M90 75h1M125 75h1M1 76h1M18 76h1M59 76h1M64 76h1M88 76h1M7 77h1M17 77h1M19 77h1M32 77h1M63 77h1M75 77h2M82 77h1M85 77h1M18 78h1M20 78h1M23 78h1M37 78h1M40 78h1M65 78h1M74 78h1M78 78h1M122 78h1M0 79h1M14 79h1M48 79h1M111 79h1M113 79h2M120 79h1M124 79h1M36 80h1M76 80h1M82 80h1M115 80h1M121 80h2M1 81h1M8 81h1M21 81h1M34 81h2M61 81h1M76 81h1M121 81h2M125 81h1M3 82h1M11 82h1M13 82h1M33 82h1M64 82h3M77 82h2M83 82h1M20 83h2M30 83h4M67 83h1M10 84h1M21 84h1M76 84h1M78 84h1M81 84h1M0 85h1M20 85h1M27 85h1M30 85h1M34 85h1M77 85h1M20 86h1M22 86h1M32 86h1M84 86h1M110 86h1M4 87h1M22 87h1M24 87h1M27 87h1M80 87h1M84 87h1M113 87h1M125 87h1M29 88h1M72 88h1M80 88h2M110 88h1M127 88h1M66 89h1M70 89h1M77 89h1M99 89h1M25 90h1M29 90h1M34 90h2M60 90h1M63 90h1M72 90h1M74 90h2M81 90h2M100 90h1M122 90h1M36 91h2M40 91h1M42 91h1M65 91h1M73 91h1M18 92h1M28 92h1M33 92h1M35 92h1M38 92h1M47 92h1M63 92h1M73 92h1M81 92h2M127 92h1M4 93h1M6 93h1M9 93h1M31 93h2M40 93h1M44 93h2M61 93h2M83 93h1M117 93h1M126 93h1M16 94h2M34 94h1M45 94h2M58 94h1M72 94h1M74 94h1M82 94h1M94 94h1M3 95h1M7 95h1M9 95h1M13 95h1M21 95h1M44 95h2M58 95h1M73 95h1M83 95h1M126 95h1M3 96h1M6 96h1M12 96h1M42 96h1M48 96h1M59 96h1M61 96h1M65 96h1M71 96h1M77 96h1M125 96h1M1 97h1M17 97h1M40 97h1M69 97h2M124 97h1M1 98h1M12 98h1M19 98h1M37 98h1M48 98h1M62 98h1M71 98h1M85 98h1M1 99h1M17 99h1M20 99h1M25 99h1M37 99h1M65 99h1M123 99h1M0 100h1M17 100h1M19 100h1M30 100h1M37 100h1M45 100h2M48 100h1M50 100h1M68 100h1M95 100h1M123 100h2M127 100h1M16 101h1M44 101h1M69 101h1M71 101h1M107 101h1M0 102h1M48 102h1M71 102h1M90 102h1M92 102h1M98 102h1M100 102h1M106 102h1M108 102h1M124 102h1M56 103h1M62 103h1M98 103h1M100 103h1M122 103h1M61 104h1M77 104h1M88 104h1M95 104h1M127 104h1M0 105h1M30 105h1M56 105h1M69 105h1M77 105h1M98 105h1M0 106h1M74 106h1M105 106h1M49 107h1M56 107h1M61 107h1M66 107h1M113 107h1M1 108h1M25 108h1M54 108h1M58 108h1M61 108h2M123 108h1M127 108h1M0 109h2M55 109h1M58 109h2M112 109h1M114 109h1M4 110h1M51 110h1M60 110h1M62 110h1M126 110h1M21 111h1M55 111h1M58 111h1M63 111h1M126 111h2M23 112h1M62 112h1M55 113h2M46 114h1M49 114h1M54 114h1M58 114h2M61 114h1M125 114h1M45 115h1M47 115h1M49 115h1M54 115h1M63 115h1M127 115h1M20 116h1M45 116h1M50 116h1M53 116h1M59 116h1M12 117h1M50 117h1M57 117h1M86 117h1M43 118h1M56 118h1M60 118h1M105 118h1M120 118h1M0 119h1M59 119h1M67 119h1M99 119h1M102 119h2M2 120h1M10 120h1M19 120h1M23 120h1M60 120h1M13 121h1M16 121h3M60 121h1M68 121h1M70 121h2M78 121h1M106 121h1M13 122h1M40 122h1M101 122h1M44 123h1M121 123h1M12 124h1M18 124h2M37 124h2M46 124h1M79 124h2M108 124h1M119 124h1M11 125h1M15 125h1M17 125h1M21 125h1M37 125h1M39 125h1M77 125h1M86 125h1M38 126h1M84 126h2M91 126h1M103 126h1M118 126h1M9 127h1M38 127h1M82 127h1M101 127h1M113 127h1"/><path stroke="#3349e4" d="M17 0h1M61 0h2M66 1h1M83 1h2M86 1h1M33 2h1M42 2h1M68 2h1M6 3h1M62 3h1M81 3h1M113 3h1M117 3h1M121 3h1M126 3h1M3 4h1M64 4h1M106 4h1M113 4h1M125 4h1M43 5h1M78 5h1M115 5h1M120 5h1M41 6h1M44 6h1M57 6h2M64 6h1M77 6h1M115 6h1M119 6h1M123 6h1M126 6h1M40 7h1M70 7h1M103 7h1M117 7h1M41 8h2M55 8h1M64 8h1M119 8h1M41 9h1M44 9h1M49 9h1M57 9h1M32 10h1M36 10h1M39 10h1M82 10h1M38 11h1M45 11h1M55 11h1M66 11h1M85 11h1M34 12h1M50 12h1M47 13h1M63 13h1M100 13h1M102 13h1M28 14h1M44 14h1M60 14h1M8 16h1M27 16h1M84 16h1M87 16h1M32 17h1M34 17h1M82 18h1M85 18h1M100 18h1M99 19h1M36 20h1M58 20h1M83 21h1M99 21h1M103 21h1M56 22h1M63 22h1M79 22h1M86 22h2M104 22h1M98 23h1M103 23h1M78 24h1M84 24h1M100 24h1M104 24h1M103 25h1M86 26h1M99 26h1M104 26h1M64 27h1M83 27h1M107 27h2M5 28h1M85 28h1M96 28h1M102 28h1M104 28h1M95 29h1M103 29h1M107 29h1M97 30h1M106 30h1M97 31h1M106 31h1M108 32h1M2 33h1M18 33h1M6 34h1M19 34h1M22 34h1M1 35h1M20 35h1M24 35h1M115 35h1M4 36h1M20 36h1M5 37h1M17 37h1M22 37h2M15 39h1M19 39h1M1 40h1M16 40h1M108 40h1M17 41h2M105 41h1M111 41h1M19 42h1M28 42h1M112 42h1M17 43h1M25 43h1M4 44h1M6 44h1M27 44h1M0 45h1M19 46h1M29 46h1M18 47h1M20 48h1M116 48h1M20 49h1M14 50h1M7 51h1M17 51h1M33 51h1M36 51h1M7 52h2M11 52h1M34 52h1M44 52h1M95 52h1M4 53h1M32 53h1M41 53h1M97 53h1M5 54h1M14 54h1M39 54h1M51 54h1M95 54h1M99 54h1M0 55h1M39 55h1M91 55h1M96 55h1M33 56h2M40 56h1M50 56h2M92 56h1M94 56h1M102 56h1M11 57h1M13 57h1M28 57h1M31 57h1M38 57h1M41 57h1M48 57h1M50 57h1M3 58h1M5 58h1M7 58h1M14 58h1M18 58h1M28 58h1M30 58h1M36 58h1M65 58h1M116 58h1M3 59h1M18 59h1M35 59h1M52 59h1M73 59h1M95 59h1M4 60h1M9 60h1M39 60h1M89 60h1M91 60h1M94 60h1M106 60h1M120 60h1M20 61h1M26 61h1M39 61h1M44 61h1M49 61h1M52 61h1M60 61h1M92 61h1M9 62h1M11 62h1M21 62h1M24 62h1M38 62h1M46 62h1M126 62h1M3 63h1M5 63h1M26 63h1M38 63h1M46 63h1M97 63h1M122 63h1M125 63h1M28 64h1M43 64h1M106 64h1M11 65h1M23 65h1M102 65h1M106 65h1M90 66h1M106 66h2M122 66h1M25 67h1M42 67h1M108 67h1M19 68h1M21 68h2M24 68h1M42 68h1M102 68h1M105 68h1M28 69h1M30 69h1M33 69h1M105 69h1M0 70h1M26 70h1M106 70h2M122 70h1M9 71h1M30 71h1M87 71h1M103 71h1M108 71h1M124 71h1M1 72h1M10 72h1M26 72h1M34 72h1M104 72h1M107 72h1M109 72h1M118 72h3M2 73h1M4 73h1M6 73h1M17 73h1M20 73h1M4 74h1M53 74h1M79 74h1M111 74h1M120 74h1M125 74h1M78 75h1M114 75h1M29 76h1M81 76h2M85 76h1M105 76h1M111 76h1M6 77h1M111 77h1M126 77h1M10 78h2M39 78h1M62 78h1M123 78h1M7 79h1M116 79h1M125 79h1M78 80h1M113 80h1M5 81h1M11 81h1M13 81h1M78 81h1M112 81h1M120 81h1M2 82h1M68 82h1M114 82h1M2 83h1M77 83h1M117 83h1M122 83h1M7 84h1M19 84h1M23 84h1M29 84h1M29 85h1M29 86h1M31 87h1M81 87h1M13 88h1M96 88h1M30 89h1M73 89h1M127 89h1M31 90h1M80 90h1M34 91h1M43 91h1M47 91h1M85 91h1M6 92h1M42 92h2M75 92h1M79 92h1M99 92h1M0 93h1M29 93h1M46 93h1M66 93h1M70 93h1M72 93h1M79 93h1M31 94h1M33 94h1M40 94h3M48 94h1M50 94h1M59 94h1M70 94h1M75 94h1M125 94h2M2 95h1M32 95h1M47 95h1M56 95h1M62 95h1M127 95h1M8 96h2M32 96h1M124 96h1M6 97h2M31 97h1M48 97h1M59 97h1M123 97h1M13 98h2M17 98h1M46 98h1M49 98h1M61 98h1M126 98h1M14 99h1M45 99h1M70 99h1M43 100h1M58 100h1M67 100h1M87 100h1M29 101h1M43 101h1M91 101h1M104 101h1M106 101h1M46 102h1M65 102h1M97 102h1M77 103h1M89 103h1M103 103h1M106 103h1M108 103h1M126 103h1M58 104h2M65 104h1M108 104h1M33 105h1M62 105h1M67 105h1M107 105h1M49 106h1M56 106h1M58 106h2M109 106h1M112 106h1M65 107h1M102 107h1M105 107h1M107 107h1M114 107h1M0 108h1M57 108h1M60 108h1M63 108h1M111 108h3M52 109h1M54 109h1M103 109h1M0 110h1M55 110h1M58 110h1M57 111h1M59 111h1M61 111h1M64 111h1M0 112h1M51 112h1M0 113h1M47 113h1M57 114h1M62 114h2M0 115h1M13 115h1M25 116h1M121 116h1M58 117h1M58 118h1M59 120h1M20 121h1M43 121h1M82 121h1M100 121h1M2 122h1M45 122h1M84 122h1M103 122h1M107 122h1M11 123h1M22 123h1M43 123h1M104 123h1M107 123h1M20 124h1M89 124h1M100 124h1M12 125h1M19 125h1M44 125h2M73 125h1M17 126h1M31 126h1M42 126h1M46 126h1M89 126h1M116 126h1M31 127h1M36 127h1M44 127h1M73 127h1M88 127h1"/><path stroke="#3385e4" d="M5 0h1M21 0h1M68 0h1M6 1h1M5 2h1M36 2h1M65 2h2M65 3h1M110 3h1M33 4h1M35 4h1M65 4h1M120 4h1M17 5h2M35 5h1M116 5h1M124 5h1M42 6h1M117 6h1M122 6h1M125 6h1M61 7h1M63 7h1M116 7h1M118 7h1M46 8h1M66 8h1M69 8h1M35 9h1M37 9h3M48 9h1M54 10h1M60 12h1M29 14h1M85 16h1M56 18h1M83 19h1M86 19h1M85 20h1M97 20h1M60 21h1M84 22h1M98 22h1M101 22h1M77 23h2M86 23h1M77 24h1M85 24h1M97 24h2M60 25h1M79 25h1M81 25h1M86 25h1M89 26h1M98 26h1M101 26h1M103 26h1M82 27h1M109 27h1M100 28h1M107 28h1M105 29h1M65 30h1M121 30h1M18 32h1M17 33h1M106 33h1M1 34h1M5 34h1M23 35h1M2 36h1M5 36h1M17 36h1M19 36h1M3 38h1M22 38h1M4 40h1M7 40h1M3 41h1M14 41h1M23 41h1M75 41h1M17 42h1M24 42h1M3 43h2M16 43h1M20 43h1M17 45h1M22 45h1M24 45h1M1 46h1M22 46h1M21 47h1M34 47h1M22 48h2M24 49h1M19 50h1M15 51h1M34 51h1M5 52h1M22 52h1M33 52h1M38 52h1M40 52h1M43 52h1M76 52h1M93 52h1M19 53h1M36 53h1M76 53h1M106 53h1M2 54h1M4 54h1M8 54h1M37 54h1M55 54h1M98 54h1M3 55h1M7 55h1M50 55h1M95 55h1M97 55h1M99 55h1M102 55h1M10 56h1M28 56h1M38 56h2M43 56h1M47 56h2M93 56h1M96 56h1M1 57h1M18 57h1M33 57h2M6 58h1M31 58h1M35 58h1M40 58h1M50 58h1M66 58h1M97 58h1M103 58h1M106 58h1M4 59h1M7 59h1M9 59h1M39 59h1M56 59h1M97 59h1M105 59h1M23 60h1M32 60h1M36 60h1M32 61h1M35 61h1M38 61h1M10 62h1M12 62h1M25 62h1M44 62h1M4 63h1M6 63h1M25 63h1M106 63h1M39 64h1M99 64h1M7 65h1M22 65h1M36 65h1M26 66h1M125 66h1M10 67h1M106 67h1M121 67h1M17 69h1M29 69h1M99 69h1M111 69h1M8 70h1M101 70h1M36 71h1M39 71h1M2 72h1M20 72h1M39 72h1M41 72h1M103 72h1M121 72h1M12 73h1M7 74h1M122 74h1M1 75h1M18 75h1M28 75h1M83 76h1M12 77h1M77 77h1M109 77h1M112 77h3M116 77h1M0 78h1M7 78h3M75 78h1M121 78h1M77 79h1M83 79h1M4 80h1M10 80h1M14 80h1M124 80h1M4 81h1M124 81h1M0 82h1M4 82h1M6 82h2M21 82h1M80 82h1M82 82h1M8 83h2M81 83h1M20 84h1M1 85h1M82 85h1M0 86h1M79 86h1M85 86h1M28 87h2M79 87h1M83 88h1M85 88h1M27 89h1M38 89h1M40 89h1M80 89h1M83 89h1M126 89h1M67 90h1M76 90h1M29 91h1M31 91h1M71 91h1M86 91h1M30 92h1M32 92h1M36 92h1M41 92h1M38 93h1M41 93h1M5 94h2M9 94h1M30 94h1M44 94h1M0 95h1M5 95h2M34 95h1M51 95h1M65 95h1M72 95h1M17 96h1M127 96h1M5 97h1M8 97h1M33 97h1M37 97h1M58 97h1M43 98h1M127 98h1M46 99h1M62 99h1M72 99h1M126 99h1M91 100h1M28 101h1M45 101h1M50 101h1M63 101h1M109 101h1M30 102h1M61 102h1M68 102h3M75 102h2M107 102h1M109 103h1M28 104h1M98 104h1M109 104h1M64 106h1M58 107h1M104 107h1M109 107h1M2 108h1M64 109h1M56 110h2M61 110h1M52 111h1M62 113h1M0 114h1M3 114h1M57 116h1M56 119h1M60 119h1M16 120h1M105 120h1M42 121h1M104 121h1M41 122h1M59 122h1M104 122h1M9 123h1M39 123h1M41 123h1M102 123h1M14 124h1M39 124h1M102 124h1M22 125h1M70 125h1M18 127h1M20 127h1M24 127h1M74 127h1M78 127h1M99 127h1"/><path stroke="#339de4" d="M3 0h2M7 0h1M65 1h1M85 2h1M116 2h1M21 3h1M83 3h1M114 3h1M127 3h1M18 4h1M82 4h1M21 5h1M33 5h1M65 5h1M80 5h1M37 6h1M39 8h2M51 8h1M43 9h1M33 10h1M52 10h1M86 13h1M31 14h1M46 14h2M30 16h1M30 17h1M109 17h1M34 18h1M36 18h1M104 18h1M36 19h1M88 19h1M100 20h1M59 21h1M85 21h1M98 21h1M100 22h1M104 25h1M85 26h1M105 26h1M103 28h1M105 30h1M19 32h1M16 33h1M20 33h1M6 35h1M18 35h1M22 35h1M7 36h1M19 37h1M19 38h1M23 38h1M5 39h1M17 40h1M26 40h1M1 41h2M5 41h1M20 41h1M22 41h1M2 42h1M111 42h1M1 43h1M29 43h1M2 44h2M16 44h1M20 44h1M2 45h1M5 46h1M20 46h1M30 46h1M23 47h1M2 49h1M18 49h1M18 51h1M37 52h1M80 52h1M34 53h1M38 53h1M31 54h1M33 54h1M35 54h1M10 55h1M33 55h1M35 55h3M6 56h1M29 56h1M37 56h1M0 57h1M8 57h1M35 57h1M97 57h1M10 58h1M19 58h1M41 58h1M8 59h1M17 59h1M37 59h1M119 59h1M10 60h1M35 60h1M37 60h1M93 60h1M9 61h1M22 61h1M31 61h1M40 61h1M47 61h1M23 62h1M27 62h1M45 62h1M101 62h1M9 63h1M39 63h1M9 64h1M127 64h1M8 65h1M39 65h1M25 66h1M8 67h1M104 67h1M19 69h1M88 69h1M25 70h1M2 71h1M11 71h1M90 71h1M112 71h1M28 72h1M87 72h1M7 73h1M18 73h1M29 73h1M109 73h1M1 74h1M8 74h1M17 74h1M29 74h1M0 75h1M19 75h1M17 76h1M110 76h1M113 76h2M0 77h1M112 78h1M114 78h1M124 78h1M5 79h1M121 79h1M8 80h1M11 80h1M2 81h1M9 81h1M36 81h1M123 81h1M5 82h1M10 82h1M79 82h1M0 83h1M5 83h1M82 83h1M0 84h1M30 84h1M79 84h2M21 85h1M28 85h1M78 85h2M30 86h1M83 86h1M82 87h1M82 88h1M84 88h1M86 88h1M38 90h1M32 91h1M41 91h1M29 92h1M44 92h2M68 93h1M116 93h1M4 94h1M7 94h1M35 94h1M39 94h1M7 96h1M16 98h1M47 98h1M18 100h1M44 100h1M66 100h1M45 102h1M62 102h1M109 102h1M30 103h1M95 103h1M105 103h1M107 103h1M29 104h1M105 104h1M29 105h1M57 105h1M68 105h1M101 105h1M106 105h1M1 106h1M63 106h1M57 107h1M62 107h1M74 107h1M111 107h1M59 108h1M114 108h1M51 109h1M59 110h1M54 113h1M60 114h1M64 114h1M64 115h1M19 119h1M58 119h1M105 119h1M107 120h1M102 121h2M102 122h1M38 123h1M11 124h1M40 124h2M44 124h1M43 125h1M114 125h1M11 126h2M14 126h1M16 126h1M18 126h1M70 126h1M82 126h1M16 127h2M39 127h1M81 127h1M83 127h1"/><path stroke="#33aee2" d="M6 0h1M62 1h1M63 2h2M114 2h1M19 3h1M85 3h1M36 4h1M38 5h1M117 5h1M43 6h1M34 7h1M36 7h1M40 10h1M85 14h1M111 14h1M46 15h1M31 17h1M81 23h1M79 24h1M81 26h1M97 26h1M103 27h1M27 33h1M24 34h1M7 35h1M21 36h2M21 37h1M24 37h2M6 40h1M18 40h1M22 40h1M24 40h1M18 42h1M25 42h1M0 44h1M22 44h1M18 46h1M21 46h1M94 51h1M37 53h1M92 54h1M11 56h1M30 56h1M41 56h1M7 57h1M32 57h1M96 57h1M33 58h1M38 58h1M42 58h1M51 58h1M5 59h2M10 59h1M12 59h2M38 59h1M63 59h1M5 60h3M33 60h1M38 60h1M25 61h1M93 61h1M8 63h1M40 63h1M37 64h1M105 64h1M104 65h1M41 66h1M108 66h1M123 66h1M20 68h1M32 69h1M87 70h1M88 71h1M123 72h1M0 74h1M83 75h1M110 75h2M6 79h1M78 79h1M122 79h1M7 80h1M1 83h1M3 83h1M7 83h1M78 83h1M1 84h1M88 88h1M32 89h1M81 89h1M30 90h1M79 91h1M62 92h1M65 92h1M39 93h1M63 94h1M116 94h1M127 94h1M1 95h1M4 95h1M0 96h1M2 96h1M125 97h1M44 98h1M63 100h1M126 100h1M61 101h1M88 101h1M98 101h1M67 102h1M99 102h1M67 103h1M107 104h1M59 107h2M56 109h1M0 111h1M54 111h1M58 115h1M103 124h1M14 125h1M15 126h1M23 126h1M39 126h1M41 126h1M44 126h1M80 126h2M83 126h1M15 127h1M40 127h1M42 127h2"/><path stroke="#33b6c9" d="M5 1h1M60 1h1M82 3h1M36 5h1M38 7h1M41 7h1M44 7h1M42 9h1M41 11h1M84 11h1M49 13h1M29 15h2M100 21h1M102 22h1M80 23h1M80 24h1M78 25h1M105 25h1M104 27h1M105 28h1M16 32h1M24 38h1M21 42h1M21 43h1M24 43h1M17 44h1M19 44h1M20 45h1M33 53h1M6 54h1M30 55h1M31 56h1M37 57h1M39 58h1M11 59h1M36 59h1M41 59h1M22 62h1M4 64h1M6 64h1M8 64h1M10 69h1M25 69h1M86 69h1M124 73h1M112 76h1M115 77h1M122 77h1M12 79h1M123 79h1M6 83h1M80 85h1M79 88h1M30 91h1M36 93h1M71 93h1M115 93h1M126 96h1M127 97h1M0 98h1M63 98h1M44 99h1M61 100h1M101 102h1M66 103h1M28 105h1M109 105h1M57 106h1M55 108h1M63 110h1M60 115h1M42 125h1M20 126h1M22 126h1M40 126h1M43 126h1M41 127h1M45 127h1"/><path stroke="#33bbb3" d="M84 2h1M20 4h1M114 4h1M34 5h1M119 7h1M36 8h1M97 27h1M23 36h1M0 41h1M16 41h1M19 41h1M1 42h1M22 42h2M2 43h1M18 43h1M23 43h1M1 44h1M18 44h1M23 45h1M22 47h1M33 48h1M5 49h1M20 50h1M19 52h1M31 55h1M35 56h1M36 57h1M32 58h1M34 59h1M12 60h1M41 61h1M10 63h1M7 64h1M89 70h1M12 80h1M7 81h1M81 86h1M30 87h1M31 89h1M7 93h1M5 96h1M68 103h2M55 107h1M65 109h1M57 121h1M42 122h1M18 125h1M24 125h1M38 125h1M82 125h1M13 126h1M19 126h1M10 127h1M12 127h1M22 127h1M70 127h1M80 127h1"/><path stroke="#33bba4" d="M63 1h1M83 4h1M119 5h1M36 6h1M35 7h1M39 7h1M37 8h1M44 8h1M102 21h1M106 27h1M21 39h1M21 40h1M1 45h1M34 54h1M34 55h1M2 56h1M8 60h1M5 61h1M37 65h1M6 80h1M79 83h1M80 86h1M30 88h1M31 92h1M43 93h1M1 96h1M124 98h1M1 107h1M56 108h1M42 124h1M23 125h1M41 125h1M79 127h1"/><path stroke="#33b56d" d="M64 0h2M16 39h1M5 42h1M19 45h1M19 51h1M30 57h1M37 58h1M7 62h1M38 64h1M0 73h1M8 79h1M81 85h1M71 92h1M74 93h1M0 107h1M105 121h1M81 124h1M80 125h2"/><path stroke="#33b033" d="M50 14h1M50 15h1M46 16h1M22 43h1M40 55h1M10 64h1M9 65h1M67 104h1M13 125h1M40 125h1"/><path stroke="#33c133" d="M105 27h1M0 42h1M18 45h1M7 61h1M30 104h1M40 123h1"/><path stroke="#33d033" d="M84 23h1M21 44h1M23 46h1M16 125h1M14 127h1"/><path stroke="#33e133" d="M48 14h1M47 15h1M0 43h1"/><path stroke="#33f233" d="M47 16h1"/><path stroke="#4aff33" d="M49 14h1"/><path stroke="#9dff33" d="M21 127h1"/><path stroke="#f0f233" d="M49 16h1"/><path stroke="#fe3333" d="M48 16h1"/><path stroke="#d67d7d" d="M49 15h1"/><path stroke="#d6d6d6" d="M48 15h1"/></g>
<defs><pattern id="gr" x="1323.5" y="557.8" width="6.9086" height="6.8609" patternUnits="userSpaceOnUse"><path d="M0 0H6.909M0 0V6.909" stroke="#000" stroke-opacity="0.22" stroke-width="1.2" fill="none"/></pattern></defs>
<rect x="1323.5" y="557.8" width="884.3" height="878.2" fill="url(#gr)"/>
<rect x="1413" y="1323" width="220" height="37.5" fill="#fff"/><text x="1523" y="1414" font-size="46.5" text-anchor="middle" font-weight="bold" font-family="'Liberation Sans','DejaVu Sans',sans-serif" fill="#fff">20 µm</text>
<defs><linearGradient id="cbb" x1="0" y1="0" x2="0" y2="1"><stop offset="0.00" stop-color="#d6d6d6"/><stop offset="0.01" stop-color="#d6bdbd"/><stop offset="0.02" stop-color="#d69696"/><stop offset="0.03" stop-color="#d67d7d"/><stop offset="0.04" stop-color="#d65656"/><stop offset="0.05" stop-color="#d63d3d"/><stop offset="0.06" stop-color="#d93333"/><stop offset="0.07" stop-color="#db3333"/><stop offset="0.08" stop-color="#de3333"/><stop offset="0.09" stop-color="#e13333"/><stop offset="0.10" stop-color="#e33333"/><stop offset="0.11" stop-color="#e93333"/><stop offset="0.12" stop-color="#ed3333"/><stop offset="0.13" stop-color="#f43333"/><stop offset="0.14" stop-color="#f83333"/><stop offset="0.15" stop-color="#fe3333"/><stop offset="0.16" stop-color="#ff4433"/><stop offset="0.17" stop-color="#ff6133"/><stop offset="0.18" stop-color="#ff7d33"/><stop offset="0.19" stop-color="#ff9133"/><stop offset="0.20" stop-color="#ffad33"/><stop offset="0.21" stop-color="#ffb433"/><stop offset="0.22" stop-color="#ffbd33"/><stop offset="0.23" stop-color="#ffc433"/><stop offset="0.24" stop-color="#ffcd33"/><stop offset="0.25" stop-color="#ffd433"/><stop offset="0.26" stop-color="#fddb33"/><stop offset="0.27" stop-color="#f9e133"/><stop offset="0.28" stop-color="#f7e633"/><stop offset="0.29" stop-color="#f4ec33"/><stop offset="0.30" stop-color="#f2f033"/><stop offset="0.31" stop-color="#e9f433"/><stop offset="0.32" stop-color="#e3f633"/><stop offset="0.33" stop-color="#d9f933"/><stop offset="0.34" stop-color="#d0fd33"/><stop offset="0.35" stop-color="#c9ff33"/><stop offset="0.36" stop-color="#a8ff33"/><stop offset="0.37" stop-color="#91ff33"/><stop offset="0.38" stop-color="#6eff33"/><stop offset="0.39" stop-color="#56ff33"/><stop offset="0.40" stop-color="#33ff33"/><stop offset="0.41" stop-color="#33fb33"/><stop offset="0.42" stop-color="#33f433"/><stop offset="0.43" stop-color="#33ee33"/><stop offset="0.44" stop-color="#33ea33"/><stop offset="0.45" stop-color="#33e333"/><stop offset="0.46" stop-color="#33df33"/><stop offset="0.47" stop-color="#33d933"/><stop offset="0.48" stop-color="#33d433"/><stop offset="0.49" stop-color="#33ce33"/><stop offset="0.50" stop-color="#33ca33"/><stop offset="0.51" stop-color="#33c333"/><stop offset="0.52" stop-color="#33bd33"/><stop offset="0.53" stop-color="#33b933"/><stop offset="0.54" stop-color="#33b233"/><stop offset="0.55" stop-color="#33ae33"/><stop offset="0.56" stop-color="#33b04a"/><stop offset="0.57" stop-color="#33b25c"/><stop offset="0.58" stop-color="#33b675"/><stop offset="0.59" stop-color="#33b98f"/><stop offset="0.60" stop-color="#33bba0"/><stop offset="0.61" stop-color="#33bba6"/><stop offset="0.62" stop-color="#33bbaa"/><stop offset="0.63" stop-color="#33bbb1"/><stop offset="0.64" stop-color="#33bbb5"/><stop offset="0.65" stop-color="#33bbbc"/><stop offset="0.66" stop-color="#33b9c2"/><stop offset="0.67" stop-color="#33b5cc"/><stop offset="0.68" stop-color="#33b2d5"/><stop offset="0.69" stop-color="#33b0dc"/><stop offset="0.70" stop-color="#33ace4"/><stop offset="0.71" stop-color="#33a8e4"/><stop offset="0.72" stop-color="#33a2e4"/><stop offset="0.73" stop-color="#339de4"/><stop offset="0.74" stop-color="#3397e4"/><stop offset="0.75" stop-color="#3393e4"/><stop offset="0.76" stop-color="#337ee4"/><stop offset="0.77" stop-color="#3367e4"/><stop offset="0.78" stop-color="#3358e4"/><stop offset="0.79" stop-color="#3342e4"/><stop offset="0.80" stop-color="#3333e4"/><stop offset="0.81" stop-color="#3333da"/><stop offset="0.82" stop-color="#3333d4"/><stop offset="0.83" stop-color="#3333ca"/><stop offset="0.84" stop-color="#3333c1"/><stop offset="0.85" stop-color="#3533bb"/><stop offset="0.86" stop-color="#4f33b8"/><stop offset="0.87" stop-color="#6033b5"/><stop offset="0.88" stop-color="#7933b2"/><stop offset="0.89" stop-color="#8a33b0"/><stop offset="0.90" stop-color="#9f33ad"/><stop offset="0.91" stop-color="#9d33ab"/><stop offset="0.92" stop-color="#9a33a8"/><stop offset="0.93" stop-color="#9733a4"/><stop offset="0.94" stop-color="#9533a2"/><stop offset="0.95" stop-color="#8d3399"/><stop offset="0.96" stop-color="#7e3388"/><stop offset="0.97" stop-color="#67336f"/><stop offset="0.98" stop-color="#58335e"/><stop offset="0.99" stop-color="#423344"/><stop offset="1.00" stop-color="#333333"/></linearGradient></defs>
<rect x="2264" y="557.8" width="43" height="878.2" fill="url(#cbb)"/>
<line x1="2307" y1="1436" x2="2323.5" y2="1436" stroke="#000" stroke-width="3.3"/>
<text x="2339.5" y="1453" font-size="46.2">0</text>
<line x1="2307" y1="1302.9" x2="2323.5" y2="1302.9" stroke="#000" stroke-width="3.3"/>
<text x="2339.5" y="1319.9" font-size="46.2">5</text>
<line x1="2307" y1="1169.9" x2="2323.5" y2="1169.9" stroke="#000" stroke-width="3.3"/>
<text x="2339.5" y="1186.9" font-size="46.2">10</text>
<line x1="2307" y1="1036.8" x2="2323.5" y2="1036.8" stroke="#000" stroke-width="3.3"/>
<text x="2339.5" y="1053.8" font-size="46.2">15</text>
<line x1="2307" y1="903.8" x2="2323.5" y2="903.8" stroke="#000" stroke-width="3.3"/>
<text x="2339.5" y="920.8" font-size="46.2">20</text>
<line x1="2307" y1="770.7" x2="2323.5" y2="770.7" stroke="#000" stroke-width="3.3"/>
<text x="2339.5" y="787.7" font-size="46.2">25</text>
<line x1="2307" y1="637.6" x2="2323.5" y2="637.6" stroke="#000" stroke-width="3.3"/>
<text x="2339.5" y="654.6" font-size="46.2">30</text>
<text x="2454" y="998" font-size="46.3" text-anchor="middle" transform="rotate(-90 2454 998)">P.L. Intensity (A.U.)</text>
</g>
<g id="plots">
<defs><marker id="st" markerUnits="userSpaceOnUse" markerWidth="30" markerHeight="30" refX="0" refY="0" viewBox="-15 -15 30 30" orient="0" overflow="visible"><path d="M0 -10.4L2.33 -3.21L9.89 -3.21L3.78 1.23L6.11 8.41L0 3.97L-6.11 8.41L-3.78 1.23L-9.89 -3.21L-2.33 -3.21Z" fill="#4169e1" stroke="#4169e1" stroke-width="2.4" stroke-linejoin="bevel"/></marker></defs>
<text x="59" y="1561.3" font-size="68.75">(c)</text>
<clipPath id="cpc"><rect x="205.4" y="1575.7" width="968.6" height="472.3"/></clipPath><g clip-path="url(#cpc)"><polyline points="206.2,1846.6 207.9,1762.6 209.7,1661.9 213.5,1610.8 217.3,1602.8 220.2,1609 223,1615.9 225.9,1622.1 228.8,1628.3 231.6,1634.8 234.5,1641 237.4,1647.3 240.2,1653.1 243.1,1659.3 246,1664.5 248.8,1670.5 251.7,1676.1 254.6,1681.2 257.4,1686.8 260.3,1691.6 263.2,1696 266,1700.6 268.9,1705.4 271.8,1710.1 274.6,1713.4 277.5,1717.3 280.4,1721.6 283.2,1724.7 286.1,1727.6 289,1731.5 291.8,1734.5 294.7,1738.6 297.6,1740.4 300.4,1742.6 303.3,1745.8 306.2,1749.2 309,1751.2 311.9,1756.2 314.8,1758 317.6,1759.3 320.5,1761.7 323.4,1762.2 326.2,1764.9 329.1,1764.9 332,1766.5 334.8,1768.2 337.7,1769.3 340.6,1771 343.4,1772.5 346.3,1773.8 349.2,1773.9 352,1777.2 354.9,1777.6 357.8,1776.3 360.6,1779.9 363.5,1780.5 366.4,1781.3 369.2,1782.3 372.1,1782.5 375,1783.1 377.8,1785.6 380.7,1787.6 383.6,1788.3 386.4,1788.1 389.3,1789.7 392.2,1789.4 395,1792.9 397.9,1792.6 400.8,1793.9 403.6,1791.1 406.5,1796.8 409.4,1796.5 412.2,1796.5 415.1,1799.7 418,1797.5 420.8,1799 423.7,1803.8 426.6,1802.6 429.4,1798.2 432.3,1802.6 435.2,1804.4 438,1804.2 440.9,1803.2 443.8,1805.7 446.6,1805.7 449.5,1806.3 452.4,1807.4 455.2,1807.5 458.1,1807 461,1809 463.8,1807.7 466.7,1810.9 469.6,1811.2 472.4,1812.2 475.3,1812.4 478.2,1812.8 481,1815.5 483.9,1818.3 486.8,1822.5 489.6,1822.4 492.5,1817.3 495.4,1822.9 498.2,1821.1 501.1,1822.9 504,1822.2 506.8,1822.2 509.7,1825.7 512.5,1827.6 515.4,1828.9 518.3,1830.2 521.1,1824.4 524,1832 526.9,1825.8 529.7,1830.5 532.6,1828.8 535.5,1830.2 538.3,1832.9 541.2,1831.8 544.1,1832.7 546.9,1833.9 549.8,1836.7 552.7,1836.5 555.5,1834.3 558.4,1832.7 561.3,1832.5 564.1,1834.1 567,1833.1 569.9,1837.2 572.7,1842 575.6,1834.7 578.5,1842 581.3,1845 584.2,1834.9 587.1,1843.7 589.9,1840.1 592.8,1850.7 595.7,1841 598.5,1844 601.4,1844.8 604.3,1846.1 607.1,1843 610,1856.1 612.9,1850.1 615.7,1849.8 618.6,1851.4 621.5,1848.3 624.3,1847.5 627.2,1852.3 630.1,1852.6 632.9,1855.4 635.8,1861.9 638.7,1855.4 641.5,1851.1 644.4,1848.6 647.3,1856.4 650.1,1859.8 653,1854 655.9,1857.5 658.7,1862.3 661.6,1853.3 664.5,1857.5 667.3,1854.7 670.2,1859 673.1,1861.9 675.9,1864 678.8,1855.7 681.7,1858.3 684.5,1858.3 687.4,1868.7 690.3,1868.7 693.1,1874.8 696,1859.8 698.9,1870.3 701.7,1864 704.6,1867.8 707.5,1870.3 710.3,1879.9 713.2,1868.2 716.1,1868.7 718.9,1874.2 721.8,1874.2 724.7,1868.2 727.5,1877.9 730.4,1875.4 733.3,1878.5 736.1,1874.8 739,1877.2 741.9,1873 744.7,1879.9 747.6,1887.4 750.5,1888.3 753.3,1873 756.2,1877.2 759.1,1882.7 761.9,1880.5 764.8,1882.7 767.7,1876 770.5,1879.2 773.4,1879.2 776.3,1879.2 779.1,1870.8 782,1883.4 784.9,1884.2 787.7,1879.9 790.6,1892.8 793.5,1882 796.3,1879.2 799.2,1890 802.1,1900.3 804.9,1885 807.8,1884.2 810.7,1890 813.5,1889.1 816.4,1877.9 819.3,1886.6 822.1,1885 825,1885.8 827.9,1889.1 830.7,1882.7 833.6,1885.8 836.5,1892.8 839.3,1898 842.2,1887.4 845.1,1890 847.9,1889.1 850.8,1882 853.7,1894.8 856.5,1890 859.4,1904.1 862.3,1909.7 865.1,1896.9 868,1894.8 870.9,1904.1 873.7,1904.1 876.6,1895.8 879.5,1890.9 882.3,1904.1 885.2,1902.8 888.1,1906.8 890.9,1911.3 893.8,1888.3 896.7,1894.8 899.5,1896.9 902.4,1904.1 905.3,1899.1 908.1,1900.3 911,1893.8 913.9,1900.3 916.7,1898 919.6,1902.8 922.5,1905.4 925.3,1898 928.2,1902.8 931.1,1912.9 933.9,1899.1 936.8,1900.3 939.7,1904.1 942.5,1908.2 945.4,1912.9 948.3,1922.4 951.1,1900.3 954,1912.9 956.9,1906.8 959.7,1898 962.6,1898 965.5,1906.8 968.3,1904.1 971.2,1906.8 974.1,1906.8 976.9,1908.2 979.8,1918.3 982.7,1912.9 985.5,1909.7 988.4,1912.9 991.3,1902.8 994.1,1916.5 997,1906.8 999.9,1908.2 1002.7,1914.7 1005.6,1905.4 1008.5,1916.5 1011.3,1922.4 1014.2,1914.7 1017.1,1898 1019.9,1924.7 1022.8,1918.3 1025.7,1924.7 1028.5,1902.8 1031.4,1918.3 1034.3,1927.1 1037.1,1924.7 1040,1922.4 1042.9,1918.3 1045.7,1927.1 1048.6,1916.5 1051.5,1922.4 1054.3,1935.3 1057.2,1900.3 1060.1,1932.3 1062.9,1905.4 1065.8,1901.5 1068.7,1920.3 1071.5,1924.7 1074.4,1938.5 1077.2,1918.3 1080.1,1911.3 1083,1918.3 1085.8,1922.4 1088.7,1942 1091.6,1935.3 1094.4,1920.3 1097.3,1932.3 1100.2,1938.5 1103,1920.3 1105.9,1935.3 1108.8,1924.7 1111.6,1916.5 1114.5,1924.7 1117.4,1912.9 1120.2,1914.7 1123.1,1922.4 1126,1924.7 1128.8,1927.1 1131.7,1914.7 1134.6,1935.3 1137.4,1935.3 1140.3,1938.5 1143.2,1938.5 1146,1924.7 1148.9,1929.6 1151.8,1924.7 1154.6,1942 1157.5,1922.4 1160.4,1929.6 1163.2,1924.7 1166.1,1929.6 1169,1960.8 1171.8,1938.5" fill="none" stroke="#4169e1" stroke-opacity="0.55" stroke-width="0.7" marker-start="url(#st)" marker-mid="url(#st)" marker-end="url(#st)"/></g>
<path d="M205.4 1575.7V2048H1174.1" fill="none" stroke="#000" stroke-width="3.2" stroke-linecap="square"/>
<line x1="217.3" y1="2048" x2="217.3" y2="2069.5" stroke="#000" stroke-width="6"/><text x="217.3" y="2119.1" font-size="50" text-anchor="middle">0</text><line x1="535.8" y1="2048" x2="535.8" y2="2069.5" stroke="#000" stroke-width="6"/><text x="535.8" y="2119.1" font-size="50" text-anchor="middle">5</text><line x1="854.3" y1="2048" x2="854.3" y2="2069.5" stroke="#000" stroke-width="6"/><text x="854.3" y="2119.1" font-size="50" text-anchor="middle">10</text><line x1="1172.8" y1="2048" x2="1172.8" y2="2069.5" stroke="#000" stroke-width="6"/><text x="1172.8" y="2119.1" font-size="50" text-anchor="middle">15</text>
<line x1="183.9" y1="1602.6" x2="205.4" y2="1602.6" stroke="#000" stroke-width="6"/><text x="173.4" y="1604.6" font-size="35" text-anchor="end">5</text><text x="148.6" y="1622.8" font-size="50" text-anchor="end">10</text><line x1="183.9" y1="1772.3" x2="205.4" y2="1772.3" stroke="#000" stroke-width="6"/><text x="173.4" y="1774.3" font-size="35" text-anchor="end">3</text><text x="148.6" y="1792.5" font-size="50" text-anchor="end">10</text><line x1="183.9" y1="1942" x2="205.4" y2="1942" stroke="#000" stroke-width="6"/><text x="173.4" y="1944" font-size="35" text-anchor="end">1</text><text x="148.6" y="1962.2" font-size="50" text-anchor="end">10</text>
<text x="687.5" y="2183.7" font-size="51.2" text-anchor="middle">Time (ns)</text>
<text x="63" y="1817" font-size="51.2" text-anchor="middle" transform="rotate(-90 63 1817)">ln(Intensity)</text>
<text x="1279" y="1583.3" font-size="68.75">(d)</text>
<clipPath id="cpd"><rect x="1426.6" y="1575.7" width="967.9" height="472.3"/></clipPath><g clip-path="url(#cpd)"><polyline points="1425,1935.6 1428.5,1824.5 1432,1684.3 1435.5,1609.5 1439,1602 1442.5,1608 1446,1615.7 1449.5,1621 1453,1629.2 1456.5,1636.5 1460,1642.9 1463.5,1650.9 1467,1655.9 1470.5,1662.8 1474,1668.3 1477.5,1674.5 1481,1679.1 1484.5,1685.8 1488,1688.2 1491.5,1696.2 1495,1699.3 1498.5,1702.7 1502,1711.1 1505.5,1711.4 1509,1716 1512.5,1723.5 1516,1722.8 1519.5,1721.8 1523,1726.2 1526.5,1728.3 1529.9,1732.7 1533.4,1735.5 1536.9,1729.4 1540.4,1738.2 1543.9,1738.2 1547.4,1748.5 1550.9,1745.8 1554.4,1751.6 1557.9,1750 1561.4,1748.3 1564.9,1754.5 1568.4,1758.7 1571.9,1761 1575.4,1765.6 1578.9,1779.8 1582.4,1769.7 1585.9,1766.7 1589.4,1773.2 1592.9,1778.3 1596.4,1774.5 1599.9,1781.7 1603.4,1778.3 1606.9,1781 1610.4,1790.6 1613.9,1793 1617.4,1780.2 1620.9,1794.5 1624.4,1783.7 1627.9,1796 1631.4,1794.5 1634.9,1800.9 1638.4,1802.7 1641.9,1813.8 1645.4,1803.2 1648.9,1809.6 1652.4,1803.2 1655.9,1811 1659.4,1815.3 1662.9,1816.1 1666.4,1805.7 1669.9,1811.7 1673.4,1813.8 1676.9,1817.7 1680.4,1816.1 1683.9,1835.7 1687.4,1819.3 1690.9,1816.9 1694.4,1821.8 1697.9,1821.8 1701.3,1864 1704.8,1841.7 1708.3,1845.7 1711.8,1847.2 1715.3,1825.4 1718.8,1832.4 1722.3,1839.2 1725.8,1841.7 1729.3,1835.7 1732.8,1851.7 1736.3,1862.1 1739.8,1841.7 1743.3,1841.7 1746.8,1866.1 1750.3,1843 1753.8,1853.2 1757.3,1853.2 1760.8,1853.2 1764.3,1864 1767.8,1872.8 1771.3,1856.6 1774.8,1860.2 1778.3,1866.1 1781.8,1864 1785.3,1883.4 1788.8,1883.4 1792.3,1858.4 1795.8,1877.8 1799.3,1886.4 1802.8,1883.4 1806.3,1875.2 1809.8,1905.2 1813.3,1900.9 1816.8,1905.2 1820.3,1870.5 1823.8,1896.8 1827.3,1886.4 1830.8,1896.8 1834.3,1900.9 1837.8,1889.7 1841.3,1935.6 1844.8,1886.4 1848.3,1905.2 1851.8,1921.2 1855.3,1883.4 1858.8,1883.4 1862.3,1889.7 1865.8,1886.4 1869.3,1886.4 1872.8,1900.9 1876.2,1896.8 1879.7,1896.8 1883.2,1905.2 1886.7,1880.5 1890.2,1893.1 1893.7,1880.5 1897.2,1927.9 1900.7,1900.9 1904.2,1896.8 1907.7,1886.4 1911.2,1927.9 1914.7,1921.2 1918.2,1921.2 1921.7,1915.3 1925.2,1910 1928.7,1900.9 1932.2,1910 1935.7,1889.7 1939.2,1921.2 1942.7,1927.9 1946.2,1905.2 1949.7,1896.8 1953.2,1900.9 1956.7,1915.3 1960.2,1915.3 1963.7,1915.3 1967.2,1927.9 1970.7,1915.3 1974.2,1956 1977.7,1944.8 1981.2,1910 1984.7,1956 1988.2,1970.4 1991.7,1970.4 1995.2,1956 1998.7,1921.2 2002.2,1927.9 2005.7,1927.9 2009.2,1956 2012.7,1935.6 2016.2,1970.4 2019.7,1935.6 2023.2,1944.8 2026.7,1956 2030.2,1970.4 2033.7,1944.8 2037.2,1921.2 2040.7,1970.4 2044.2,1927.9 2047.7,1990.7 2051.2,1970.4 2054.6,1935.6 2058.1,1990.7 2061.6,1935.6 2065.1,1956 2068.6,1944.8 2072.1,1990.7 2075.6,1915.3 2079.1,1956 2082.6,1944.8 2086.1,1956 2089.6,1956 2093.1,1956 2096.6,1970.4 2100.1,1944.8 2103.6,1935.6 2107.1,1944.8 2110.6,1990.7 2114.1,1970.4 2117.6,1990.7 2121.1,1935.6 2124.6,1956 2128.1,1935.6 2131.6,1944.8 2135.1,1956 2138.6,1956 2142.1,1921.2 2145.6,1921.2 2149.1,1956 2152.6,1935.6 2156.1,1944.8 2159.6,1944.8 2163.1,1944.8 2166.6,1990.7 2170.1,1970.4 2173.6,1944.8 2177.1,1944.8 2180.6,1990.7 2184.1,1990.7 2187.6,1990.7 2191.1,1990.7 2194.6,1956 2198.1,2025.5 2201.6,2025.5 2205.1,1990.7 2208.6,1970.4 2212.1,1970.4 2215.6,1990.7 2219.1,1944.8 2222.6,1990.7 2226.1,1944.8 2229.5,1944.8 2233,2025.5 2236.5,1970.4 2240,1944.8 2243.5,2025.5 2247,1990.7 2250.5,1944.8 2254,1970.4 2257.5,1956 2261,1956 2264.5,2025.5 2268,2025.5 2271.5,2025.5 2275,1970.4 2278.5,1956 2282,1956 2285.5,1956 2289,1970.4 2292.5,2025.5 2296,1990.7 2299.5,1935.6 2303,1956 2306.5,1990.7 2310,1970.4 2313.5,2108 2317,2025.5 2320.5,1990.7 2324,1990.7 2327.5,1990.7 2331,1970.4 2334.5,1944.8 2338,1990.7 2341.5,1990.7 2345,2025.5 2348.5,2025.5 2352,1990.7 2355.5,1970.4 2359,1956 2362.5,2025.5 2366,1970.4 2369.5,1944.8 2373,1944.8 2376.5,1990.7 2380,1956 2383.5,1990.7 2387,2025.5 2390.5,1990.7" fill="none" stroke="#4169e1" stroke-opacity="0.55" stroke-width="0.7" marker-start="url(#st)" marker-mid="url(#st)" marker-end="url(#st)"/></g>
<path d="M1426.6 1575.7V2048H2394.6" fill="none" stroke="#000" stroke-width="3.2" stroke-linecap="square"/>
<line x1="1439" y1="2048" x2="1439" y2="2069.5" stroke="#000" stroke-width="6"/><text x="1439" y="2119.1" font-size="50" text-anchor="middle">0</text><line x1="1757" y1="2048" x2="1757" y2="2069.5" stroke="#000" stroke-width="6"/><text x="1757" y="2119.1" font-size="50" text-anchor="middle">5</text><line x1="2075" y1="2048" x2="2075" y2="2069.5" stroke="#000" stroke-width="6"/><text x="2075" y="2119.1" font-size="50" text-anchor="middle">10</text><line x1="2393" y1="2048" x2="2393" y2="2069.5" stroke="#000" stroke-width="6"/><text x="2393" y="2119.1" font-size="50" text-anchor="middle">15</text>
<line x1="1405.1" y1="1679" x2="1426.6" y2="1679" stroke="#000" stroke-width="6"/><text x="1394.6" y="1681" font-size="35" text-anchor="end">3</text><text x="1369.8" y="1699.2" font-size="50" text-anchor="end">10</text><line x1="1405.1" y1="1910" x2="1426.6" y2="1910" stroke="#000" stroke-width="6"/><text x="1394.6" y="1912" font-size="35" text-anchor="end">1</text><text x="1369.8" y="1930.2" font-size="50" text-anchor="end">10</text>
<text x="1909.5" y="2183.7" font-size="51.2" text-anchor="middle">Time (ns)</text>
<text x="1285" y="1817" font-size="51.2" text-anchor="middle" transform="rotate(-90 1285 1817)">ln(Intensity)</text>
<text x="58.5" y="2288" font-size="68.75">(e)</text>
<g fill="#ff0000" fill-opacity="0.9" stroke="#fff" stroke-width="2" stroke-opacity="0.95"><rect x="205" y="2784.89" width="9.58" height="7.51"/><rect x="216.12" y="2736.26" width="22.63" height="56.14"/><rect x="239.53" y="2326.5" width="27.66" height="465.9"/><rect x="263.71" y="2550.86" width="27.66" height="241.54"/><rect x="287.89" y="2696.43" width="27.66" height="95.97"/><rect x="312.07" y="2755.9" width="27.66" height="36.5"/></g>
<g fill="#228b22" fill-opacity="1.0" stroke="#fff" stroke-width="2" stroke-opacity="0.95"><rect x="264.48" y="2786.6" width="22.63" height="5.8"/><rect x="288.66" y="2783.17" width="22.63" height="9.23"/><rect x="312.84" y="2782.2" width="22.63" height="10.2"/><rect x="337.02" y="2782.2" width="22.63" height="10.2"/><rect x="361.2" y="2781.24" width="22.63" height="11.16"/><rect x="385.38" y="2778.1" width="22.63" height="14.3"/><rect x="409.56" y="2776.08" width="22.63" height="16.32"/><rect x="433.74" y="2772" width="22.63" height="20.4"/><rect x="457.92" y="2767.92" width="22.63" height="24.48"/><rect x="482.1" y="2764.17" width="22.63" height="28.23"/><rect x="506.28" y="2760.41" width="22.63" height="31.99"/><rect x="530.46" y="2758.05" width="22.63" height="34.35"/><rect x="553.87" y="2755.69" width="27.66" height="36.71"/><rect x="578.05" y="2754.61" width="27.66" height="37.79"/><rect x="602.23" y="2756.33" width="27.66" height="36.07"/><rect x="626.41" y="2757.4" width="27.66" height="35"/><rect x="650.59" y="2760.41" width="27.66" height="31.99"/><rect x="674.77" y="2763.42" width="27.66" height="28.98"/><rect x="699.72" y="2767.92" width="22.63" height="24.48"/><rect x="723.9" y="2770.93" width="22.63" height="21.47"/><rect x="748.08" y="2773.72" width="22.63" height="18.68"/><rect x="772.26" y="2778.1" width="22.63" height="14.3"/><rect x="796.44" y="2780.38" width="22.63" height="12.02"/><rect x="820.62" y="2782.52" width="22.63" height="9.88"/><rect x="844.8" y="2784.67" width="22.63" height="7.73"/><rect x="868.98" y="2786.39" width="22.63" height="6.01"/><rect x="893.16" y="2787.46" width="22.63" height="4.94"/><rect x="917.34" y="2788.54" width="22.63" height="3.86"/><rect x="941.52" y="2789.39" width="22.63" height="3.01"/><rect x="965.7" y="2790.04" width="22.63" height="2.36"/><rect x="989.88" y="2790.68" width="22.63" height="1.72"/><rect x="1014.06" y="2791.33" width="22.63" height="1.07"/><rect x="1038.24" y="2791.76" width="22.63" height="0.64"/></g>
<path d="M205 2319V2792.4H1173.9" fill="none" stroke="#000" stroke-width="3.4" stroke-linecap="square"/>
<line x1="205" y1="2792.4" x2="205" y2="2813.9" stroke="#000" stroke-width="6"/><text x="205" y="2861.3" font-size="50" text-anchor="middle">0</text><line x1="398.4" y1="2792.4" x2="398.4" y2="2813.9" stroke="#000" stroke-width="6"/><text x="398.4" y="2861.3" font-size="50" text-anchor="middle">1</text><line x1="591.9" y1="2792.4" x2="591.9" y2="2813.9" stroke="#000" stroke-width="6"/><text x="591.9" y="2861.3" font-size="50" text-anchor="middle">2</text><line x1="785.3" y1="2792.4" x2="785.3" y2="2813.9" stroke="#000" stroke-width="6"/><text x="785.3" y="2861.3" font-size="50" text-anchor="middle">3</text><line x1="978.8" y1="2792.4" x2="978.8" y2="2813.9" stroke="#000" stroke-width="6"/><text x="978.8" y="2861.3" font-size="50" text-anchor="middle">4</text><line x1="1172.2" y1="2792.4" x2="1172.2" y2="2813.9" stroke="#000" stroke-width="6"/><text x="1172.2" y="2861.3" font-size="50" text-anchor="middle">5</text>
<line x1="183.5" y1="2792.4" x2="205" y2="2792.4" stroke="#000" stroke-width="6"/><text x="171.5" y="2811.1" font-size="50" text-anchor="end">0</text><line x1="183.5" y1="2577.7" x2="205" y2="2577.7" stroke="#000" stroke-width="6"/><text x="171.5" y="2596.4" font-size="50" text-anchor="end">1</text><line x1="183.5" y1="2363" x2="205" y2="2363" stroke="#000" stroke-width="6"/><text x="171.5" y="2381.7" font-size="50" text-anchor="end">2</text>
<text x="683.5" y="2925.6" font-size="51.2" text-anchor="middle">Lifetime (ns)</text>
<text font-size="51.2" text-anchor="middle" transform="translate(111 2555.5) rotate(-90)">N Events x10<tspan font-size="35.8" dy="-18.5">6</tspan></text>
<text x="1290.5" y="2286" font-size="68.75">(f)</text>
<g fill="#9acd32" fill-opacity="0.9" stroke="#fff" stroke-width="2" stroke-opacity="0.95"><rect x="1461.57" y="2784.03" width="22.61" height="8.37"/><rect x="1485.73" y="2762.5" width="22.61" height="29.9"/><rect x="1509.88" y="2688.95" width="22.61" height="103.45"/><rect x="1534.04" y="2625.56" width="22.61" height="166.84"/><rect x="1558.2" y="2557.98" width="22.61" height="234.42"/><rect x="1582.36" y="2498.18" width="22.61" height="294.22"/><rect x="1606.51" y="2455.13" width="22.61" height="337.27"/><rect x="1630.67" y="2437.79" width="22.61" height="354.61"/><rect x="1654.83" y="2418.65" width="22.61" height="373.75"/><rect x="1678.21" y="2421.04" width="27.64" height="371.36"/><rect x="1702.37" y="2440.78" width="27.64" height="351.62"/><rect x="1727.3" y="2483.83" width="22.61" height="308.57"/><rect x="1751.46" y="2485.93" width="22.61" height="306.48"/><rect x="1774.84" y="2583.1" width="27.64" height="209.3"/><rect x="1799" y="2635.72" width="27.64" height="156.68"/><rect x="1823.16" y="2663.83" width="27.64" height="128.57"/><rect x="1847.32" y="2691.94" width="27.64" height="100.46"/><rect x="1871.47" y="2717.05" width="27.64" height="75.35"/><rect x="1895.63" y="2731.4" width="27.64" height="61"/><rect x="1919.79" y="2742.17" width="27.64" height="50.23"/><rect x="1944.72" y="2755.92" width="22.61" height="36.48"/><rect x="1968.88" y="2755.92" width="22.61" height="36.48"/><rect x="1993.03" y="2766.69" width="22.61" height="25.71"/><rect x="2017.19" y="2769.08" width="22.61" height="23.32"/><rect x="2041.35" y="2772.67" width="22.61" height="19.73"/><rect x="2065.51" y="2775.66" width="22.61" height="16.74"/><rect x="2089.66" y="2779.84" width="22.61" height="12.56"/><rect x="2113.82" y="2781.04" width="22.61" height="11.36"/><rect x="2137.98" y="2781.04" width="22.61" height="11.36"/><rect x="2162.14" y="2784.03" width="22.61" height="8.37"/><rect x="2186.29" y="2784.63" width="22.61" height="7.77"/><rect x="2210.45" y="2786.72" width="22.61" height="5.68"/><rect x="2234.61" y="2787.44" width="22.61" height="4.96"/><rect x="2258.77" y="2788.21" width="22.61" height="4.19"/><rect x="2282.92" y="2788.21" width="22.61" height="4.19"/><rect x="2307.08" y="2788.81" width="22.61" height="3.59"/><rect x="2331.24" y="2789.41" width="22.61" height="2.99"/><rect x="2355.4" y="2789.41" width="22.61" height="2.99"/><rect x="2379.55" y="2789.41" width="13.05" height="2.99"/></g>
<g fill="#ff0000" fill-opacity="0.9" stroke="#fff" stroke-width="2" stroke-opacity="0.95"><rect x="1426.3" y="2421.04" width="13.82" height="371.36"/><rect x="1437.41" y="2576.52" width="22.61" height="215.88"/><rect x="1461.57" y="2556.19" width="22.61" height="236.21"/><rect x="1485.73" y="2510.74" width="22.61" height="281.66"/><rect x="1509.11" y="2449.75" width="27.64" height="342.65"/><rect x="1533.27" y="2502.37" width="27.64" height="290.03"/><rect x="1557.43" y="2570.54" width="27.64" height="221.86"/><rect x="1581.58" y="2633.33" width="27.64" height="159.07"/><rect x="1605.74" y="2697.92" width="27.64" height="94.48"/><rect x="1629.9" y="2741.57" width="27.64" height="50.83"/><rect x="1654.06" y="2766.69" width="27.64" height="25.71"/><rect x="1678.21" y="2774.46" width="27.64" height="17.94"/><rect x="1703.14" y="2780.44" width="22.61" height="11.96"/><rect x="1727.3" y="2781.64" width="22.61" height="10.76"/><rect x="1751.46" y="2784.93" width="22.61" height="7.48"/><rect x="1775.62" y="2786.42" width="22.61" height="5.98"/><rect x="1799.77" y="2787.32" width="22.61" height="5.08"/><rect x="1823.93" y="2788.99" width="22.61" height="3.41"/><rect x="1848.09" y="2790.01" width="22.61" height="2.39"/><rect x="1872.25" y="2790.61" width="22.61" height="1.79"/><rect x="1896.4" y="2791.2" width="22.61" height="1.2"/></g>
<path d="M1426.3 2319V2792.4H2394.3" fill="none" stroke="#000" stroke-width="3.4" stroke-linecap="square"/>
<line x1="1426.3" y1="2792.4" x2="1426.3" y2="2813.9" stroke="#000" stroke-width="6"/><text x="1426.3" y="2861.3" font-size="50" text-anchor="middle">0</text><line x1="1619.6" y1="2792.4" x2="1619.6" y2="2813.9" stroke="#000" stroke-width="6"/><text x="1619.6" y="2861.3" font-size="50" text-anchor="middle">1</text><line x1="1812.8" y1="2792.4" x2="1812.8" y2="2813.9" stroke="#000" stroke-width="6"/><text x="1812.8" y="2861.3" font-size="50" text-anchor="middle">2</text><line x1="2006.1" y1="2792.4" x2="2006.1" y2="2813.9" stroke="#000" stroke-width="6"/><text x="2006.1" y="2861.3" font-size="50" text-anchor="middle">3</text><line x1="2199.3" y1="2792.4" x2="2199.3" y2="2813.9" stroke="#000" stroke-width="6"/><text x="2199.3" y="2861.3" font-size="50" text-anchor="middle">4</text><line x1="2392.6" y1="2792.4" x2="2392.6" y2="2813.9" stroke="#000" stroke-width="6"/><text x="2392.6" y="2861.3" font-size="50" text-anchor="middle">5</text>
<line x1="1404.8" y1="2792.4" x2="1426.3" y2="2792.4" stroke="#000" stroke-width="6"/><text x="1392.8" y="2811.1" font-size="50" text-anchor="end">0</text><line x1="1404.8" y1="2671" x2="1426.3" y2="2671" stroke="#000" stroke-width="6"/><text x="1392.8" y="2689.7" font-size="50" text-anchor="end">20</text><line x1="1404.8" y1="2552" x2="1426.3" y2="2552" stroke="#000" stroke-width="6"/><text x="1392.8" y="2570.7" font-size="50" text-anchor="end">40</text><line x1="1404.8" y1="2433" x2="1426.3" y2="2433" stroke="#000" stroke-width="6"/><text x="1392.8" y="2451.7" font-size="50" text-anchor="end">60</text>
<text x="1905.5" y="2925.6" font-size="51.2" text-anchor="middle">Lifetime (ns)</text>
<text font-size="51.2" text-anchor="middle" transform="translate(1301 2555.5) rotate(-90)">N Events x10<tspan font-size="35.8" dy="-18.5">3</tspan></text>
</g>
<g id="insets">
<defs><filter id="ib2" x="-10%" y="-10%" width="120%" height="120%"><feGaussianBlur stdDeviation="1.5"/></filter><filter id="ib2b" x="-10%" y="-10%" width="120%" height="120%"><feGaussianBlur stdDeviation="2.4"/></filter><filter id="ib3" x="-10%" y="-10%" width="120%" height="120%"><feGaussianBlur stdDeviation="3.2"/></filter><filter id="ib5" x="-10%" y="-10%" width="120%" height="120%"><feGaussianBlur stdDeviation="6"/></filter><filter id="nze" filterUnits="userSpaceOnUse" x="677" y="2237" width="512" height="511" color-interpolation-filters="sRGB"><feTurbulence type="fractalNoise" baseFrequency="0.9" numOctaves="1" seed="5" result="n"/><feColorMatrix in="n" type="matrix" values="0 3.2 0 0 -1.15  1.6 0 0 0 -0.3  0 0 1 0 0  0 0 0 0 1" result="n2"/><feFlood flood-color="#000" x="677" y="2237" width="1" height="1" result="px"/><feOffset in="px" dx="0" dy="0" x="677" y="2237" width="2" height="2" result="cell"/><feTile in="cell" result="grid"/><feComposite in="n2" in2="grid" operator="in" result="s0"/><feOffset in="s0" dx="1" dy="0" result="s1"/><feMerge result="row"><feMergeNode in="s0"/><feMergeNode in="s1"/></feMerge><feOffset in="row" dx="0" dy="1" result="r1"/><feMerge result="blk"><feMergeNode in="row"/><feMergeNode in="r1"/></feMerge><feComposite in="SourceGraphic" in2="blk" operator="arithmetic" k1="2" k2="0" k3="0" k4="0"/></filter><filter id="nzf" filterUnits="userSpaceOnUse" x="1917" y="2208" width="525" height="523" color-interpolation-filters="sRGB"><feTurbulence type="fractalNoise" baseFrequency="0.9" numOctaves="1" seed="9" result="n"/><feColorMatrix in="n" type="matrix" values="-5.5 0 0 0 3.4  5.5 0 0 0 -2.4  0 0 0 0 0.5  0 0 0 0 1" result="n2"/><feFlood flood-color="#000" x="1917" y="2208" width="1" height="1" result="px"/><feOffset in="px" dx="0" dy="0" x="1917" y="2208" width="2" height="2" result="cell"/><feTile in="cell" result="grid"/><feComposite in="n2" in2="grid" operator="in" result="s0"/><feOffset in="s0" dx="1" dy="0" result="s1"/><feMerge result="row"><feMergeNode in="s0"/><feMergeNode in="s1"/></feMerge><feOffset in="row" dx="0" dy="1" result="r1"/><feMerge result="blk"><feMergeNode in="row"/><feMergeNode in="r1"/></feMerge><feComposite in="SourceGraphic" in2="blk" operator="arithmetic" k1="1.7" k2="0" k3="0" k4="0"/></filter></defs>
<clipPath id="iec"><rect x="677.1" y="2237.1" width="510.8" height="509.9"/></clipPath><g clip-path="url(#iec)"><g filter="url(#nze)"><rect x="657.1" y="2217.1" width="550.8" height="549.9" fill="#069a10"/><g filter="url(#ib3)"><g transform="translate(677.1 2237.1) scale(7.98125 7.96719) translate(0 0.5)" fill="none" stroke-width="1.06"><path stroke="#002800" d="M63 15h1M62 16h2M62 17h2M63 18h1M63 19h1M63 20h1M63 21h1"/><path stroke="#003200" d="M62 15h1"/><path stroke="#00320a" d="M62 14h2M62 18h1M62 19h1"/><path stroke="#003c0a" d="M61 10h2M61 11h3M62 12h2M62 13h2M52 15h4M61 15h1M53 16h5M61 16h1M55 17h4M61 17h1M56 18h4M61 18h1M58 19h1M62 20h1M62 21h1M63 22h1"/><path stroke="#00460a" d="M45 7h2M46 8h1M46 9h1M61 9h2M63 10h1M61 12h1M61 13h1M51 14h3M61 14h1M51 15h1M56 15h1M52 16h1M58 16h1M53 17h2M59 17h2M55 18h1M60 18h1M56 19h2M59 19h3M37 34h1M37 35h2M58 38h1"/><path stroke="#00500a" d="M45 6h1M45 8h1M47 8h1M61 8h1M47 9h1M63 9h1M46 10h1M51 13h2M49 14h2M54 14h1M49 15h2M57 15h1M60 15h1M51 16h1M59 16h2M54 18h1M57 20h5M39 21h2M39 22h2M62 22h1M39 23h3M63 23h1M43 24h2M58 27h3M59 28h3M63 33h1M36 34h1M38 34h2M63 34h1M35 35h2M39 35h2M37 36h2M57 37h2M57 38h1M59 38h1M58 39h2"/><path stroke="#005a0a" d="M44 6h1M46 6h1M44 7h1M47 7h1M60 8h1M62 8h1M45 9h1M60 9h1M47 10h1M60 10h1M47 11h1M60 11h1M60 12h1M48 13h3M53 13h1M60 13h1M48 14h1M55 14h1M60 14h1M48 15h1M58 15h2M50 16h1M52 17h1M53 18h1M55 19h1M40 20h3M56 20h1M38 21h1M41 21h1M61 21h1M37 22h2M41 22h1M38 23h1M42 23h3M40 24h3M45 24h1M44 25h1M54 25h4M54 26h7M57 27h1M61 27h1M58 28h1M59 29h3M62 32h2M36 33h2M62 33h1M35 34h1M40 34h1M62 34h1M33 35h2M41 35h2M62 35h2M36 36h1M39 36h4M57 36h2M63 36h1M38 37h1M56 37h1M59 37h1M57 39h1M58 40h2"/><path stroke="#00640a" d="M43 6h1M43 7h1M61 7h1M44 8h1M63 8h1M45 10h1M46 11h1M47 12h2M50 12h3M47 13h1M54 13h1M47 14h1M56 14h1M47 15h1M48 16h2M51 17h1M41 19h3M54 19h1M37 20h3M43 20h1M55 20h1M36 21h2M42 21h1M56 21h5M36 22h1M42 22h1M61 22h1M37 23h1M45 23h1M62 23h1M39 24h1M54 24h4M43 25h1M45 25h1M53 25h1M58 25h1M53 26h1M61 26h1M54 27h3M57 28h1M62 28h1M62 29h1M60 30h3M61 31h3M36 32h1M61 32h1M35 33h1M38 33h1M33 34h2M41 34h1M43 35h1M57 35h2M33 36h3M43 36h1M56 36h1M59 36h1M61 36h2M37 37h1M39 37h4M60 37h1M62 37h2M40 38h2M56 38h1M60 38h1M13 39h2M40 39h2M60 39h1M14 40h1"/><path stroke="#006e0a" d="M0 3h1M0 4h2M0 5h1M44 5h2M47 6h1M51 7h2M60 7h1M62 7h1M42 8h2M48 8h1M52 8h1M41 9h4M48 9h1M52 9h1M40 10h2M48 10h1M39 11h1M48 11h1M46 12h1M49 12h1M53 12h1M46 13h1M55 13h1M59 13h1M57 14h3M47 16h1M47 17h4M42 18h3M47 18h3M52 18h1M39 19h2M44 19h6M36 20h1M44 20h1M48 20h2M43 21h1M55 21h1M35 22h1M43 22h2M55 22h2M36 23h1M46 23h1M54 23h3M37 24h2M46 24h1M53 24h1M58 24h1M63 24h1M42 25h1M59 25h2M53 27h1M62 27h1M56 28h1M63 28h1M58 29h1M63 29h1M63 30h1M36 31h1M35 32h1M37 32h1M39 33h3M45 33h1M61 33h1M42 34h3M61 34h1M32 35h1M44 35h1M56 35h1M59 35h1M61 35h1M32 36h1M44 36h1M55 36h1M60 36h1M36 37h1M43 37h1M55 37h1M61 37h1M13 38h2M38 38h2M55 38h1M61 38h1M15 39h1M39 39h1M56 39h1M13 40h1M15 40h1M40 40h3M57 40h1M60 40h1M14 41h1M42 41h1M43 42h2M44 43h1M23 63h1"/><path stroke="#00780a" d="M1 3h1M1 5h1M43 5h1M46 5h1M0 6h2M42 6h1M48 6h1M50 6h3M42 7h1M48 7h1M50 7h1M53 7h1M63 7h1M41 8h1M51 8h1M53 8h1M59 8h1M40 9h1M53 9h1M59 9h1M39 10h1M42 10h3M52 10h2M59 10h1M38 11h1M40 11h2M45 11h1M49 11h1M51 11h3M59 11h1M38 12h2M54 12h1M59 12h1M56 13h1M46 14h1M46 15h1M46 16h1M44 17h1M46 17h1M11 18h1M41 18h1M45 18h2M50 18h2M37 19h2M53 19h1M45 20h3M50 20h1M54 20h1M35 21h1M44 21h1M48 21h3M54 21h1M45 22h1M54 22h1M57 22h4M35 23h1M52 23h2M57 23h2M61 23h1M36 24h1M52 24h1M59 24h1M62 24h1M37 25h5M46 25h1M52 25h1M61 25h2M30 26h2M36 26h2M43 26h3M52 26h1M62 26h1M36 27h1M63 27h1M36 28h1M53 28h3M35 29h2M57 29h1M35 30h2M59 30h1M35 31h1M45 31h1M60 31h1M44 32h2M60 32h1M34 33h1M42 33h1M44 33h1M32 34h1M45 34h1M45 35h1M55 35h1M60 35h1M18 36h2M13 37h2M12 38h1M15 38h1M42 38h1M62 38h1M12 39h1M42 39h1M55 39h1M52 40h1M13 41h1M15 41h2M28 41h2M41 41h1M43 41h2M52 41h1M58 41h2M15 42h3M27 42h4M42 42h1M45 42h1M28 43h3M43 43h1M45 43h1M49 43h3M49 44h3M49 45h2M49 51h1M26 58h3M26 59h3M27 60h1M22 63h1M24 63h1"/><path stroke="#00820a" d="M25 3h1M47 5h1M50 5h1M49 6h1M53 6h1M1 7h1M51 9h1M50 11h1M54 11h1M38 13h1M42 13h1M45 15h1M44 16h2M12 17h1M43 17h1M45 17h1M12 18h1M40 18h1M36 19h1M50 19h1M52 19h1M49 22h2M52 22h2M59 23h1M60 24h2M30 25h1M36 25h1M63 25h1M29 26h1M30 27h2M37 27h1M52 27h1M35 28h1M58 30h1M3 33h1M43 33h1M60 33h1M57 34h2M60 34h1M19 35h1M20 36h1M31 36h1M15 37h1M31 37h2M35 37h1M44 37h1M30 38h1M37 38h1M63 38h1M61 39h1M16 40h1M28 40h1M39 40h1M53 40h1M56 40h1M17 41h1M27 41h1M53 41h1M14 42h1M18 42h1M50 42h4M52 43h3M30 44h1M43 44h2M53 44h2M48 45h1M48 46h2M62 47h2M50 51h1M50 52h1M53 55h1M54 56h1M40 58h1M40 59h1M28 60h1M28 61h1M23 62h1M45 62h1M25 63h1M45 63h2"/><path stroke="#0a820a" d="M31 0h2M55 0h4M32 1h2M56 1h2M0 2h2M25 2h1M32 2h5M2 3h1M20 3h5M26 3h2M33 3h2M2 4h1M26 4h2M2 5h1M48 5h2M51 5h1M2 6h1M54 6h1M62 6h1M0 7h1M2 7h1M41 7h1M49 7h1M54 7h1M59 7h1M1 8h2M40 8h1M49 8h2M1 9h3M39 9h1M49 9h1M54 9h1M2 10h1M38 10h1M49 10h1M51 10h1M54 10h1M0 11h2M37 11h1M42 11h1M0 12h1M37 12h1M40 12h3M45 12h1M55 12h1M37 13h1M39 13h1M41 13h1M45 13h1M57 13h2M42 14h4M43 15h2M13 16h1M43 16h1M6 17h1M10 17h2M13 17h1M42 17h1M10 18h1M31 18h2M38 18h2M11 19h2M31 19h2M51 19h1M0 20h1M35 20h1M53 20h1M0 21h1M34 21h1M45 21h1M47 21h1M51 21h1M53 21h1M34 22h1M46 22h1M48 22h1M51 22h1M47 23h1M50 23h2M60 23h1M47 24h1M51 24h1M31 25h1M38 26h1M42 26h1M63 26h1M29 27h1M35 27h1M5 28h1M56 29h1M23 30h2M12 31h2M24 31h1M44 31h1M59 31h1M3 32h1M13 32h1M24 32h2M34 32h1M38 32h1M41 32h1M46 32h1M2 33h1M4 33h1M25 33h1M33 33h1M46 33h1M3 34h2M56 34h1M59 34h1M18 35h1M20 35h1M31 35h1M45 36h1M54 36h1M12 37h1M18 37h2M30 37h1M33 37h2M54 37h1M16 38h1M29 38h1M31 38h1M54 38h1M6 39h1M16 39h1M29 39h3M38 39h1M54 39h1M12 40h1M29 40h1M43 40h1M51 40h1M18 41h1M30 41h1M40 41h1M45 41h1M51 41h1M57 41h1M60 41h1M26 42h1M31 42h2M49 42h1M54 42h1M15 43h4M24 43h4M31 43h1M42 43h1M55 43h1M24 44h2M29 44h1M45 44h1M48 44h1M52 44h1M55 44h1M60 44h1M24 45h3M51 45h5M59 45h2M25 46h2M50 46h2M59 46h5M48 47h3M59 47h3M21 48h1M49 48h1M62 48h2M30 49h1M30 50h1M49 50h2M36 51h1M48 51h1M51 51h1M56 51h1M36 52h1M49 52h1M51 52h2M55 52h3M50 53h3M54 53h4M0 54h1M50 54h6M4 55h1M51 55h2M54 55h2M4 56h1M52 56h2M55 56h1M22 57h1M26 57h2M54 57h2M24 58h2M41 58h1M25 59h1M29 59h1M41 59h1M17 60h1M26 60h1M19 61h2M27 61h1M29 61h1M45 61h2M19 62h4M24 62h1M28 62h2M46 62h1M57 62h1M47 63h1M51 63h1M57 63h1"/><path stroke="#0a8c0a" d="M6 0h2M30 0h1M33 0h1M36 0h3M40 0h2M59 0h2M6 1h2M29 1h3M34 1h5M40 1h3M55 1h1M58 1h2M2 2h1M6 2h4M19 2h6M26 2h6M37 2h1M56 2h3M10 3h1M17 3h3M28 3h5M35 3h3M48 3h2M57 3h2M20 4h6M28 4h3M33 4h1M44 4h7M42 5h1M52 5h3M13 6h2M41 6h1M55 6h1M60 6h2M63 6h1M0 8h1M3 8h1M23 8h2M54 8h1M0 9h1M24 9h1M31 9h1M50 9h1M58 9h1M0 10h2M3 10h1M31 10h1M37 10h1M50 10h1M58 10h1M2 11h1M43 11h2M55 11h2M1 12h2M43 12h1M56 12h1M58 12h1M0 13h2M34 13h1M40 13h1M43 13h2M14 14h2M18 14h2M33 14h2M38 14h1M41 14h1M5 15h2M13 15h2M17 15h4M33 15h2M42 15h1M5 16h3M11 16h2M14 16h1M18 16h2M33 16h2M42 16h1M5 17h1M7 17h3M32 17h3M40 17h2M6 18h4M13 18h1M23 18h1M30 18h1M33 18h2M36 18h2M0 19h1M19 19h3M30 19h1M33 19h3M1 20h1M20 20h1M31 20h2M34 20h1M51 20h2M1 21h1M46 21h1M52 21h1M0 22h2M47 22h1M0 23h2M34 23h1M48 23h2M35 24h1M50 24h1M12 25h1M29 25h1M47 25h1M51 25h1M28 26h1M32 26h1M35 26h1M39 26h1M41 26h1M46 26h1M51 26h1M5 27h2M28 27h1M32 27h1M43 27h3M51 27h1M4 28h1M6 28h1M25 28h3M31 28h2M37 28h1M42 28h2M51 28h2M2 29h5M10 29h1M23 29h4M34 29h1M42 29h2M51 29h5M2 30h5M10 30h4M22 30h1M25 30h1M34 30h1M42 30h5M51 30h2M56 30h2M2 31h2M11 31h1M14 31h1M23 31h1M25 31h1M34 31h1M37 31h1M42 31h1M46 31h1M2 32h1M4 32h1M12 32h1M14 32h1M39 32h2M42 32h2M59 32h1M24 33h1M32 33h1M59 33h1M2 34h1M5 34h1M24 34h2M31 34h1M46 34h1M55 34h1M2 35h5M21 35h2M46 35h1M54 35h1M5 36h3M13 36h5M21 36h1M30 36h1M6 37h2M16 37h2M20 37h1M29 37h1M5 38h3M11 38h1M17 38h1M28 38h1M32 38h1M36 38h1M43 38h1M4 39h2M7 39h1M28 39h1M32 39h1M43 39h1M52 39h2M3 40h4M17 40h1M27 40h1M30 40h3M38 40h1M44 40h1M54 40h2M61 40h1M3 41h2M12 41h1M19 41h2M25 41h2M31 41h2M49 41h2M54 41h3M3 42h1M13 42h1M19 42h1M23 42h3M33 42h1M41 42h1M46 42h1M48 42h1M55 42h1M57 42h4M3 43h1M14 43h1M19 43h1M23 43h1M32 43h1M46 43h3M56 43h6M3 44h1M18 44h1M23 44h1M26 44h3M31 44h1M42 44h1M46 44h2M56 44h4M61 44h1M23 45h1M30 45h1M43 45h2M47 45h1M56 45h3M61 45h2M23 46h2M27 46h1M47 46h1M52 46h4M57 46h2M5 47h1M15 47h1M20 47h8M51 47h4M58 47h1M5 48h1M20 48h1M22 48h1M48 48h1M50 48h4M58 48h4M5 49h1M20 49h1M29 49h1M31 49h1M49 49h3M56 49h3M62 49h1M3 50h4M29 50h1M31 50h2M36 50h1M43 50h2M48 50h1M51 50h1M55 50h3M3 51h5M30 51h1M34 51h2M37 51h1M43 51h1M47 51h1M52 51h4M57 51h1M6 52h4M35 52h1M37 52h1M43 52h1M48 52h1M53 52h2M58 52h1M7 53h6M36 53h1M49 53h1M53 53h1M1 54h3M7 54h5M49 54h1M56 54h2M0 55h1M3 55h1M5 55h2M9 55h3M50 55h1M56 55h1M3 56h1M5 56h1M10 56h1M22 56h3M51 56h1M56 56h1M3 57h2M21 57h1M23 57h3M28 57h2M40 57h2M53 57h1M56 57h1M60 57h1M3 58h1M21 58h3M29 58h1M39 58h1M46 58h1M55 58h2M60 58h1M4 59h1M16 59h2M22 59h3M39 59h1M45 59h2M16 60h1M18 60h4M25 60h1M29 60h1M39 60h2M44 60h3M57 60h2M16 61h3M21 61h6M30 61h1M44 61h1M57 61h2M15 62h1M18 62h1M25 62h3M30 62h1M35 62h3M44 62h1M47 62h1M51 62h2M58 62h1M14 63h2M19 63h3M26 63h4M44 63h1M48 63h1M50 63h1M52 63h1M56 63h1M58 63h1"/><path stroke="#0a8c14" d="M35 0h1M25 1h1M18 2h1M38 2h1M59 2h1M9 3h1M12 6h1M14 7h1M30 9h1M34 12h1M36 12h1M2 13h1M33 13h1M17 14h1M15 15h1M10 16h1M35 18h1M13 19h1M21 20h1M5 26h1M4 27h1M24 28h1M28 28h1M45 29h2M50 29h1M22 31h1M43 31h1M58 31h1M2 36h1M17 39h1M26 40h1M4 42h1M56 42h1M17 44h1M15 46h1M6 48h1M57 48h1M4 49h1M48 49h1M63 49h1M35 50h1M42 52h1M0 53h1M37 53h1M6 54h1M49 55h1M11 56h1M25 56h1M10 57h2M46 57h1M4 58h1M21 59h1M22 60h1M24 60h1M16 62h1M36 63h1"/><path stroke="#0a9614" d="M5 0h1M8 0h1M12 0h1M22 0h8M34 0h1M39 0h1M42 0h1M54 0h1M61 0h1M1 1h2M5 1h1M8 1h1M21 1h4M26 1h3M39 1h1M54 1h1M60 1h2M3 2h3M10 2h1M17 2h1M39 2h4M48 2h2M55 2h1M60 2h1M3 3h1M6 3h3M11 3h1M16 3h1M38 3h1M47 3h1M50 3h1M55 3h2M59 3h2M3 4h1M10 4h3M16 4h4M31 4h2M34 4h2M42 4h2M51 4h1M54 4h5M3 5h1M10 5h5M21 5h9M41 5h1M55 5h2M62 5h2M3 6h1M11 6h1M15 6h1M23 6h2M56 6h1M59 6h1M3 7h1M11 7h3M15 7h1M23 7h2M40 7h1M55 7h1M58 7h1M11 8h5M30 8h2M35 8h1M39 8h1M58 8h1M4 9h1M11 9h2M23 9h1M25 9h1M32 9h1M36 9h3M55 9h1M57 9h1M4 10h3M11 10h2M19 10h1M24 10h1M30 10h1M32 10h1M36 10h1M55 10h3M3 11h1M18 11h1M30 11h7M57 11h2M3 12h1M18 12h1M33 12h1M35 12h1M44 12h1M57 12h1M3 13h1M14 13h5M35 13h2M0 14h8M13 14h1M16 14h1M20 14h1M35 14h3M39 14h2M0 15h5M7 15h2M12 15h1M16 15h1M21 15h2M32 15h1M35 15h1M37 15h2M41 15h1M0 16h1M4 16h1M8 16h2M15 16h3M20 16h3M32 16h1M35 16h1M38 16h1M41 16h1M0 17h1M4 17h1M14 17h1M18 17h6M30 17h2M35 17h5M0 18h1M5 18h1M18 18h5M24 18h3M29 18h1M1 19h1M6 19h5M18 19h1M22 19h5M29 19h1M2 20h1M6 20h2M11 20h3M19 20h1M22 20h1M30 20h1M33 20h1M2 21h1M6 21h1M19 21h3M33 21h1M2 22h2M6 22h1M15 22h1M21 22h1M33 22h1M2 23h2M14 23h3M0 24h2M11 24h6M30 24h2M48 24h2M11 25h1M13 25h2M32 25h1M35 25h1M50 25h1M4 26h1M6 26h1M12 26h1M40 26h1M47 26h1M7 27h1M24 27h4M34 27h1M38 27h1M41 27h2M46 27h1M50 27h1M0 28h4M7 28h1M9 28h2M29 28h2M33 28h2M41 28h1M44 28h4M49 28h2M0 29h2M7 29h3M11 29h3M17 29h4M27 29h1M32 29h2M37 29h1M41 29h1M44 29h1M1 30h1M7 30h3M14 30h8M26 30h1M37 30h1M41 30h1M50 30h1M53 30h3M1 31h1M4 31h4M9 31h2M15 31h1M21 31h1M26 31h1M41 31h1M50 31h3M56 31h2M1 32h1M5 32h1M10 32h2M23 32h1M26 32h1M33 32h1M50 32h2M57 32h2M1 33h1M5 33h1M11 33h4M23 33h1M26 33h1M50 33h1M56 33h3M1 34h1M6 34h1M11 34h1M19 34h5M26 34h1M30 34h1M47 34h1M49 34h2M1 35h1M7 35h2M17 35h1M23 35h2M30 35h1M47 35h4M53 35h1M1 36h1M3 36h2M8 36h1M11 36h2M22 36h2M46 36h1M48 36h2M53 36h1M1 37h5M8 37h1M11 37h1M21 37h1M45 37h1M53 37h1M3 38h2M8 38h1M18 38h3M27 38h1M33 38h1M44 38h1M53 38h1M3 39h1M8 39h1M11 39h1M18 39h1M24 39h4M37 39h1M51 39h1M62 39h1M7 40h1M18 40h8M45 40h1M50 40h1M2 41h1M5 41h1M21 41h4M33 41h1M39 41h1M46 41h1M48 41h1M61 41h1M2 42h1M12 42h1M20 42h3M40 42h1M47 42h1M61 42h1M1 43h2M4 43h1M13 43h1M20 43h1M22 43h1M33 43h1M41 43h1M2 44h1M4 44h1M14 44h3M19 44h1M22 44h1M32 44h1M41 44h1M62 44h1M2 45h3M14 45h6M27 45h3M31 45h1M42 45h1M45 45h2M63 45h1M3 46h3M14 46h1M16 46h4M21 46h2M28 46h1M30 46h2M46 46h1M56 46h1M3 47h2M6 47h2M14 47h1M16 47h4M28 47h1M47 47h1M55 47h3M3 48h2M7 48h1M15 48h1M19 48h1M23 48h10M47 48h1M54 48h3M2 49h2M6 49h2M19 49h1M21 49h1M28 49h1M32 49h2M42 49h3M52 49h4M59 49h3M1 50h2M7 50h3M19 50h2M28 50h1M33 50h2M37 50h2M42 50h1M45 50h3M52 50h3M58 50h1M61 50h3M2 51h1M8 51h3M18 51h3M28 51h2M31 51h3M38 51h1M42 51h1M44 51h3M58 51h1M61 51h3M2 52h4M10 52h4M18 52h2M29 52h6M38 52h1M41 52h1M44 52h4M62 52h2M1 53h6M13 53h1M28 53h3M34 53h2M38 53h1M41 53h4M48 53h1M58 53h1M4 54h2M12 54h1M25 54h1M28 54h3M48 54h1M1 55h2M7 55h2M12 55h1M23 55h3M28 55h3M46 55h3M57 55h1M2 56h1M6 56h4M21 56h1M26 56h5M46 56h2M50 56h1M57 56h4M5 57h2M9 57h1M12 57h1M20 57h1M30 57h2M39 57h1M47 57h1M52 57h1M57 57h3M61 57h1M2 58h1M5 58h1M9 58h3M16 58h2M20 58h1M30 58h2M38 58h1M42 58h1M45 58h1M47 58h1M54 58h1M57 58h3M61 58h1M2 59h2M5 59h1M18 59h3M30 59h2M38 59h1M42 59h1M44 59h1M47 59h1M56 59h6M4 60h2M15 60h1M23 60h1M30 60h3M38 60h1M41 60h1M43 60h1M47 60h1M56 60h1M59 60h1M15 61h1M31 61h10M43 61h1M47 61h1M51 61h2M56 61h1M59 61h1M14 62h1M17 62h1M31 62h4M38 62h1M48 62h1M50 62h1M56 62h1M11 63h1M13 63h1M16 63h3M30 63h1M34 63h2M37 63h2M49 63h1M59 63h1"/><path stroke="#0aa014" d="M4 0h1M11 0h1M13 0h1M21 0h1M43 0h6M62 0h2M0 1h1M3 1h2M9 1h5M18 1h3M43 1h1M47 1h3M11 2h2M14 2h3M43 2h1M47 2h1M50 2h1M54 2h1M61 2h1M4 3h2M12 3h1M14 3h2M39 3h5M45 3h2M51 3h1M54 3h1M61 3h1M4 4h1M9 4h1M13 4h3M36 4h6M52 4h2M59 4h4M15 5h6M30 5h1M40 5h1M57 5h5M10 6h1M16 6h2M22 6h1M25 6h1M27 6h3M40 6h1M57 6h2M9 7h2M16 7h2M22 7h1M25 7h1M30 7h1M35 7h1M39 7h1M56 7h2M4 8h1M6 8h3M10 8h1M16 8h1M22 8h1M25 8h1M29 8h1M32 8h1M34 8h1M36 8h3M55 8h3M5 9h4M10 9h1M13 9h4M19 9h4M33 9h3M56 9h1M7 10h4M13 10h2M17 10h2M20 10h4M25 10h1M33 10h3M4 11h1M6 11h7M17 11h1M19 11h2M24 11h2M29 11h1M8 12h3M13 12h2M17 12h1M19 12h1M29 12h4M4 13h1M7 13h4M13 13h1M19 13h2M32 13h1M8 14h3M12 14h1M21 14h3M32 14h1M9 15h3M23 15h1M36 15h1M39 15h2M1 16h3M23 16h2M31 16h1M36 16h2M39 16h2M1 17h1M3 17h1M15 17h3M24 17h6M1 18h1M4 18h1M14 18h1M27 18h2M2 19h1M5 19h1M14 19h1M27 19h2M5 20h1M8 20h3M14 20h1M18 20h1M23 20h7M3 21h3M7 21h2M11 21h8M22 21h1M28 21h5M4 22h2M7 22h2M11 22h4M16 22h5M22 22h1M32 22h1M4 23h4M10 23h4M17 23h2M21 23h3M33 23h1M2 24h4M17 24h1M29 24h1M32 24h1M34 24h1M0 25h2M4 25h3M15 25h2M28 25h1M48 25h2M7 26h1M11 26h1M13 26h3M24 26h4M33 26h2M48 26h3M0 27h2M3 27h1M8 27h1M10 27h5M23 27h1M33 27h1M39 27h2M47 27h3M8 28h1M11 28h3M18 28h2M23 28h1M48 28h1M14 29h3M21 29h2M28 29h1M31 29h1M47 29h1M49 29h1M0 30h1M27 30h1M32 30h2M47 30h1M8 31h1M16 31h5M33 31h1M53 31h3M6 32h4M15 32h1M21 32h2M27 32h1M32 32h1M55 32h2M6 33h2M9 33h2M22 33h1M27 33h1M30 33h2M47 33h1M49 33h1M51 33h1M55 33h1M7 34h4M12 34h3M18 34h1M27 34h1M29 34h1M48 34h1M51 34h2M54 34h1M0 35h1M9 35h8M25 35h2M29 35h1M51 35h2M0 36h1M9 36h2M24 36h1M29 36h1M47 36h1M50 36h1M52 36h1M0 37h1M9 37h2M22 37h3M28 37h1M46 37h1M49 37h2M1 38h2M9 38h2M21 38h6M34 38h2M45 38h1M50 38h3M2 39h1M10 39h1M19 39h5M33 39h1M44 39h1M50 39h1M63 39h1M2 40h1M8 40h1M11 40h1M33 40h1M37 40h1M46 40h4M62 40h1M6 41h2M11 41h1M34 41h1M38 41h1M47 41h1M62 41h1M1 42h1M5 42h1M34 42h1M39 42h1M62 42h1M0 43h1M5 43h1M12 43h1M21 43h1M34 43h1M62 43h1M1 44h1M5 44h1M13 44h1M20 44h2M33 44h1M40 44h1M5 45h1M13 45h1M20 45h1M22 45h1M32 45h1M40 45h2M2 46h1M6 46h2M9 46h1M13 46h1M20 46h1M29 46h1M32 46h1M40 46h6M2 47h1M8 47h3M29 47h4M41 47h3M45 47h2M2 48h1M8 48h3M14 48h1M16 48h3M33 48h2M41 48h6M1 49h1M8 49h3M14 49h2M18 49h1M22 49h1M25 49h3M34 49h5M41 49h1M45 49h3M0 50h1M10 50h2M18 50h1M21 50h1M27 50h1M39 50h1M41 50h1M59 50h2M0 51h2M11 51h2M21 51h1M27 51h1M39 51h3M59 51h2M0 52h2M14 52h1M20 52h1M26 52h3M39 52h2M59 52h3M14 53h1M17 53h3M24 53h4M31 53h3M39 53h2M45 53h3M59 53h1M61 53h3M13 54h2M17 54h3M23 54h2M26 54h2M31 54h8M41 54h7M58 54h1M61 54h3M17 55h2M21 55h2M26 55h2M31 55h2M45 55h1M58 55h6M12 56h1M16 56h5M31 56h2M40 56h2M45 56h1M48 56h2M61 56h3M2 57h1M7 57h2M16 57h4M32 57h2M37 57h2M42 57h1M45 57h1M48 57h1M51 57h1M62 57h2M6 58h3M12 58h1M15 58h1M18 58h2M32 58h3M36 58h2M43 58h2M48 58h1M53 58h1M62 58h2M1 59h1M6 59h1M10 59h2M15 59h1M32 59h6M43 59h1M48 59h1M55 59h1M62 59h2M0 60h4M6 60h1M33 60h5M42 60h1M48 60h1M51 60h1M60 60h1M0 61h1M14 61h1M41 61h1M48 61h1M50 61h1M10 62h2M39 62h1M43 62h1M49 62h1M53 62h1M55 62h1M59 62h1M10 63h1M12 63h1M31 63h3M43 63h1M53 63h1M55 63h1"/><path stroke="#0aaa14" d="M1 0h3M9 0h2M14 0h1M20 0h1M49 0h1M53 0h1M14 1h1M17 1h1M44 1h3M50 1h1M53 1h1M62 1h2M13 2h1M44 2h3M51 2h1M53 2h1M62 2h1M13 3h1M44 3h1M52 3h2M62 3h1M5 4h4M63 4h1M4 5h2M9 5h1M31 5h5M38 5h2M4 6h1M9 6h1M18 6h4M26 6h1M30 6h1M39 6h1M4 7h5M18 7h4M26 7h4M31 7h2M34 7h1M36 7h3M5 8h1M9 8h1M17 8h5M26 8h1M33 8h1M9 9h1M17 9h2M26 9h1M29 9h1M15 10h2M26 10h1M29 10h1M5 11h1M13 11h4M21 11h3M4 12h1M6 12h2M11 12h2M15 12h2M20 12h6M28 12h1M5 13h2M11 13h2M21 13h5M29 13h1M31 13h1M11 14h1M24 14h2M24 15h2M31 15h1M25 16h4M30 16h1M2 17h1M2 18h2M15 18h1M17 18h1M3 19h2M17 19h1M3 20h2M15 20h3M9 21h2M23 21h5M9 22h2M23 22h1M26 22h6M8 23h2M19 23h2M24 23h1M28 23h5M6 24h1M10 24h1M18 24h7M28 24h1M33 24h1M2 25h2M10 25h1M17 25h3M21 25h7M33 25h2M0 26h4M10 26h1M16 26h1M23 26h1M2 27h1M9 27h1M15 27h2M19 27h1M14 28h4M20 28h3M38 28h1M40 28h1M29 29h2M40 29h1M48 29h1M28 30h1M30 30h2M49 30h1M0 31h1M27 31h1M31 31h2M38 31h1M40 31h1M47 31h1M49 31h1M0 32h1M16 32h1M18 32h3M28 32h4M47 32h1M49 32h1M52 32h1M54 32h1M0 33h1M8 33h1M15 33h1M19 33h3M28 33h2M48 33h1M52 33h1M54 33h1M0 34h1M15 34h3M28 34h1M53 34h1M27 35h2M25 36h4M51 36h1M25 37h3M47 37h2M51 37h2M0 38h1M46 38h1M48 38h2M0 39h2M9 39h1M34 39h1M36 39h1M45 39h5M1 40h1M9 40h2M34 40h1M63 40h1M1 41h1M8 41h1M10 41h1M35 41h3M63 41h1M0 42h1M6 42h2M11 42h1M35 42h4M63 42h1M37 43h1M39 43h2M63 43h1M0 44h1M12 44h1M34 44h2M39 44h1M63 44h1M1 45h1M6 45h1M9 45h2M21 45h1M33 45h3M38 45h2M1 46h1M8 46h1M10 46h3M33 46h4M38 46h2M1 47h1M11 47h1M13 47h1M33 47h3M39 47h2M44 47h1M1 48h1M11 48h1M13 48h1M35 48h6M0 49h1M11 49h3M16 49h2M23 49h2M39 49h2M12 50h1M14 50h4M22 50h5M40 50h1M13 51h3M17 51h1M22 51h5M15 52h1M17 52h1M21 52h5M15 53h2M20 53h4M60 53h1M15 54h2M20 54h3M39 54h2M59 54h2M13 55h4M19 55h2M33 55h6M41 55h4M0 56h2M13 56h3M33 56h7M42 56h1M44 56h1M1 57h1M13 57h3M34 57h3M43 57h2M49 57h2M1 58h1M13 58h2M35 58h1M51 58h2M0 59h1M7 59h3M12 59h3M51 59h2M54 59h1M9 60h3M14 60h1M50 60h1M52 60h1M55 60h1M61 60h2M1 61h1M4 61h2M9 61h3M42 61h1M49 61h1M53 61h1M55 61h1M60 61h1M0 62h1M9 62h1M12 62h2M40 62h1M54 62h1M60 62h1M9 63h1M39 63h1M54 63h1M60 63h3"/><path stroke="#0ab414" d="M0 0h1M18 0h2M50 0h1M15 1h2M51 1h2M52 2h1M63 2h1M63 3h1M6 5h3M36 5h2M5 6h4M31 6h8M33 7h1M27 8h2M27 9h1M26 11h3M5 12h1M26 12h2M26 13h3M30 13h1M26 14h3M31 14h1M26 15h3M29 16h1M16 18h1M15 19h2M24 22h2M25 23h3M7 24h3M25 24h3M7 25h3M20 25h1M8 26h2M17 26h6M17 27h2M20 27h3M39 28h1M38 29h1M29 30h1M40 30h1M48 30h1M28 31h3M39 31h1M17 32h1M48 32h1M53 32h1M16 33h3M53 33h1M47 38h1M35 39h1M0 40h1M35 40h2M0 41h1M9 41h1M8 42h3M6 43h6M35 43h2M38 43h1M6 44h1M8 44h4M36 44h3M0 45h1M7 45h2M11 45h2M36 45h2M0 46h1M37 46h1M0 47h1M12 47h1M36 47h3M0 48h1M12 48h1M13 50h1M16 51h1M16 52h1M39 55h2M43 56h1M0 57h1M0 58h1M49 58h2M49 59h2M53 59h1M7 60h2M12 60h2M49 60h1M53 60h2M63 60h1M2 61h2M6 61h3M12 61h2M54 61h1M61 61h1M1 62h1M8 62h1M41 62h2M61 62h2M0 63h1M63 63h1"/><path stroke="#0abe14" d="M15 0h3M51 0h2M28 9h1M27 10h2M29 14h2M29 15h2M39 29h1M38 30h1M48 31h1M7 44h1M62 61h2M2 62h6M63 62h1M1 63h1M7 63h2M40 63h1M42 63h1"/><path stroke="#0ac814" d="M39 30h1M2 63h5M41 63h1"/></g></g><g filter="url(#ib2)" opacity="0.45"><path transform="translate(677.1 2237.1) scale(3.99063) translate(0 0.5)" fill="none" stroke="#8a9a00" stroke-width="1.1" d="M120 0h2M119 1h2M117 2h2M116 3h2M115 4h2M114 5h1M112 6h2M111 7h2M80 8h5M110 8h1M78 9h8M108 9h2M77 10h9M107 10h2M76 11h10M106 11h2M74 12h12M104 12h2M73 13h12M103 13h2M71 14h13M109 14h5M118 14h2M70 15h12M105 15h10M118 15h2M68 16h12M104 16h12M118 16h2M67 17h11M100 17h2M103 17h12M66 18h11M99 18h16M65 19h10M99 19h14M64 20h9M98 20h14M62 21h9M97 21h4M102 21h7M61 22h9M97 22h3M103 22h3M60 23h8M96 23h2M33 24h1M58 24h8M95 24h2M33 25h1M57 25h7M32 26h2M55 26h7M93 26h1M32 27h2M54 27h6M93 27h2M32 28h2M53 28h6M94 28h1M32 29h1M52 29h5M95 29h1M32 30h1M52 30h3M95 30h1M31 31h2M31 32h2M31 33h2M31 34h1M30 35h2M30 36h2M30 37h2M30 38h1M30 39h1M29 40h2M29 41h2M93 41h1M29 42h2M93 42h8M29 43h1M95 43h7M96 44h6M96 45h7M95 46h8M95 47h8M95 48h8M95 49h9M95 50h9M96 51h7M96 52h7M97 53h6M113 53h2M102 54h1M108 54h8M102 55h1M107 55h9M102 56h2M106 56h10M61 57h1M102 57h2M105 57h12M61 58h2M104 58h13M60 59h2M104 59h13M60 60h2M104 60h12M60 61h2M103 61h13M59 62h3M103 62h13M58 63h4M103 63h13M58 64h5M103 64h12M58 65h4M103 65h11M58 66h4M103 66h10M58 67h3M104 67h9M58 68h2M104 68h8M58 69h2M105 69h6M58 70h2M106 70h3M58 71h2M65 89h1M64 90h2M63 91h2M63 92h2M63 93h2M63 94h2M63 95h2M64 96h1M64 97h1"/></g><g filter="url(#ib2)" opacity="0.8"><path transform="translate(677.1 2237.1) scale(3.99063) translate(0 0.5)" fill="none" stroke="#e09000" stroke-width="1.1" d="M81 8h2M80 9h5M78 10h7M77 11h8M75 12h10M74 13h10M72 14h10M71 15h9M106 15h3M110 15h1M69 16h10M105 16h8M68 17h9M104 17h9M67 18h8M100 18h2M104 18h9M66 19h7M99 19h3M103 19h8M65 20h7M99 20h2M102 20h7M64 21h6M98 21h2M103 21h4M62 22h6M97 22h2M104 22h2M61 23h5M97 23h1M59 24h5M57 25h6M56 26h5M55 27h5M54 28h4M53 29h3M53 30h1M96 42h4M96 43h5M97 44h4M97 45h5M96 46h6M95 47h7M95 48h8M96 49h7M96 50h7M97 51h6M97 52h6M102 53h1M102 54h1M102 55h1M111 55h4M102 56h1M109 56h7M102 57h1M107 57h9M106 58h10M106 59h10M105 60h11M105 61h10M60 62h2M105 62h10M59 63h3M104 63h10M59 64h3M105 64h8M59 65h3M105 65h8M59 66h2M105 66h8M106 67h6M107 68h1M63 91h2M63 92h2M63 93h1M64 94h1M64 95h1M64 96h1"/></g><g filter="url(#ib2)" opacity="0.9"><path transform="translate(677.1 2237.1) scale(3.99063) translate(0 0.5)" fill="none" stroke="#ff8000" stroke-width="1.1" d="M81 9h3M79 10h5M78 11h6M76 12h8M75 13h7M74 14h6M72 15h6M71 16h6M105 16h4M69 17h6M105 17h4M68 18h5M105 18h3M67 19h5M100 19h1M103 19h3M66 20h4M103 20h4M67 21h1M103 21h3M104 22h1M57 26h2M56 27h3M97 43h3M98 44h2M97 45h3M96 46h5M95 47h5M96 48h4M102 48h1M98 49h5M97 50h6M98 51h5M98 52h2M102 52h1M102 53h1M111 57h3M110 58h4M110 59h5M110 60h4M110 61h4M110 62h3M59 63h3M110 63h3M59 64h3M110 64h3M59 65h3M110 65h2M111 66h1M63 92h1M64 95h1"/></g></g></g><rect x="677.85" y="2237.85" width="509.3" height="508.4" fill="none" stroke="#000" stroke-width="1.8"/><rect x="688" y="2673.7" width="254.2" height="11.8" fill="#fff"/><text x="814.7" y="2728.3" font-size="41" text-anchor="middle" font-weight="bold" font-family="'Liberation Sans','DejaVu Sans',sans-serif" fill="#fff">40 µm</text>
<clipPath id="ifc"><rect x="1917.5" y="2208.4" width="523.1" height="521.3"/></clipPath><g clip-path="url(#ifc)"><g filter="url(#nzf)"><rect x="1897.5" y="2188.4" width="563.1" height="561.3" fill="#402000"/><g filter="url(#ib2b)"><g transform="translate(1917.5 2208.4) scale(5.44896 5.43021) translate(0 0.5)" fill="none" stroke-width="1.06"><path stroke="#280000" d="M37 26h1"/><path stroke="#281400" d="M13 9h1M12 10h4M12 11h3M13 12h2M13 13h3M13 14h4M13 15h4M13 16h2M12 17h3M12 18h2M39 24h1M38 25h3M38 26h5M45 26h3M38 27h11M40 28h11M41 29h10M41 30h9M40 31h10M40 32h1M44 32h6M44 33h6M46 34h3M46 35h4M47 36h4M47 37h4M42 63h1M43 64h1"/><path stroke="#282800" d="M13 7h2M12 8h4M12 9h1M14 9h2M16 10h1M15 11h1M16 13h1M17 14h1M17 15h3M18 16h2M14 18h1M85 20h2M85 21h2M85 22h1M40 24h2M41 25h2M65 25h2M67 26h1M92 29h2M90 30h4M90 31h3M41 32h3M92 32h1M43 33h1M50 33h2M45 34h1M49 34h4M50 35h2M46 36h1M51 36h1M48 38h2M41 64h2M41 65h3M27 82h3M27 83h3M29 84h1M35 89h1M35 90h1"/><path stroke="#283c00" d="M7 5h1M17 13h1M18 14h1M84 20h1M84 21h1M84 22h1M66 26h1M93 31h1M64 43h1M41 66h3M28 84h1M28 85h2"/><path stroke="#285000" d="M8 3h1M7 4h2M27 84h1M27 85h1"/><path stroke="#286400" d="M7 3h1M83 21h1M0 48h1M0 49h1M9 77h1"/><path stroke="#287800" d="M94 0h2M7 2h2M84 29h1M1 49h1M72 73h1M2 88h1M3 89h1M0 94h1"/><path stroke="#3c0000" d="M0 13h1M0 14h2M32 14h2M1 15h1M5 15h1M32 15h2M35 26h2M27 27h11M25 28h14M25 29h14M24 30h15M25 31h4M31 31h7M32 32h5M34 33h1M35 63h1M35 64h1M67 84h1M95 91h1"/><path stroke="#3c1400" d="M70 0h1M69 1h2M4 6h1M3 7h4M3 8h5M3 9h5M4 10h3M94 10h2M94 11h2M3 12h1M12 12h1M95 12h1M1 13h3M12 13h1M2 14h3M12 14h1M2 15h3M12 15h1M20 15h1M2 16h6M12 16h1M15 16h2M20 16h1M2 17h5M11 17h1M19 17h2M11 18h1M19 18h1M31 18h1M11 19h2M39 19h1M10 20h1M37 20h4M38 21h2M39 22h1M38 24h1M63 24h3M36 25h2M47 25h3M64 25h1M43 26h2M48 26h4M49 27h4M92 27h1M39 28h1M51 28h2M91 28h2M39 29h2M51 29h2M39 30h2M50 30h2M29 31h2M38 31h2M50 31h1M30 32h2M39 32h1M32 33h1M39 33h1M35 34h5M35 35h5M35 36h2M51 37h1M50 38h2M84 38h1M83 39h2M83 40h1M83 41h1M41 62h2M41 63h1M43 63h1M69 63h1M34 64h1M83 72h1M83 73h2M84 74h1M85 75h1M9 82h2M30 82h2M6 83h5M30 83h2M6 84h1M94 92h2"/><path stroke="#3c2800" d="M27 0h1M69 0h1M5 6h4M7 7h2M15 7h1M8 8h1M8 9h1M11 9h1M16 9h1M95 9h1M7 10h1M10 10h2M11 11h1M16 11h1M11 12h1M15 12h1M11 13h1M11 14h1M11 15h1M11 16h1M17 16h1M15 17h4M51 17h1M10 18h1M51 18h2M10 19h1M13 19h1M85 19h2M9 20h1M87 20h1M8 21h1M40 21h1M87 21h1M40 22h1M86 22h1M39 23h2M42 23h1M42 24h2M66 24h1M43 25h4M63 25h1M67 25h1M64 26h2M68 26h1M68 27h1M93 27h2M93 28h3M90 29h2M94 29h1M52 30h1M51 31h2M89 31h1M50 32h3M91 32h1M40 33h2M52 33h1M92 33h1M40 34h1M44 34h1M53 34h1M40 35h1M52 35h2M37 36h3M52 36h1M36 37h1M46 37h1M52 37h1M46 38h2M85 38h1M50 39h2M85 39h1M84 40h1M63 41h2M84 41h1M63 42h2M84 42h1M63 43h1M62 44h1M58 48h1M58 49h1M44 52h1M70 54h2M41 60h1M41 61h2M40 63h1M76 63h2M40 64h1M44 64h1M77 64h1M40 65h1M44 65h1M82 71h2M81 72h2M82 73h1M3 76h1M3 77h1M27 81h3M7 82h2M30 84h1M5 85h2M6 86h2M6 87h2M36 89h1M36 90h2M36 91h2M37 92h1M37 93h2M38 94h2M38 95h3"/><path stroke="#3c3c00" d="M68 0h1M6 5h1M8 5h1M9 7h1M12 7h1M16 7h1M10 8h2M16 8h2M10 9h1M17 9h1M17 10h1M17 11h1M16 12h1M15 18h2M50 18h1M51 19h1M87 19h1M87 22h1M41 23h1M67 24h1M66 27h2M89 29h1M95 29h1M89 30h1M94 30h2M94 31h1M90 32h1M93 32h1M42 33h1M53 33h1M93 33h1M41 34h1M54 34h1M93 34h1M41 35h1M45 35h1M54 35h1M76 35h1M53 36h1M37 37h1M36 38h1M48 39h2M51 40h1M85 40h1M65 42h1M65 43h1M63 44h1M45 48h1M41 59h1M42 60h1M75 63h1M76 64h1M42 68h2M81 70h2M81 71h1M2 76h1M2 77h1M8 80h1M8 81h1M25 81h2M20 82h1M26 82h1M20 83h1M26 83h1M80 84h2M30 85h1M4 86h2M5 87h1M15 87h1M35 88h2M29 89h1M34 89h1M37 89h1M34 90h1M35 91h1M36 92h1M36 93h1M37 94h1M37 95h1"/><path stroke="#3c5000" d="M9 4h1M9 5h1M9 6h1M76 6h1M11 7h1M57 10h1M17 12h1M19 14h1M14 19h1M53 32h1M94 32h1M94 33h1M42 34h2M45 36h1M45 37h1M37 38h1M50 40h1M51 41h2M85 41h1M66 43h1M64 44h2M58 47h1M45 51h1M74 63h1M75 64h1M40 66h1M44 66h1M14 67h1M41 67h3M13 68h1M80 70h1M80 71h1M80 72h1M1 77h1M10 77h1M2 78h1M9 78h2M8 79h2M7 80h1M7 81h1M19 83h1M77 83h6M77 84h3M27 86h3M4 87h1M25 87h1M28 87h2M15 88h1M29 88h1M34 91h1M35 92h1M36 94h1M36 95h1"/><path stroke="#3c6400" d="M93 0h1M9 3h1M6 4h1M76 5h1M18 10h1M56 10h1M18 13h1M15 19h1M83 20h1M54 33h1M94 34h1M42 35h1M44 35h1M21 39h1M49 40h1M50 41h1M51 42h2M52 43h1M59 48h1M45 49h2M59 49h1M25 50h2M45 50h1M46 51h1M42 59h1M74 64h1M13 67h1M44 67h1M71 71h1M72 72h1M8 78h1M6 81h1M76 82h3M76 83h1M26 84h1M26 85h1M77 85h1M26 86h1M30 86h1M3 87h1M16 87h1M4 88h1M34 88h1M4 89h1M33 90h1M73 91h1M35 93h1"/><path stroke="#3c7800" d="M0 0h1M4 0h12M0 1h1M4 1h12M95 1h1M4 2h3M9 2h6M79 2h4M5 3h2M10 3h1M78 3h6M77 4h8M24 5h1M77 5h6M23 6h2M77 6h2M23 7h2M22 8h3M21 9h4M19 10h6M18 11h7M18 12h8M19 13h1M26 13h2M55 17h2M55 18h3M55 19h3M57 20h3M82 20h1M80 21h3M80 22h4M79 23h5M91 23h1M16 24h4M79 24h4M16 25h5M79 25h4M16 26h5M81 26h2M18 27h3M80 27h4M80 28h5M72 29h1M80 29h4M85 29h1M79 30h7M80 31h5M55 33h2M95 33h1M55 34h2M95 34h1M43 35h1M55 35h2M94 35h2M44 36h1M94 36h2M61 37h2M95 37h1M17 38h1M60 38h3M16 39h2M22 39h1M37 39h2M59 39h4M74 39h2M16 40h1M21 40h3M36 40h3M56 40h1M72 40h5M86 40h1M88 40h1M21 41h3M35 41h4M49 41h1M53 41h4M72 41h4M86 41h4M21 42h3M36 42h2M50 42h1M53 42h3M71 42h5M85 42h5M22 43h2M72 43h5M86 43h3M72 44h5M72 45h5M19 46h2M58 46h1M73 46h4M0 47h3M21 47h1M37 47h1M59 47h3M1 48h2M21 48h2M36 48h1M60 48h3M2 49h1M34 49h2M60 49h3M0 50h1M34 50h2M46 50h1M60 50h3M25 51h6M35 51h1M60 51h4M74 51h1M27 52h1M29 52h1M62 52h3M74 52h1M62 53h4M68 53h1M95 53h1M63 54h2M95 54h1M63 55h1M80 55h1M80 56h2M43 58h1M43 59h1M0 60h1M43 60h1M0 61h5M0 62h7M0 63h7M0 64h2M14 65h1M13 66h2M12 67h1M40 67h1M12 68h1M0 70h4M0 71h6M0 72h7M71 72h1M0 73h6M71 73h1M73 73h1M71 74h5M9 75h1M71 75h5M95 75h1M7 76h4M65 76h1M72 76h4M81 76h3M95 76h1M8 77h1M65 77h1M73 77h2M81 77h3M95 77h1M0 78h2M23 78h1M0 79h3M22 79h2M0 80h3M22 80h1M84 80h1M0 81h4M83 81h2M2 82h1M79 82h4M76 84h1M17 86h1M85 86h1M2 87h1M17 87h1M30 87h2M85 87h1M0 88h2M3 88h1M16 88h2M30 88h4M40 88h1M0 89h3M30 89h4M40 89h2M0 90h5M30 90h3M0 91h5M31 91h3M74 91h1M0 92h5M32 92h3M73 92h2M0 93h5M33 93h2M74 93h1M1 94h5M33 94h3M0 95h5M24 95h4M88 95h2"/><path stroke="#500000" d="M0 12h1M32 13h2M95 13h1M5 14h1M31 14h1M95 14h1M0 15h1M31 15h1M94 15h2M0 16h2M36 16h1M21 17h1M21 18h1M20 19h3M20 20h2M29 25h6M27 26h8M25 27h2M24 28h1M24 29h1M23 30h1M24 31h1M25 32h4M37 32h1M33 33h1M35 33h2M34 34h1M35 62h1M34 63h1M36 63h1M36 64h2M58 83h3M65 83h4M59 84h1M63 84h4M68 84h1M66 85h4"/><path stroke="#501400" d="M73 0h2M37 1h2M71 1h1M35 2h4M69 2h4M71 3h2M72 4h1M3 6h1M65 6h1M3 10h1M2 11h5M1 12h2M4 12h3M94 12h1M4 13h2M31 13h1M94 13h1M34 14h1M87 14h1M94 14h1M6 15h2M21 15h1M34 15h4M87 15h1M21 16h1M30 16h4M37 16h2M1 17h1M30 17h3M37 17h1M2 18h1M18 18h1M20 18h1M30 18h1M38 18h2M17 19h3M31 19h1M36 19h3M11 20h1M17 20h3M31 20h1M36 20h1M10 21h1M18 21h2M36 21h2M37 22h2M38 23h1M37 24h1M35 25h1M50 25h2M52 26h2M69 26h1M95 26h1M53 27h1M91 27h1M53 28h1M29 32h1M38 32h1M30 33h2M37 33h2M31 34h3M33 35h2M83 35h2M34 36h1M83 36h2M35 37h1M83 37h3M52 38h1M83 38h1M62 42h1M83 42h1M62 43h1M94 43h2M57 48h1M43 51h1M42 52h2M36 58h3M70 60h1M40 61h1M69 61h3M34 62h1M43 62h1M68 62h4M30 63h4M44 63h1M67 63h2M70 63h2M33 64h1M38 64h2M68 64h3M34 65h5M88 65h1M87 66h2M87 67h2M84 72h1M85 73h1M85 74h2M86 75h1M85 76h2M10 81h1M30 81h2M67 81h3M11 82h1M32 82h1M64 82h5M32 83h1M56 83h1M8 84h2M31 84h1M88 84h1M9 86h2M8 87h3M9 88h1M24 90h1M95 90h1M24 91h1M93 91h2M93 92h1M93 93h3M94 94h2M43 95h1M79 95h1"/><path stroke="#502800" d="M21 0h2M26 0h1M28 0h1M38 0h1M71 0h1M22 1h1M28 1h1M68 1h1M72 1h1M64 6h1M66 6h1M18 7h1M9 8h1M9 9h1M94 9h1M8 10h1M7 11h1M59 11h1M93 11h1M7 12h1M59 12h1M93 12h1M8 14h1M37 14h2M86 14h1M8 15h1M38 15h1M86 15h1M8 16h1M86 16h2M7 17h2M10 17h1M50 17h1M52 17h1M87 17h1M3 18h5M9 18h1M17 18h1M32 18h1M53 18h1M8 19h2M32 19h1M40 19h1M52 19h2M7 20h2M12 20h1M35 20h1M41 20h1M52 20h3M7 21h1M9 21h1M41 21h1M52 21h3M7 22h3M41 22h1M63 23h3M47 24h1M61 24h2M60 25h3M68 25h2M54 26h1M63 26h1M70 26h1M90 26h5M54 27h1M69 27h2M90 27h1M95 27h1M69 28h1M90 28h1M53 29h1M71 31h1M88 31h1M89 32h1M75 34h1M66 35h1M75 35h1M85 35h1M66 36h1M85 36h2M86 37h1M19 38h2M35 38h1M45 39h3M52 39h1M63 40h2M62 41h1M95 42h1M83 43h1M93 43h1M61 44h1M44 51h1M42 53h4M71 53h1M70 55h2M70 56h1M70 57h1M70 58h1M40 59h1M70 59h2M40 60h1M69 60h1M71 60h1M68 61h1M40 62h1M67 62h1M76 62h2M39 63h1M78 63h1M78 64h1M88 64h1M33 65h1M39 65h1M69 65h1M77 65h1M42 69h2M82 69h1M83 70h1M83 74h1M84 75h1M4 76h1M4 77h1M86 77h1M69 79h2M10 80h1M68 80h3M9 81h1M66 81h1M33 82h1M54 82h2M5 83h1M11 83h1M54 83h2M88 83h2M4 84h2M7 84h1M10 84h1M89 84h2M7 85h4M89 85h1M8 86h1M7 88h2M23 89h5M25 90h2M25 91h1M38 91h1M57 91h1M84 91h1M25 92h1M38 92h1M39 93h1M49 93h1M40 94h1M41 95h2M69 95h2M80 95h2"/><path stroke="#503c00" d="M20 0h1M67 0h1M21 1h1M26 1h2M4 5h2M74 5h2M12 6h6M17 7h1M19 7h1M64 7h3M18 8h1M56 8h1M9 10h1M54 10h1M58 10h1M8 11h1M10 11h1M58 11h1M58 12h1M9 14h1M20 14h1M9 15h1M85 15h1M9 16h2M9 17h1M49 17h1M53 17h1M86 17h1M8 18h1M85 18h4M16 19h1M41 19h1M84 19h1M88 19h1M42 22h1M43 23h1M66 23h1M85 23h2M44 24h3M60 24h1M59 25h1M55 26h1M59 26h4M89 27h1M68 28h1M70 28h1M89 28h1M69 29h1M75 29h2M88 29h1M53 30h1M70 30h1M75 30h2M88 30h1M72 31h1M91 33h1M63 34h3M76 34h1M92 34h1M63 35h3M78 35h1M40 36h2M65 36h1M75 36h2M38 37h1M53 37h1M86 38h1M44 39h1M63 39h1M52 40h1M91 40h1M65 41h1M91 41h1M84 43h1M61 45h3M57 47h1M46 48h1M44 50h1M38 51h1M38 52h1M45 52h2M70 53h1M72 54h1M69 55h1M72 55h1M69 56h1M71 56h2M76 56h1M69 57h1M71 57h2M69 58h1M71 58h1M69 59h1M72 60h1M43 61h1M67 61h1M74 62h2M73 65h1M76 65h1M34 66h1M14 68h1M80 68h1M41 69h1M81 69h1M71 70h1M72 71h1M81 73h1M4 75h1M84 76h1M85 77h1M3 78h1M70 78h1M68 79h1M9 80h1M26 80h3M67 80h1M24 81h1M5 82h2M21 82h1M89 82h1M4 83h1M21 83h1M90 83h1M21 84h1M54 84h1M82 84h1M3 85h2M90 85h1M13 87h2M24 87h1M6 88h1M23 88h6M37 88h1M28 89h1M27 90h1M38 90h1M72 90h1M84 90h2M26 91h1M72 91h1M83 91h1M49 92h2M48 93h1M71 93h1M41 94h3M69 94h3M68 95h1M71 95h1"/><path stroke="#505000" d="M39 0h1M66 0h1M92 0h1M92 1h1M11 5h1M11 6h1M10 7h1M76 7h1M19 8h1M66 8h1M95 8h1M18 9h1M55 9h3M78 9h1M55 10h1M9 11h1M55 11h1M57 11h1M8 12h1M10 12h1M46 12h2M56 12h2M10 13h1M10 14h1M10 15h1M70 15h1M49 18h1M54 19h1M51 20h1M88 20h1M88 21h1M84 23h1M59 24h1M92 25h1M59 27h1M65 27h1M88 28h1M70 29h1M71 30h1M74 30h1M53 31h1M74 31h2M95 31h1M76 33h1M77 34h1M77 35h1M54 36h1M64 36h1M77 36h1M39 37h1M54 37h1M76 37h2M44 38h2M19 39h2M35 39h1M55 39h1M86 39h1M53 40h2M66 42h1M91 42h1M64 45h1M62 46h1M45 47h2M44 48h1M44 49h1M37 51h1M37 52h1M47 52h1M70 52h1M72 53h1M69 54h1M73 57h1M80 57h1M72 58h1M72 59h1M68 60h1M73 63h1M73 64h1M45 65h1M74 65h2M39 66h1M15 67h1M41 68h1M70 69h1M79 69h2M39 70h1M69 70h2M80 73h1M82 74h1M3 75h1M4 78h1M71 78h1M7 79h1M10 79h1M71 79h1M25 80h1M71 80h1M22 81h2M19 82h1M25 82h1M90 82h1M18 83h1M25 83h1M19 84h2M78 85h3M3 86h1M14 86h2M24 86h1M26 87h2M36 87h1M5 88h1M14 88h1M6 89h3M14 89h1M38 89h1M28 90h1M73 90h1M57 92h1M72 92h1M72 93h1M68 94h1M81 94h1M67 95h1M72 95h1"/><path stroke="#506400" d="M91 0h1M93 1h1M10 4h1M10 5h1M10 6h1M75 6h1M77 7h1M94 8h1M78 10h1M56 11h1M9 13h1M70 14h1M50 19h1M13 20h1M55 20h1M58 25h1M91 25h1M56 26h1M58 26h1M55 27h1M75 28h1M74 29h1M87 29h1M95 32h1M93 35h1M42 36h1M63 36h1M93 36h1M43 37h2M64 37h1M18 38h1M38 38h1M63 38h1M90 39h1M48 40h1M55 40h1M62 40h1M90 40h1M90 41h1M67 43h1M66 44h1M85 44h1M65 45h1M75 47h2M23 48h1M23 49h2M59 50h1M47 51h1M69 53h1M79 56h1M41 58h1M68 59h1M66 60h1M44 68h1M79 70h1M69 71h1M79 71h1M73 72h1M79 72h1M79 73h1M2 75h1M1 76h1M91 77h1M91 78h1M3 79h2M6 79h1M93 79h1M6 80h1M24 80h1M20 81h2M76 81h1M4 82h1M34 82h1M34 83h1M18 84h1M25 84h1M19 85h1M25 85h1M2 86h1M25 86h1M35 87h1M38 88h1M5 89h1M15 89h1M84 89h1M74 90h1M58 92h1M68 93h1M72 94h1M90 95h1"/><path stroke="#507800" d="M1 0h1M16 0h1M40 0h1M89 0h2M1 1h1M3 1h1M81 1h3M94 1h1M0 2h2M3 2h1M15 2h1M27 2h1M78 2h1M83 2h1M4 3h1M11 3h1M77 3h1M84 3h1M5 4h1M23 4h2M76 4h1M85 4h1M22 5h2M25 5h1M83 5h3M22 6h1M25 6h1M79 6h4M21 7h2M25 7h1M78 7h1M94 7h2M21 8h1M64 8h2M19 9h2M65 9h1M79 9h1M47 10h2M79 10h1M83 10h2M25 11h1M47 11h2M71 11h3M78 11h2M83 11h2M9 12h1M26 12h3M70 12h4M78 12h2M83 12h2M20 13h1M24 13h2M28 13h1M46 13h1M70 13h3M77 13h3M84 13h1M26 14h2M62 14h2M71 14h1M77 14h2M62 15h2M77 15h2M55 16h2M62 16h2M77 16h2M54 17h1M57 17h1M63 17h1M54 18h1M63 18h2M49 19h1M58 19h2M61 19h6M80 19h1M14 20h2M56 20h1M60 20h7M79 20h3M14 21h2M58 21h4M79 21h1M89 21h3M15 22h2M59 22h1M79 22h1M88 22h5M15 23h4M89 23h2M92 23h1M15 24h1M78 24h1M83 24h1M90 24h3M15 25h1M78 25h1M15 26h1M21 26h1M57 26h1M79 26h2M83 26h1M15 27h3M56 27h2M72 27h2M84 27h1M18 28h3M56 28h1M71 28h4M85 28h2M71 29h1M73 29h1M79 29h1M86 29h1M72 30h2M78 30h1M86 30h1M54 31h2M78 31h2M54 32h3M57 33h1M57 34h1M57 35h1M43 36h1M55 36h2M62 36h1M55 37h2M60 37h1M63 37h1M94 37h1M16 38h1M56 38h4M75 38h3M95 38h1M15 39h1M18 39h1M23 39h1M29 39h2M36 39h1M56 39h3M72 39h2M76 39h3M89 39h1M15 40h1M17 40h1M20 40h1M28 40h3M35 40h1M39 40h1M57 40h5M71 40h1M77 40h1M87 40h1M89 40h1M16 41h1M20 41h1M28 41h3M57 41h1M70 41h2M76 41h1M28 42h2M35 42h1M38 42h1M49 42h1M56 42h2M70 42h1M76 42h1M90 42h1M21 43h1M36 43h2M49 43h3M53 43h4M71 43h1M77 43h1M85 43h1M89 43h2M17 44h2M21 44h3M57 44h2M67 44h1M71 44h1M77 44h1M86 44h4M17 45h5M57 45h3M77 45h1M0 46h3M17 46h2M21 46h2M36 46h4M57 46h1M59 46h3M72 46h1M77 46h1M19 47h2M22 47h2M35 47h2M38 47h2M62 47h1M73 47h2M77 47h1M20 48h1M34 48h2M37 48h2M78 48h4M21 49h2M25 49h2M33 49h1M36 49h1M1 50h1M21 50h4M27 50h5M33 50h1M36 50h1M63 50h1M67 50h1M73 50h2M23 51h2M31 51h1M34 51h1M36 51h1M59 51h1M64 51h5M73 51h1M75 51h1M25 52h2M28 52h1M30 52h1M35 52h2M59 52h3M65 52h5M73 52h1M75 52h1M29 53h1M36 53h1M58 53h4M66 53h2M73 53h3M94 53h1M62 54h1M65 54h4M79 54h3M94 54h1M62 55h1M64 55h2M68 55h1M79 55h1M81 55h1M95 55h1M62 56h3M0 57h2M63 57h2M68 57h1M81 57h1M0 58h3M42 58h1M44 58h1M67 58h2M73 58h1M0 59h4M6 59h1M44 59h1M66 59h2M1 60h7M44 60h1M67 60h1M5 61h3M15 61h1M7 62h1M14 62h3M88 62h1M7 63h1M14 63h3M2 64h1M14 64h3M0 65h1M13 65h1M15 65h2M59 65h3M12 66h1M15 66h1M45 66h1M58 66h3M63 66h3M11 67h1M38 67h2M45 67h1M65 67h2M0 68h1M11 68h1M38 68h3M45 68h1M0 69h3M11 69h2M4 70h1M11 70h1M6 71h1M34 71h1M70 71h1M33 72h2M70 72h1M78 72h1M6 73h1M34 73h1M70 73h1M74 73h1M78 73h1M0 74h7M64 74h2M70 74h1M76 74h3M0 75h2M7 75h2M10 75h1M64 75h2M70 75h1M76 75h2M81 75h3M94 75h1M0 76h1M64 76h1M66 76h1M71 76h1M80 76h1M94 76h1M0 77h1M7 77h1M64 77h1M66 77h1M72 77h1M75 77h1M80 77h1M84 77h1M92 77h3M7 78h1M22 78h1M24 78h1M64 78h3M72 78h3M80 78h6M92 78h4M5 79h1M21 79h1M24 79h1M64 79h3M72 79h3M82 79h4M91 79h2M94 79h2M3 80h3M21 80h1M23 80h1M72 80h3M80 80h4M85 80h1M90 80h2M4 81h2M35 81h1M74 81h2M77 81h6M85 81h1M90 81h1M0 82h2M3 82h1M35 82h2M75 82h1M83 82h2M0 83h4M35 83h1M75 83h1M83 83h1M0 84h1M75 84h1M0 85h1M17 85h2M76 85h1M84 85h2M93 85h3M0 86h2M16 86h1M18 86h1M35 86h1M48 86h1M77 86h1M84 86h1M93 86h3M0 87h2M18 87h1M32 87h3M40 87h2M48 87h2M84 87h1M94 87h2M18 88h1M39 88h1M41 88h1M49 88h2M84 88h2M95 88h1M16 89h2M39 89h1M49 89h2M5 90h2M9 90h1M29 90h1M39 90h3M50 90h1M5 91h1M29 91h2M41 91h2M75 91h1M5 92h1M31 92h1M41 92h3M75 92h1M5 93h1M32 93h1M42 93h2M58 93h2M66 93h2M73 93h1M75 93h1M81 93h1M24 94h5M32 94h1M65 94h3M73 94h2M89 94h1M5 95h1M23 95h1M28 95h1M32 95h4M66 95h1M73 95h2M87 95h1"/><path stroke="#640000" d="M55 0h1M75 0h2M35 16h1M93 16h3M0 17h1M22 17h1M36 17h1M93 17h3M0 18h1M22 18h2M94 18h2M22 20h1M28 24h6M27 25h2M25 26h2M24 27h1M23 29h1M23 31h1M24 32h1M57 82h3M61 83h4M69 83h1M58 84h1M60 84h3M69 84h2M62 85h4M70 85h2M63 86h2M67 86h5M69 87h2M69 88h2"/><path stroke="#641400" d="M23 0h1M29 0h1M34 0h4M34 1h3M73 1h2M34 2h1M68 2h1M73 2h1M36 3h3M70 3h1M73 3h1M71 4h1M66 5h1M2 7h1M2 8h1M2 9h1M2 10h1M43 10h1M1 11h1M6 13h1M6 14h2M30 14h1M88 14h1M93 14h1M30 15h1M88 15h1M92 15h2M34 16h1M51 16h1M88 16h1M92 16h1M33 17h2M38 17h1M1 18h1M34 18h1M36 18h2M1 19h1M23 19h2M30 19h1M35 19h1M23 20h2M30 20h1M11 21h1M20 21h2M24 21h1M54 22h1M37 23h1M54 23h1M8 24h1M34 24h3M48 24h3M8 25h1M95 25h1M8 27h2M8 28h2M64 31h1M70 31h1M70 32h3M29 33h1M30 34h1M74 34h1M83 34h2M31 35h2M67 35h1M74 35h1M82 35h1M33 36h1M67 36h1M82 36h1M19 37h2M34 37h1M82 37h1M34 38h1M82 38h1M82 39h1M82 41h1M82 42h1M82 43h1M94 44h2M54 48h3M57 49h1M42 51h1M25 56h2M36 56h1M36 57h2M79 58h1M36 59h3M39 60h1M30 61h2M30 62h4M36 62h1M37 63h2M80 63h1M87 65h1M89 65h1M77 66h1M86 66h1M89 66h1M86 67h1M89 67h1M16 68h3M87 68h2M83 69h1M85 72h1M86 73h1M87 75h1M87 76h1M11 81h1M63 81h1M56 82h1M63 82h1M69 82h1M57 83h1M57 84h1M59 85h1M52 86h2M11 87h1M53 87h1M10 88h1M70 89h1M23 90h1M55 90h1M94 90h1M23 91h1M55 91h1M49 94h1M44 95h1M48 95h1M78 95h1"/><path stroke="#642800" d="M24 0h2M72 0h1M23 1h2M29 1h1M67 1h1M39 2h1M34 3h2M39 3h2M35 4h1M37 4h3M73 4h2M3 5h1M64 5h2M72 5h1M54 7h2M43 9h2M42 10h1M44 10h1M53 10h1M93 10h1M44 11h1M60 11h1M31 12h1M60 12h1M7 13h1M30 13h1M39 13h1M87 13h1M93 13h1M21 14h1M35 14h2M92 14h1M50 16h1M52 16h1M29 17h1M39 17h1M88 17h1M33 18h1M40 18h1M33 19h2M32 20h1M35 21h1M36 22h1M52 22h2M7 23h3M55 24h1M94 24h2M52 25h4M94 25h1M62 31h2M69 31h1M87 31h1M62 32h3M73 32h1M88 32h1M62 33h2M74 33h1M66 34h1M85 34h2M86 35h1M74 36h1M92 37h1M21 38h1M53 38h1M91 38h2M34 39h1M53 39h1M64 39h1M92 39h1M45 40h2M65 40h1M82 40h1M92 40h1M92 41h1M61 42h1M92 42h3M61 43h1M83 44h1M93 44h1M85 46h1M53 47h2M56 47h1M53 48h1M43 50h1M58 50h1M41 52h1M43 54h2M38 57h1M78 57h1M39 58h1M39 59h1M36 60h1M38 60h1M35 61h1M39 61h1M72 61h1M76 61h1M29 62h1M39 62h1M44 62h1M66 62h1M72 62h1M78 62h1M29 63h1M72 63h1M79 63h1M30 64h3M45 64h1M67 64h1M71 64h1M79 64h2M89 64h1M68 65h1M70 65h1M78 65h1M76 66h1M78 66h1M77 67h2M15 68h1M89 68h1M41 70h2M72 70h1M84 71h1M87 74h1M15 77h1M87 77h1M30 80h1M63 80h1M12 81h1M32 81h1M54 81h1M64 81h1M70 81h1M12 82h1M53 82h1M92 82h1M22 83h1M33 83h1M32 84h1M56 84h1M87 84h1M53 85h1M87 85h2M11 86h1M54 86h1M58 87h1M11 88h1M71 89h1M95 89h1M56 90h2M71 90h1M93 90h1M56 91h1M24 92h1M92 92h1M50 93h1M92 93h1M48 94h1M92 94h2M45 95h3M82 95h1M92 95h1"/><path stroke="#643c00" d="M25 1h1M39 1h1M66 1h1M22 2h2M29 2h1M36 4h1M75 4h1M12 5h2M73 5h1M18 6h2M63 6h1M53 7h1M56 7h1M67 7h1M54 8h2M67 8h1M76 8h1M53 9h1M76 9h2M93 9h1M45 10h1M59 10h1M45 11h1M54 11h1M92 11h1M30 12h1M92 12h1M8 13h1M38 13h1M58 13h2M86 13h1M92 13h1M39 14h1M69 15h1M49 16h1M85 16h1M85 17h1M89 18h1M2 19h2M6 19h2M33 20h2M42 20h1M17 21h1M42 21h1M55 21h1M19 22h1M61 23h2M68 24h1M70 25h1M93 25h1M62 27h3M54 28h1M66 28h2M76 28h2M68 29h1M69 30h1M74 32h1M64 33h2M75 33h1M62 34h1M91 34h1M62 35h1M92 35h1M92 36h1M93 37h1M43 38h1M54 38h1M54 39h1M91 39h1M47 40h1M92 43h1M60 44h1M84 44h1M92 44h1M84 45h2M63 46h2M47 48h1M52 48h1M39 49h1M43 49h1M71 49h1M38 50h2M39 51h1M39 52h2M49 52h1M71 52h1M41 53h1M46 53h1M49 53h1M42 54h1M56 54h1M77 56h1M39 57h1M77 57h1M79 57h1M80 58h1M73 61h3M73 62h1M28 63h1M29 64h1M72 64h1M94 64h1M32 65h1M71 65h2M35 66h1M69 66h1M73 66h1M16 67h3M79 67h1M78 68h2M81 68h1M13 69h1M71 69h1M40 70h1M62 74h1M88 75h1M5 76h1M88 76h1M5 77h1M88 77h1M69 78h1M86 78h3M27 79h2M11 80h1M29 80h1M33 81h1M65 81h1M17 82h1M22 82h3M88 82h1M53 83h1M91 83h2M53 84h1M55 84h1M91 84h1M24 85h1M31 85h1M54 85h2M12 86h1M23 86h1M89 86h1M12 87h1M23 87h1M22 89h1M72 89h1M94 89h1M58 90h1M83 90h1M86 90h1M58 91h2M71 91h1M85 91h2M39 92h1M56 92h1M70 92h2M84 92h1M70 93h1M83 93h1M44 94h1M47 94h1M79 94h1M82 94h1M91 95h1"/><path stroke="#645000" d="M20 1h1M21 2h1M24 2h1M40 2h1M22 3h2M11 4h2M14 5h4M36 5h1M83 6h1M20 7h1M57 7h1M57 8h1M77 8h1M54 9h1M58 9h1M67 9h1M67 10h1M77 10h1M29 11h2M68 11h1M45 12h1M48 12h1M55 12h1M86 12h1M48 13h1M56 13h2M60 13h1M69 14h1M85 14h1M69 16h2M41 18h1M48 18h1M4 19h2M42 19h1M83 19h1M89 19h1M6 20h1M16 20h1M6 21h1M51 21h1M18 22h1M43 22h1M44 23h1M67 23h1M87 23h1M93 24h1M56 25h1M71 26h1M89 26h1M60 27h2M71 27h1M77 29h1M87 30h1M73 31h1M75 32h1M90 33h1M78 34h1M61 35h1M8 36h1M78 36h1M18 37h1M40 37h3M65 37h1M74 37h2M40 38h1M55 38h1M64 38h1M43 39h1M33 40h2M66 41h1M60 45h1M44 47h1M52 47h1M63 47h1M40 48h1M43 48h1M71 48h1M75 48h2M88 48h1M38 49h1M70 49h1M72 49h1M75 49h1M37 50h1M70 50h2M48 51h1M70 51h2M48 52h1M38 53h1M40 53h1M48 53h1M85 53h1M36 54h1M41 54h1M41 55h1M73 55h1M75 55h3M40 56h1M73 56h3M78 56h1M40 57h1M76 57h1M40 58h1M52 58h1M50 59h3M73 60h1M66 61h1M89 63h1M95 64h1M67 65h1M95 65h1M33 66h1M36 66h1M70 66h1M80 67h1M40 69h1M68 70h1M68 71h1M73 71h1M89 76h1M70 77h1M89 77h2M11 78h1M89 78h1M11 79h1M26 79h1M93 80h1M18 81h1M71 81h1M92 81h1M18 82h1M91 82h1M17 83h1M3 84h1M11 84h1M92 84h1M11 85h1M81 85h2M13 86h1M90 86h1M37 87h1M13 88h1M22 88h1M9 89h3M13 89h1M73 89h2M48 92h1M51 92h1M83 92h1M24 93h1M40 93h1M47 93h1M69 93h1M46 94h1M80 94h1M91 94h1"/><path stroke="#646400" d="M19 0h1M91 1h1M25 2h1M28 2h1M22 4h1M18 5h1M20 6h1M36 6h1M63 7h1M78 8h1M29 10h1M46 11h1M67 11h1M69 11h1M29 12h1M68 12h2M47 13h1M68 13h1M48 17h1M70 17h1M70 18h1M0 21h1M60 23h1M68 23h1M84 24h1M57 25h1M71 25h1M90 25h1M88 26h1M88 27h1M54 29h1M76 31h1M76 32h1M77 33h1M8 37h1M78 37h1M7 38h1M22 38h1M87 38h1M44 40h1M61 41h1M91 43h1M86 45h1M39 48h1M70 48h1M72 48h3M47 49h1M73 49h2M76 49h1M37 53h1M84 53h1M40 54h1M57 54h1M84 54h2M40 55h1M74 55h1M41 56h1M64 58h2M65 59h1M65 60h1M74 60h1M44 61h1M28 64h1M30 65h1M32 66h1M37 66h2M68 66h1M81 67h1M4 69h1M44 69h1M69 69h1M78 69h1M38 71h2M68 72h1M81 74h1M5 75h1M11 77h1M71 77h1M5 78h1M68 78h1M90 78h1M77 79h1M87 79h1M64 80h1M76 80h1M92 80h1M94 80h1M19 81h1M74 83h1M83 84h1M20 85h1M75 85h1M83 85h1M91 85h2M82 86h1M91 86h2M75 89h1M83 89h1M85 89h1M11 90h4M12 91h1M39 91h1M49 91h1M26 92h1M25 93h1M82 93h1M22 95h1M75 95h1"/><path stroke="#647800" d="M2 0h2M17 0h2M41 0h1M60 0h6M82 0h3M88 0h1M2 1h1M16 1h4M40 1h1M61 1h4M79 1h2M84 1h1M89 1h2M2 2h1M16 2h1M19 2h1M26 2h1M62 2h3M84 2h2M89 2h4M94 2h2M0 3h4M12 3h4M18 3h1M24 3h5M63 3h1M85 3h1M89 3h3M4 4h1M17 4h2M25 4h4M86 4h1M89 4h3M21 5h1M26 5h1M86 5h6M21 6h1M26 6h1M73 6h2M84 6h7M93 6h3M26 7h1M28 7h2M36 7h2M74 7h2M79 7h4M87 7h3M93 7h1M20 8h1M25 8h1M28 8h2M36 8h2M47 8h1M63 8h1M79 8h3M87 8h3M93 8h1M25 9h1M29 9h1M36 9h2M46 9h3M64 9h1M66 9h1M80 9h1M82 9h2M88 9h2M25 10h1M46 10h1M65 10h2M70 10h4M80 10h3M85 10h5M26 11h3M65 11h2M70 11h1M74 11h1M77 11h1M80 11h3M85 11h4M65 12h3M74 12h1M77 12h1M80 12h3M85 12h1M21 13h3M29 13h1M44 13h2M61 13h5M69 13h1M73 13h1M76 13h1M82 13h2M85 13h1M25 14h1M28 14h1M44 14h4M60 14h2M64 14h2M72 14h1M76 14h1M79 14h1M84 14h1M26 15h1M43 15h5M61 15h1M64 15h2M71 15h2M76 15h1M79 15h1M47 16h2M54 16h1M57 16h1M61 16h1M64 16h2M71 16h2M76 16h1M79 16h1M61 17h2M64 17h2M71 17h2M76 17h4M58 18h1M61 18h2M65 18h3M71 18h3M77 18h4M60 19h1M67 19h2M71 19h3M78 19h2M81 19h2M50 20h1M67 20h2M78 20h1M89 20h3M1 21h1M13 21h1M16 21h1M56 21h2M62 21h6M78 21h1M92 21h1M0 22h2M14 22h1M17 22h1M58 22h1M60 22h3M78 22h1M93 22h1M14 23h1M19 23h1M58 23h2M78 23h1M88 23h1M93 23h1M14 24h1M20 24h1M58 24h1M71 24h1M77 24h1M88 24h2M14 25h1M21 25h1M72 25h2M77 25h1M83 25h1M88 25h2M14 26h1M72 26h3M78 26h1M84 26h1M14 27h1M21 27h1M58 27h1M74 27h2M79 27h1M85 27h3M13 28h5M55 28h1M57 28h1M78 28h2M87 28h1M13 29h3M18 29h3M55 29h2M78 29h1M12 30h2M18 30h3M54 30h3M77 30h1M18 31h3M56 31h2M77 31h1M85 31h1M18 32h2M57 32h1M77 32h7M58 33h1M78 33h1M58 34h2M58 35h1M57 36h5M7 37h1M16 37h2M57 37h3M0 38h1M8 38h2M15 38h1M23 38h2M29 38h2M39 38h1M71 38h4M78 38h2M94 38h1M0 39h1M8 39h1M24 39h1M28 39h1M31 39h1M39 39h1M71 39h1M79 39h1M87 39h2M18 40h2M24 40h1M31 40h1M43 40h1M70 40h1M78 40h2M15 41h1M17 41h1M24 41h1M27 41h1M31 41h1M34 41h1M39 41h1M42 41h3M48 41h1M58 41h3M69 41h1M77 41h2M15 42h3M20 42h1M24 42h1M27 42h1M30 42h1M39 42h6M48 42h1M58 42h1M67 42h3M77 42h1M16 43h2M20 43h1M24 43h1M27 43h3M38 43h8M48 43h1M57 43h2M68 43h3M78 43h1M16 44h1M19 44h2M24 44h1M37 44h5M45 44h4M51 44h3M56 44h1M59 44h1M68 44h1M78 44h1M90 44h2M0 45h4M16 45h1M22 45h6M36 45h6M45 45h3M56 45h1M66 45h3M71 45h1M78 45h1M88 45h3M3 46h1M16 46h1M23 46h5M35 46h1M40 46h2M45 46h2M56 46h1M67 46h2M71 46h1M78 46h1M89 46h2M3 47h1M18 47h1M24 47h4M40 47h1M68 47h2M72 47h1M78 47h4M88 47h3M3 48h1M19 48h1M24 48h4M68 48h2M77 48h1M82 48h1M89 48h2M3 49h1M20 49h1M27 49h6M37 49h1M63 49h1M67 49h3M77 49h7M90 49h1M2 50h1M20 50h1M32 50h1M47 50h1M64 50h3M68 50h2M72 50h1M75 50h1M91 50h1M0 51h1M20 51h3M32 51h2M69 51h1M72 51h1M76 51h1M23 52h2M31 52h1M34 52h1M58 52h1M72 52h1M76 52h1M83 52h3M93 52h3M25 53h4M30 53h2M35 53h1M57 53h1M76 53h1M80 53h4M86 53h2M93 53h1M8 54h1M29 54h2M58 54h4M73 54h6M82 54h2M86 54h3M8 55h2M61 55h1M66 55h2M78 55h1M82 55h1M87 55h2M94 55h1M0 56h2M9 56h2M61 56h1M65 56h1M67 56h2M82 56h1M2 57h2M8 57h3M41 57h4M61 57h2M65 57h1M67 57h1M74 57h2M82 57h1M3 58h8M45 58h3M60 58h4M66 58h1M74 58h2M81 58h1M4 59h2M7 59h4M45 59h3M59 59h3M64 59h1M73 59h3M8 60h2M14 60h2M45 60h1M50 60h3M60 60h1M92 60h4M8 61h2M13 61h2M16 61h1M51 61h1M88 61h2M93 61h3M8 62h1M13 62h1M17 62h1M87 62h1M89 62h1M8 63h1M13 63h1M17 63h1M88 63h1M3 64h5M13 64h1M17 64h1M59 64h4M1 65h1M12 65h1M28 65h2M57 65h2M62 65h5M0 66h1M11 66h1M16 66h1M28 66h3M46 66h1M57 66h1M61 66h2M66 66h2M0 67h1M10 67h1M29 67h2M32 67h6M46 67h1M56 67h5M63 67h2M67 67h4M1 68h1M10 68h1M28 68h10M46 68h2M55 68h5M64 68h7M3 69h1M10 69h1M28 69h3M32 69h3M37 69h3M45 69h2M55 69h4M65 69h2M68 69h1M77 69h1M5 70h1M10 70h1M12 70h1M20 70h2M28 70h2M33 70h2M38 70h1M54 70h4M77 70h2M7 71h1M10 71h2M20 71h2M28 71h2M33 71h1M35 71h1M77 71h2M7 72h1M35 72h1M69 72h1M74 72h1M77 72h1M7 73h1M33 73h1M35 73h1M64 73h2M69 73h1M75 73h3M7 74h5M63 74h1M66 74h4M79 74h2M95 74h1M6 75h1M11 75h2M63 75h1M66 75h4M78 75h3M6 76h1M11 76h1M63 76h1M67 76h2M70 76h1M76 76h4M90 76h4M6 77h1M23 77h1M63 77h1M67 77h1M76 77h1M79 77h1M6 78h1M21 78h1M63 78h1M67 78h1M75 78h1M78 78h2M20 79h1M25 79h1M67 79h1M75 79h2M78 79h4M86 79h1M88 79h3M19 80h2M65 80h2M75 80h1M77 80h3M86 80h4M95 80h1M34 81h1M36 81h1M72 81h2M86 81h1M88 81h2M91 81h1M42 82h2M73 82h2M85 82h1M36 83h1M42 83h2M84 83h1M1 84h2M17 84h1M34 84h3M47 84h2M84 84h2M93 84h3M1 85h2M12 85h1M16 85h1M35 85h2M47 85h2M86 85h1M19 86h1M31 86h1M33 86h2M36 86h1M47 86h1M49 86h2M76 86h1M78 86h2M83 86h1M86 86h1M19 87h1M38 87h2M42 87h1M47 87h1M50 87h1M76 87h3M83 87h1M86 87h1M93 87h1M42 88h1M48 88h1M83 88h1M86 88h1M94 88h1M18 89h1M42 89h1M48 89h1M51 89h1M7 90h2M10 90h1M15 90h3M42 90h1M49 90h1M75 90h1M82 90h1M6 91h6M27 91h2M40 91h1M43 91h1M50 91h1M82 91h1M6 92h2M27 92h4M40 92h1M44 92h1M59 92h1M65 92h3M76 92h1M81 92h2M6 93h1M26 93h6M41 93h1M44 93h2M57 93h1M60 93h1M65 93h1M80 93h1M6 94h1M23 94h1M29 94h1M31 94h1M58 94h3M75 94h1M87 94h2M90 94h1M6 95h1M29 95h1M31 95h1M65 95h1M86 95h1"/><path stroke="#780000" d="M54 0h1M56 0h1M54 1h2M0 11h1M89 14h1M89 15h1M35 17h1M27 23h3M31 23h2M27 24h1M24 26h1M23 28h1M23 32h1M25 33h1M69 33h3M68 35h1M56 49h1M17 69h1M57 81h1M60 82h1M71 84h1M72 85h1M65 86h2M68 87h1M71 87h1M95 95h1"/><path stroke="#781400" d="M30 0h1M32 0h2M50 0h4M57 0h1M77 0h2M33 1h1M51 1h3M56 1h2M75 1h2M51 2h6M67 2h1M74 2h1M52 3h2M67 3h3M74 3h1M67 4h4M67 5h5M55 6h1M69 6h2M32 12h2M52 12h2M50 13h3M89 13h2M50 14h3M90 14h1M50 15h3M90 15h2M22 16h1M89 16h3M23 17h2M92 17h1M24 18h6M35 18h1M92 18h2M0 19h1M25 19h4M94 19h2M25 20h5M22 21h2M25 21h8M24 22h9M24 23h3M30 23h1M33 23h1M9 24h1M24 24h3M9 25h1M24 25h3M9 26h1M23 26h1M23 27h1M8 29h2M22 29h1M66 29h1M8 30h1M22 30h1M64 30h3M8 31h1M22 31h1M65 31h1M7 32h2M69 32h1M87 32h1M8 33h1M23 33h2M26 33h3M68 33h1M72 33h2M86 33h2M24 34h6M67 34h7M82 34h1M20 35h2M69 35h5M81 35h1M19 36h4M32 36h1M68 36h2M81 36h1M21 37h1M33 37h1M67 37h1M81 37h1M33 38h1M81 42h1M81 43h1M53 49h3M42 50h1M53 50h5M52 51h5M52 52h2M52 53h1M52 54h1M25 55h1M34 55h3M33 56h3M33 57h3M20 58h1M34 58h2M78 58h1M19 59h3M29 59h1M78 59h2M19 60h3M29 60h2M77 60h3M77 61h2M37 62h1M80 62h2M81 63h1M90 64h2M52 65h2M90 65h2M51 66h2M51 67h2M73 68h1M15 69h2M18 69h1M84 69h1M15 70h3M84 70h1M40 76h1M56 80h7M56 81h1M58 81h5M61 82h2M70 83h2M72 84h2M57 85h2M60 85h2M73 85h1M57 86h3M62 86h1M72 86h2M63 87h5M72 87h1M64 88h5M71 88h1M66 89h4M22 90h1M69 90h1M21 91h2M22 92h2M50 94h1M9 95h2M14 95h3M49 95h2M94 95h1"/><path stroke="#782800" d="M31 0h1M30 1h1M50 1h1M77 1h1M50 2h1M57 2h1M66 2h1M75 2h1M49 3h3M54 3h1M66 3h1M40 4h1M49 4h1M66 4h1M54 5h1M2 6h1M53 6h2M67 6h2M71 6h1M69 7h2M42 9h1M0 10h2M52 10h1M42 11h2M52 11h2M40 12h1M51 12h1M54 12h1M34 13h1M53 13h1M88 13h1M91 13h1M53 14h1M91 14h1M22 15h1M29 16h1M25 17h4M89 17h3M91 18h1M29 19h1M93 19h1M0 20h1M95 20h1M10 22h1M23 22h1M33 22h1M55 22h1M23 23h1M34 23h1M36 23h1M52 23h2M55 23h1M95 23h1M7 24h1M23 24h1M51 24h4M23 25h1M8 26h1M7 28h1M22 28h1M7 29h1M62 29h4M67 29h1M7 30h1M9 30h1M62 30h2M67 30h1M7 31h1M9 31h1M66 31h3M9 32h1M22 32h1M65 32h1M68 32h1M86 32h1M7 33h1M9 33h1M84 33h2M88 33h1M8 34h2M23 34h1M81 34h1M19 35h1M22 35h1M28 35h3M80 35h1M31 36h1M73 36h1M80 36h1M22 37h1M32 37h1M66 37h1M68 37h1M91 37h1M81 38h1M93 39h1M93 40h1M81 41h1M93 41h1M12 42h1M80 42h1M12 43h1M80 43h1M12 44h1M81 44h2M94 45h2M84 46h1M55 47h1M14 49h1M41 49h2M95 49h1M41 50h1M51 50h2M10 51h2M41 51h1M50 51h2M57 51h1M10 52h1M50 52h2M54 52h3M51 53h1M53 53h1M50 54h2M53 54h1M24 55h1M26 55h1M33 55h1M37 55h1M51 55h6M18 56h3M24 56h1M27 56h1M32 56h1M37 56h1M53 56h3M17 57h4M25 57h3M32 57h1M54 57h2M18 58h2M21 58h1M28 58h3M32 58h2M18 59h1M22 59h1M28 59h1M30 59h2M35 59h1M77 59h1M18 60h1M22 60h1M27 60h2M31 60h1M35 60h1M37 60h1M18 61h3M28 61h2M32 61h3M36 61h3M79 61h1M28 62h1M38 62h1M79 62h1M82 62h1M45 63h1M66 63h1M53 64h1M92 64h1M51 65h1M86 65h1M92 65h1M53 66h1M90 66h2M73 67h2M90 67h1M72 68h1M74 68h1M85 68h2M90 68h1M14 69h1M72 69h2M85 69h1M89 69h3M14 70h1M18 70h1M43 70h1M89 70h3M15 71h2M42 71h1M85 71h1M86 72h1M60 73h2M60 74h2M39 75h2M16 76h1M39 76h1M50 76h2M16 77h1M28 77h2M39 77h2M49 77h3M15 78h2M28 78h3M16 79h1M29 79h2M54 79h1M56 79h3M60 79h2M16 80h2M31 80h1M53 80h3M16 81h2M53 81h1M55 81h1M16 82h1M70 82h1M93 82h1M23 83h1M72 83h1M22 84h2M23 85h1M52 85h1M56 85h1M74 85h1M55 86h2M60 86h2M74 86h1M52 87h1M54 87h4M62 87h1M73 87h1M53 88h2M63 88h1M72 88h1M54 89h2M64 89h2M20 90h2M54 90h1M68 90h1M70 90h1M92 90h1M20 91h1M54 91h1M69 91h2M92 91h1M21 92h1M10 94h1M14 94h2M11 95h1M13 95h1M77 95h1M83 95h1M93 95h1"/><path stroke="#783c00" d="M45 0h1M79 0h1M31 1h2M33 2h1M49 2h1M48 3h1M55 3h1M75 3h1M34 4h1M48 4h1M50 4h1M52 4h2M65 4h1M35 5h1M38 5h1M49 5h1M53 5h1M55 5h1M56 6h1M68 7h1M71 7h1M68 8h2M1 9h1M68 9h1M41 10h1M60 10h1M92 10h1M40 11h2M39 12h1M41 12h1M50 12h1M90 12h2M40 13h1M49 13h1M54 13h1M49 14h1M54 14h1M29 15h1M49 15h1M53 15h1M23 16h1M28 16h1M53 16h1M84 16h1M84 17h1M46 18h1M84 18h1M90 18h1M45 19h1M46 20h1M94 20h1M33 21h1M20 22h3M35 22h1M95 22h1M6 23h1M10 23h1M35 23h1M48 23h4M94 23h1M56 24h1M7 25h1M7 26h1M10 26h1M7 27h1M10 27h1M22 27h1M0 28h1M10 28h1M62 28h4M0 29h1M59 29h3M21 30h1M60 30h2M68 30h1M61 31h1M66 32h2M22 33h1M67 33h1M82 33h2M89 33h1M7 34h1M80 34h1M87 34h1M8 35h2M23 35h2M26 35h2M79 35h1M91 35h1M23 36h1M28 36h1M70 36h1M72 36h1M79 36h1M90 36h2M28 37h1M80 37h1M90 37h1M32 38h1M41 38h2M65 38h2M93 38h1M33 39h1M65 39h1M12 40h1M81 40h1M11 41h2M46 41h1M4 42h2M11 42h1M11 43h1M13 43h1M11 44h1M13 44h1M80 44h1M12 45h2M83 45h1M93 45h1M47 47h3M64 47h2M84 47h2M94 47h1M14 48h1M48 48h2M15 49h1M40 49h1M49 49h1M52 49h1M94 49h1M10 50h2M14 50h2M40 50h1M49 50h2M94 50h2M40 51h1M49 51h1M11 52h1M3 53h2M50 53h1M54 53h3M25 54h1M33 54h2M45 54h1M49 54h1M54 54h2M27 55h1M50 55h1M14 56h1M17 56h1M38 56h1M50 56h3M56 56h1M16 57h1M21 57h1M24 57h1M53 57h1M16 58h2M22 58h1M26 58h2M31 58h1M54 58h1M77 58h1M17 59h1M23 59h5M32 59h1M34 59h1M80 59h1M17 60h1M24 60h3M32 60h1M76 60h1M21 61h1M27 61h1M46 61h2M80 61h1M27 62h1M45 62h2M55 62h1M65 62h1M46 63h1M55 63h1M65 63h1M82 63h1M90 63h3M48 64h1M52 64h1M66 64h1M81 64h1M87 64h1M93 64h1M9 65h2M79 65h1M4 66h6M72 66h1M74 66h1M4 67h5M72 67h1M75 67h2M91 67h1M5 68h2M19 68h1M51 68h2M82 68h3M91 68h2M19 69h1M74 69h1M88 69h1M92 69h1M73 70h1M85 70h1M17 71h1M41 71h1M43 71h1M60 72h2M59 73h1M62 73h1M87 73h1M20 74h2M26 74h1M57 74h3M16 75h1M20 75h2M38 75h1M41 75h1M51 75h2M61 75h2M15 76h1M29 76h1M38 76h1M41 76h1M49 76h1M52 76h1M30 77h1M38 77h1M48 77h1M52 77h1M56 77h2M31 78h1M38 78h2M49 78h3M56 78h2M15 79h1M17 79h1M31 79h1M38 79h1M53 79h1M55 79h1M59 79h1M62 79h1M15 80h1M32 80h1M13 81h1M15 81h1M93 81h1M13 82h1M15 82h1M71 82h1M94 82h1M24 83h1M73 83h1M87 83h1M93 83h1M24 84h1M33 84h1M74 84h1M22 85h1M22 86h1M51 86h1M88 86h1M59 87h1M74 87h1M52 88h1M55 88h3M62 88h1M73 88h1M53 89h1M56 89h2M63 89h1M92 89h2M19 90h1M53 90h1M59 90h1M67 90h1M19 91h1M53 91h1M87 91h1M18 92h3M54 92h2M69 92h1M51 93h1M84 93h1M9 94h1M11 94h1M16 94h1M51 94h1M78 94h1M83 94h2M12 95h1M17 95h1M19 95h1M76 95h1M84 95h1"/><path stroke="#785000" d="M44 0h1M46 0h1M49 0h1M44 1h3M49 1h1M30 2h1M46 2h3M76 2h1M33 3h1M41 3h1M47 3h1M56 3h2M32 4h1M47 4h1M51 4h1M54 4h3M2 5h1M32 5h1M34 5h1M37 5h1M39 5h1M48 5h1M50 5h1M52 5h1M63 5h1M32 6h2M62 6h1M72 6h1M32 7h2M1 8h1M33 8h1M44 8h1M53 8h1M70 8h1M0 9h1M45 9h1M52 9h1M69 9h1M68 10h1M34 11h1M51 11h1M91 11h1M34 12h1M44 12h1M87 12h1M55 13h1M55 14h2M67 14h2M39 15h1M67 15h2M39 16h1M68 16h1M82 16h1M40 17h1M83 17h1M45 18h1M47 18h1M69 18h1M83 18h1M46 19h1M69 19h2M92 19h1M1 20h1M45 20h1M34 21h1M46 21h2M95 21h1M6 22h1M11 22h1M34 22h1M51 22h1M56 22h1M22 23h1M56 23h1M6 24h1M10 24h1M22 24h1M85 24h2M10 25h1M22 25h1M22 26h1M0 27h1M59 28h3M21 29h1M59 30h1M21 31h1M86 31h1M61 32h1M85 32h1M6 33h1M61 33h1M66 33h1M81 33h1M6 34h1M13 34h2M20 34h3M61 34h1M79 34h1M7 35h1M13 35h2M25 35h1M87 35h1M90 35h1M18 36h1M24 36h1M29 36h2M71 36h1M87 36h1M25 37h1M27 37h1M87 37h1M67 38h1M90 38h1M41 39h2M66 39h1M81 39h1M11 40h1M66 40h1M3 41h3M10 41h1M47 41h1M80 41h1M94 41h1M3 42h1M6 42h1M10 42h1M13 42h1M79 42h1M4 43h3M60 43h1M11 45h1M82 45h1M92 45h1M11 46h3M53 46h2M65 46h1M86 46h1M93 46h3M86 47h1M93 47h1M95 47h1M13 48h1M41 48h2M50 48h1M85 48h1M87 48h1M94 48h2M11 49h1M13 49h1M48 49h1M50 49h2M87 49h2M13 50h1M16 50h1M9 51h1M15 51h1M3 52h1M9 52h1M10 53h2M39 53h1M47 53h1M24 54h1M26 54h1M35 54h1M37 54h1M46 54h1M13 55h1M17 55h3M21 55h3M32 55h1M38 55h1M45 55h1M49 55h1M57 55h1M13 56h1M15 56h2M21 56h2M39 56h1M49 56h1M91 56h1M13 57h3M23 57h1M28 57h1M31 57h1M50 57h3M95 57h1M23 58h3M50 58h2M53 58h1M95 58h1M33 59h1M53 59h1M23 60h1M34 60h1M49 60h1M80 60h1M17 61h1M26 61h1M45 61h1M48 61h1M65 61h1M81 61h1M19 62h1M47 62h1M54 62h1M27 63h1M47 63h2M53 63h2M56 63h1M93 63h3M46 64h2M49 64h1M51 64h1M54 64h1M4 65h2M8 65h1M11 65h1M31 65h1M48 65h1M50 65h1M54 65h1M80 65h1M93 65h2M10 66h1M25 66h1M50 66h1M71 66h1M75 66h1M79 66h1M92 66h1M3 67h1M9 67h1M24 67h2M50 67h1M53 67h1M85 67h1M95 67h1M4 68h1M7 68h1M71 68h1M75 68h1M77 68h1M5 69h1M52 69h1M13 70h1M44 70h1M92 70h1M14 71h1M40 71h1M89 71h2M15 72h2M26 72h1M59 72h1M87 72h1M25 73h2M58 73h1M16 74h1M27 74h1M39 74h1M51 74h6M88 74h1M15 75h1M17 75h1M30 75h1M50 75h1M53 75h3M57 75h4M17 76h1M28 76h1M30 76h2M47 76h2M53 76h1M55 76h2M62 76h1M14 77h1M17 77h1M27 77h1M31 77h1M37 77h1M47 77h1M55 77h1M17 78h1M27 78h1M36 78h2M40 78h1M48 78h1M52 78h1M55 78h1M58 78h1M61 78h1M37 79h1M39 79h1M50 79h2M63 79h1M12 80h1M52 80h1M14 81h1M52 81h1M94 81h1M14 82h1M52 82h1M72 82h1M12 83h1M52 84h1M21 85h1M32 85h1M51 85h1M21 86h1M22 87h1M51 87h1M60 87h2M91 87h2M12 88h1M58 88h1M74 88h2M91 88h2M20 89h2M58 89h1M62 89h1M91 89h1M62 90h3M87 90h1M91 90h1M17 91h2M62 91h2M68 91h1M88 91h1M91 91h1M16 92h2M52 92h2M63 92h1M85 92h1M91 92h1M18 93h6M56 93h1M91 93h1M12 94h2M18 94h2M45 94h1M77 94h1M8 95h1M18 95h1M51 95h1"/><path stroke="#786400" d="M43 0h1M47 0h1M80 0h1M43 1h1M47 1h2M58 1h1M78 1h1M44 2h2M58 2h1M31 3h2M46 3h1M58 3h1M13 4h1M31 4h1M33 4h1M41 4h2M31 5h1M33 5h1M42 5h1M47 5h1M56 5h1M62 5h1M31 6h1M34 6h2M37 6h1M48 6h2M52 6h1M61 6h1M1 7h1M34 7h1M0 8h1M32 8h1M43 8h1M33 9h1M41 9h1M59 9h1M92 9h1M27 10h2M33 10h2M51 10h1M69 10h1M76 10h1M91 10h1M33 11h1M61 11h1M90 11h1M42 12h2M49 12h1M89 12h1M67 13h1M22 14h1M29 14h1M40 14h1M57 14h3M66 14h1M54 15h1M82 15h1M84 15h1M27 16h1M67 16h1M81 16h1M83 16h1M68 17h2M82 17h1M68 18h1M43 19h2M47 19h1M90 19h2M43 20h2M47 20h1M12 21h1M43 21h1M45 21h1M47 22h1M64 22h2M94 22h1M4 23h2M11 23h1M47 23h1M75 23h2M4 24h1M69 24h1M75 24h1M87 24h1M0 25h2M0 26h2M1 27h1M76 27h2M1 28h1M6 28h1M10 29h1M58 29h1M60 31h1M6 32h1M21 32h1M10 33h1M13 33h3M10 34h1M12 34h1M15 34h1M88 34h1M90 34h1M12 35h1M15 35h1M7 36h1M9 36h1M13 36h2M25 36h1M27 36h1M89 36h1M23 37h2M26 37h1M29 37h1M31 37h1M69 37h1M73 37h1M79 37h1M25 38h4M7 39h1M12 39h1M32 39h1M40 39h1M4 40h1M2 41h1M6 41h1M13 41h1M45 41h1M79 41h1M2 42h1M7 42h1M60 42h1M78 42h1M3 43h1M7 43h1M10 43h1M79 43h1M6 44h3M10 44h1M14 44h1M6 45h5M14 45h1M42 45h1M81 45h1M7 46h4M14 46h1M42 46h1M52 46h1M83 46h1M11 47h4M42 47h2M50 47h2M87 47h1M15 48h1M51 48h1M64 48h1M84 48h1M86 48h1M93 48h1M12 49h1M16 49h1M12 50h1M48 50h1M3 51h1M12 51h3M16 51h1M58 51h1M4 52h1M12 52h1M57 52h1M0 53h3M33 53h1M4 54h1M13 54h1M20 54h4M38 54h2M47 54h2M14 55h2M20 55h1M39 55h1M42 55h3M47 55h1M91 55h2M23 56h1M28 56h1M90 56h1M92 56h1M22 57h1M49 57h1M56 57h1M85 57h1M89 57h4M55 58h1M16 59h1M49 59h1M54 59h1M33 60h1M46 60h3M53 60h1M75 60h1M22 61h1M25 61h1M49 61h1M54 61h3M82 61h1M18 62h1M20 62h1M26 62h1M48 62h1M56 62h1M64 62h1M83 62h1M85 62h1M49 63h1M85 63h1M11 64h1M50 64h1M55 64h1M86 64h1M6 65h2M25 65h1M47 65h1M49 65h1M3 66h1M23 66h2M26 66h1M48 66h2M95 66h1M19 67h1M23 67h1M26 67h1M48 67h2M71 67h1M92 67h1M3 68h1M8 68h1M24 68h2M50 68h1M93 68h1M6 69h1M51 69h1M75 69h1M93 69h1M19 70h1M67 70h1M74 70h1M95 70h1M18 71h1M67 71h1M91 71h1M95 71h1M25 72h1M27 72h1M42 72h1M58 72h1M62 72h1M67 72h1M90 72h6M27 73h1M52 73h4M57 73h1M88 73h1M91 73h3M17 74h1M19 74h1M22 74h1M25 74h1M38 74h1M40 74h1M46 74h1M19 75h1M22 75h1M26 75h4M31 75h1M45 75h5M56 75h1M14 76h1M18 76h1M20 76h2M27 76h1M32 76h1M37 76h1M44 76h3M54 76h1M57 76h1M61 76h1M32 77h1M41 77h2M44 77h3M53 77h2M58 77h1M69 77h1M77 77h2M14 78h1M32 78h1M41 78h3M47 78h1M53 78h2M60 78h1M62 78h1M77 78h1M32 79h1M41 79h1M48 79h2M52 79h1M13 80h2M18 80h1M33 80h1M38 80h1M50 80h2M87 82h1M16 83h1M52 83h1M39 84h1M86 84h1M20 86h1M37 86h1M75 86h1M81 86h1M87 86h1M21 87h1M75 87h1M21 88h1M12 89h1M19 89h1M45 89h1M52 89h1M86 89h1M18 90h1M60 90h2M65 90h2M89 90h2M13 91h1M15 91h2M48 91h1M52 91h1M60 91h1M89 91h2M15 92h1M47 92h1M68 92h1M86 92h5M9 93h3M14 93h4M52 93h1M55 93h1M17 94h1M20 94h1M22 94h1M56 94h1M20 95h2M52 95h1"/><path stroke="#787800" d="M42 0h1M48 0h1M58 0h2M81 0h1M85 0h3M41 1h2M59 1h2M65 1h1M85 1h4M17 2h2M20 2h1M31 2h2M41 2h3M59 2h3M65 2h1M77 2h1M86 2h3M93 2h1M16 3h2M19 3h3M29 3h2M42 3h4M59 3h4M64 3h2M76 3h1M86 3h3M92 3h4M0 4h4M14 4h3M19 4h3M29 4h2M43 4h4M57 4h8M87 4h2M92 4h4M0 5h2M19 5h2M27 5h4M40 5h2M43 5h4M51 5h1M57 5h5M92 5h4M0 6h2M27 6h4M38 6h10M50 6h2M57 6h4M91 6h2M0 7h1M27 7h1M30 7h2M35 7h1M38 7h15M58 7h5M72 7h2M83 7h4M90 7h3M26 8h2M30 8h2M34 8h2M38 8h5M45 8h2M48 8h5M58 8h5M71 8h5M82 8h5M90 8h3M26 9h3M30 9h3M34 9h2M38 9h3M49 9h3M60 9h4M70 9h6M81 9h1M84 9h4M90 9h2M26 10h1M30 10h3M35 10h6M49 10h2M61 10h4M74 10h2M90 10h1M31 11h2M35 11h5M49 11h2M62 11h3M75 11h2M89 11h1M35 12h4M61 12h4M75 12h2M88 12h1M35 13h3M41 13h3M66 13h1M74 13h2M80 13h2M23 14h2M41 14h3M48 14h1M73 14h3M80 14h4M23 15h3M27 15h2M40 15h3M48 15h1M55 15h6M66 15h1M73 15h3M80 15h2M83 15h1M24 16h3M40 16h7M58 16h3M66 16h1M73 16h3M80 16h1M41 17h7M58 17h3M66 17h2M73 17h3M80 17h2M42 18h3M59 18h2M74 18h3M81 18h2M48 19h1M74 19h4M2 20h4M48 20h2M69 20h9M92 20h2M2 21h4M44 21h1M48 21h3M68 21h10M93 21h2M2 22h4M12 22h2M44 22h3M48 22h3M57 22h1M63 22h1M66 22h12M0 23h4M12 23h2M20 23h2M45 23h2M57 23h1M69 23h6M77 23h1M0 24h4M5 24h1M11 24h3M21 24h1M57 24h1M70 24h1M72 24h3M76 24h1M2 25h5M11 25h3M74 25h3M84 25h4M2 26h5M11 26h3M75 26h3M85 26h3M2 27h5M11 27h3M78 27h1M2 28h4M11 28h2M21 28h1M58 28h1M1 29h6M11 29h2M16 29h2M57 29h1M0 30h7M10 30h2M14 30h4M57 30h2M0 31h7M10 31h8M58 31h2M0 32h6M10 32h8M20 32h1M58 32h3M84 32h1M0 33h6M11 33h2M16 33h6M59 33h2M79 33h2M0 34h6M11 34h1M16 34h4M60 34h1M89 34h1M0 35h7M10 35h2M16 35h3M59 35h2M88 35h2M0 36h7M10 36h3M15 36h3M26 36h1M88 36h1M0 37h7M9 37h7M30 37h1M70 37h3M88 37h2M1 38h6M10 38h5M31 38h1M68 38h3M80 38h1M88 38h2M1 39h6M9 39h3M13 39h2M25 39h3M67 39h4M80 39h1M94 39h2M0 40h4M5 40h6M13 40h2M25 40h3M32 40h1M40 40h3M67 40h3M80 40h1M94 40h2M0 41h2M7 41h3M14 41h1M18 41h2M25 41h2M32 41h2M40 41h2M67 41h2M95 41h1M0 42h2M8 42h2M14 42h1M18 42h2M25 42h2M31 42h4M45 42h3M59 42h1M0 43h3M8 43h2M14 43h2M18 43h2M25 43h2M30 43h6M46 43h2M59 43h1M0 44h6M9 44h1M15 44h1M25 44h12M42 44h3M49 44h2M54 44h2M69 44h2M79 44h1M4 45h2M15 45h1M28 45h8M43 45h2M48 45h8M69 45h2M79 45h2M87 45h1M91 45h1M4 46h3M15 46h1M28 46h7M43 46h2M47 46h5M55 46h1M66 46h1M69 46h2M79 46h4M87 46h2M91 46h2M4 47h7M15 47h3M28 47h7M41 47h1M66 47h2M70 47h2M82 47h2M91 47h2M4 48h9M16 48h3M28 48h6M63 48h1M65 48h3M83 48h1M91 48h2M4 49h7M17 49h3M64 49h3M84 49h3M89 49h1M91 49h3M3 50h7M17 50h3M76 50h15M92 50h2M1 51h2M4 51h5M17 51h3M77 51h19M0 52h3M5 52h4M13 52h10M32 52h2M77 52h6M86 52h7M5 53h5M12 53h13M32 53h1M34 53h1M77 53h3M88 53h5M0 54h4M5 54h3M9 54h4M14 54h6M27 54h2M31 54h2M89 54h5M0 55h8M10 55h3M16 55h1M28 55h4M46 55h1M48 55h1M58 55h3M83 55h4M89 55h2M93 55h1M2 56h7M11 56h2M29 56h3M42 56h7M57 56h4M66 56h1M83 56h7M93 56h3M4 57h4M11 57h2M29 57h2M45 57h4M57 57h4M66 57h1M83 57h2M86 57h3M93 57h2M11 58h5M48 58h2M56 58h4M76 58h1M82 58h13M11 59h5M48 59h1M55 59h4M62 59h2M76 59h1M81 59h15M10 60h4M16 60h1M54 60h6M61 60h4M81 60h11M10 61h3M23 61h2M50 61h1M52 61h2M57 61h8M83 61h5M90 61h3M9 62h4M21 62h5M49 62h5M57 62h7M84 62h1M86 62h1M90 62h6M9 63h4M18 63h9M50 63h3M57 63h8M83 63h2M86 63h2M8 64h3M12 64h1M18 64h10M56 64h3M63 64h3M82 64h4M2 65h2M17 65h8M26 65h2M46 65h1M55 65h2M81 65h5M1 66h2M17 66h6M27 66h1M31 66h1M47 66h1M54 66h3M80 66h6M93 66h2M1 67h2M20 67h3M27 67h2M31 67h1M47 67h1M54 67h2M61 67h2M82 67h3M93 67h2M2 68h1M9 68h1M20 68h4M26 68h2M48 68h2M53 68h2M60 68h4M76 68h1M94 68h2M7 69h3M20 69h8M31 69h1M35 69h2M47 69h4M53 69h2M59 69h6M67 69h1M76 69h1M86 69h2M94 69h2M6 70h4M22 70h6M30 70h3M35 70h3M45 70h9M58 70h9M75 70h2M86 70h3M93 70h2M8 71h2M12 71h2M19 71h1M22 71h6M30 71h3M36 71h2M44 71h23M74 71h3M86 71h3M92 71h3M8 72h7M17 72h8M28 72h5M36 72h6M43 72h15M63 72h4M75 72h2M88 72h2M8 73h17M28 73h5M36 73h16M56 73h1M63 73h1M66 73h3M89 73h2M94 73h2M12 74h4M18 74h1M23 74h2M28 74h10M41 74h5M47 74h4M89 74h6M13 75h2M18 75h1M23 75h3M32 75h6M42 75h3M89 75h5M12 76h2M19 76h1M22 76h5M33 76h4M42 76h2M58 76h3M69 76h1M12 77h2M18 77h5M24 77h3M33 77h4M43 77h1M59 77h4M68 77h1M12 78h2M18 78h3M25 78h2M33 78h3M44 78h3M59 78h1M76 78h1M12 79h3M18 79h2M33 79h4M40 79h1M42 79h6M34 80h4M39 80h11M37 81h15M87 81h1M95 81h1M37 82h5M44 82h8M86 82h1M95 82h1M13 83h3M37 83h5M44 83h8M85 83h2M94 83h2M12 84h5M37 84h2M40 84h7M49 84h3M13 85h3M33 85h2M37 85h10M49 85h2M32 86h1M38 86h9M80 86h1M20 87h1M43 87h4M79 87h4M87 87h4M19 88h2M43 88h5M51 88h1M59 88h3M76 88h7M87 88h4M93 88h1M43 89h2M46 89h2M59 89h3M76 89h7M87 89h4M43 90h6M51 90h2M76 90h6M88 90h1M14 91h1M44 91h4M51 91h1M61 91h1M64 91h4M76 91h6M8 92h7M45 92h2M60 92h3M64 92h1M77 92h4M7 93h2M12 93h2M46 93h1M53 93h2M61 93h4M76 93h4M85 93h6M7 94h2M21 94h1M30 94h1M52 94h4M57 94h1M61 94h4M76 94h1M85 94h2M7 95h1M30 95h1M53 95h12M85 95h1"/></g></g></g><ellipse cx="2113.7" cy="2274.1" rx="11" ry="6" transform="rotate(-28 2113.7 2274.1)" fill="#ffc818" opacity="0.9" filter="url(#ib2)"/><ellipse cx="2115.7" cy="2273.1" rx="4" ry="2.5" transform="rotate(-28 2113.7 2274.1)" fill="#fff8b0" opacity="0.9" filter="url(#ib2)"/></g><rect x="1918.25" y="2209.15" width="521.6" height="519.8" fill="none" stroke="#000" stroke-width="1.8"/><rect x="1928" y="2656" width="260" height="11.8" fill="#fff"/><text x="2058.4" y="2711.6" font-size="41" text-anchor="middle" font-weight="bold" font-family="'Liberation Sans','DejaVu Sans',sans-serif" fill="#fff">40 µm</text>
</g>
</svg>
</body></html>
